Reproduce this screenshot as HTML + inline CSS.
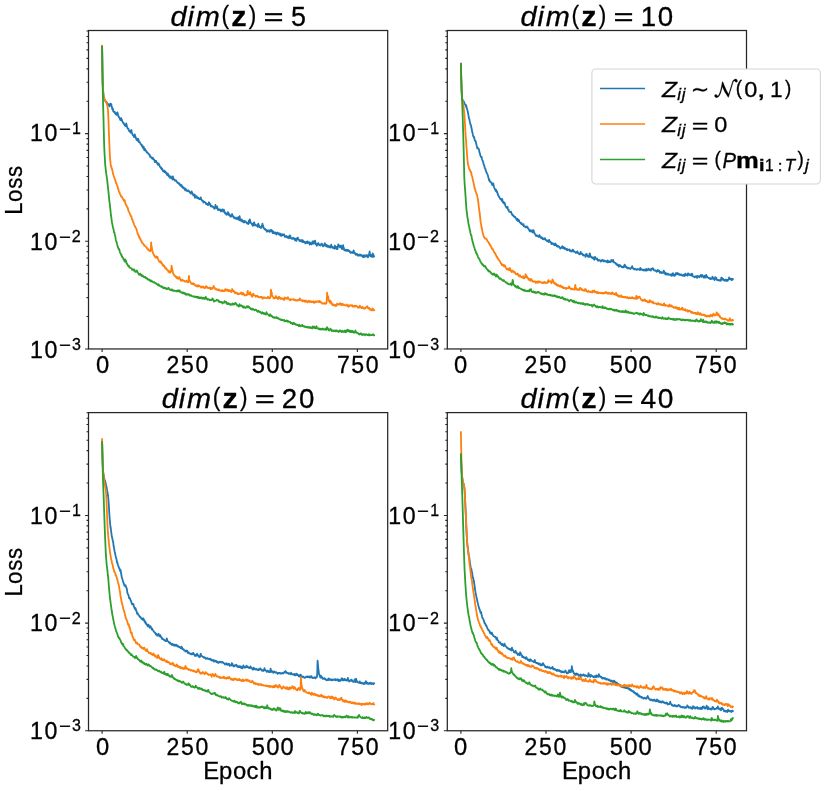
<!DOCTYPE html>
<html><head><meta charset="utf-8"><title>Training loss vs epoch for dim(z) = 5, 10, 20, 40</title><style>html,body{margin:0;padding:0;background:#fff;overflow:hidden;}svg{display:block;will-change:transform;filter:blur(0.3px);}text{font-family:"Liberation Sans",sans-serif;fill:#000;stroke:#000;stroke-width:0.3px;}</style></head><body>
<svg width="827" height="791" viewBox="0 0 827 791">
<rect width="827" height="791" fill="#fff"/>
<defs>
<clipPath id="c1"><rect x="88.50" y="30.50" width="299.20" height="318.45"/></clipPath>
<clipPath id="c2"><rect x="447.30" y="30.50" width="299.20" height="318.45"/></clipPath>
<clipPath id="c3"><rect x="88.50" y="412.60" width="299.20" height="318.15"/></clipPath>
<clipPath id="c4"><rect x="447.30" y="412.60" width="299.20" height="318.15"/></clipPath>
</defs>
<g clip-path="url(#c1)" fill="none" stroke-width="1.80" stroke-linejoin="round" stroke-linecap="square">
<path stroke="#1f77b4" d="M102.10 46.30 L102.44 72.08 L102.78 85.03 L103.12 90.85 L103.46 94.58 L103.80 96.91 L104.14 98.04 L104.48 99.30 L104.82 99.98 L105.16 100.63 L105.50 101.13 L105.84 101.87 L106.18 101.73 L106.53 102.51 L106.87 102.49 L107.21 103.66 L107.55 103.82 L107.89 104.08 L108.23 104.21 L108.57 104.91 L108.91 105.43 L109.25 105.55 L109.59 106.38 L109.93 104.16 L110.27 103.59 L110.61 104.93 L110.95 105.36 L111.29 104.06 L111.63 105.97 L111.97 107.22 L112.31 109.34 L112.65 108.36 L112.99 109.57 L113.33 111.66 L113.67 111.51 L114.01 112.13 L114.35 112.00 L114.69 111.71 L115.04 113.35 L115.38 113.89 L115.72 113.65 L116.06 114.40 L116.40 114.88 L116.74 112.93 L117.08 113.92 L117.42 112.43 L117.76 114.08 L118.10 115.02 L118.44 116.48 L118.78 116.52 L119.12 117.34 L119.46 117.54 L119.80 119.10 L120.14 118.94 L120.48 120.13 L120.82 119.00 L121.16 118.13 L121.50 119.14 L121.84 119.54 L122.18 120.92 L122.52 121.80 L122.86 122.50 L123.20 122.31 L123.55 122.73 L123.89 123.96 L124.23 124.05 L124.57 124.92 L124.91 125.68 L125.25 124.73 L125.59 126.11 L125.93 126.18 L126.27 123.49 L126.61 124.66 L126.95 126.73 L127.29 127.41 L127.63 128.59 L127.97 128.58 L128.31 128.54 L128.65 129.89 L128.99 130.22 L129.33 131.41 L129.67 131.55 L130.01 130.94 L130.35 131.54 L130.69 132.68 L131.03 130.39 L131.37 130.00 L131.71 131.72 L132.06 133.06 L132.40 133.96 L132.74 134.94 L133.08 135.22 L133.42 135.59 L133.76 135.99 L134.10 137.14 L134.44 135.23 L134.78 134.45 L135.12 136.12 L135.46 136.38 L135.80 138.20 L136.14 138.27 L136.48 139.67 L136.82 139.55 L137.16 140.36 L137.50 140.70 L137.84 138.63 L138.18 139.00 L138.52 139.51 L138.86 142.12 L139.20 141.68 L139.54 141.85 L139.88 142.49 L140.22 142.90 L140.57 144.07 L140.91 144.14 L141.25 144.64 L141.59 144.72 L141.93 145.90 L142.27 145.52 L142.61 146.98 L142.95 147.94 L143.29 146.66 L143.63 146.59 L143.97 148.82 L144.31 150.37 L144.65 148.69 L144.99 149.01 L145.33 150.52 L145.67 150.14 L146.01 150.74 L146.35 151.14 L146.69 152.11 L147.03 152.02 L147.37 152.85 L147.71 153.02 L148.05 153.06 L148.39 153.78 L148.73 153.83 L149.08 154.79 L149.42 154.54 L149.76 154.96 L150.10 156.83 L150.44 156.36 L150.78 156.75 L151.12 157.46 L151.46 157.31 L151.80 157.80 L152.14 158.54 L152.48 158.71 L152.82 157.65 L153.16 159.36 L153.50 159.05 L153.84 159.26 L154.18 159.79 L154.52 160.51 L154.86 162.07 L155.20 160.85 L155.54 161.96 L155.88 160.78 L156.22 161.09 L156.56 162.61 L156.90 162.71 L157.24 163.10 L157.59 164.11 L157.93 164.77 L158.27 164.73 L158.61 163.48 L158.95 164.22 L159.29 164.90 L159.63 165.97 L159.97 166.63 L160.31 167.25 L160.65 167.63 L160.99 168.17 L161.33 167.51 L161.67 169.33 L162.01 168.90 L162.35 168.92 L162.69 170.32 L163.03 171.06 L163.37 170.89 L163.71 171.03 L164.05 170.58 L164.39 172.19 L164.73 171.80 L165.07 171.25 L165.41 171.96 L165.75 172.90 L166.10 172.36 L166.44 173.73 L166.78 173.72 L167.12 175.04 L167.46 175.22 L167.80 173.43 L168.14 175.33 L168.48 174.69 L168.82 176.57 L169.16 176.34 L169.50 176.86 L169.84 176.20 L170.18 178.00 L170.52 177.54 L170.86 176.35 L171.20 177.68 L171.54 177.52 L171.88 178.28 L172.22 177.86 L172.56 179.63 L172.90 176.35 L173.24 177.71 L173.58 178.95 L173.92 178.93 L174.26 179.70 L174.61 179.97 L174.95 180.60 L175.29 180.32 L175.63 180.89 L175.97 180.38 L176.31 180.85 L176.65 181.55 L176.99 181.77 L177.33 182.75 L177.67 182.49 L178.01 182.93 L178.35 182.96 L178.69 183.35 L179.03 183.24 L179.37 184.58 L179.71 183.94 L180.05 184.48 L180.39 185.43 L180.73 185.77 L181.07 185.62 L181.41 185.00 L181.75 186.71 L182.09 186.93 L182.43 186.28 L182.77 187.84 L183.12 187.30 L183.46 187.35 L183.80 188.34 L184.14 188.47 L184.48 188.97 L184.82 188.20 L185.16 190.43 L185.50 189.30 L185.84 189.02 L186.18 190.51 L186.52 190.21 L186.86 190.85 L187.20 190.70 L187.54 191.06 L187.88 191.24 L188.22 190.29 L188.56 190.93 L188.90 190.89 L189.24 191.16 L189.58 192.13 L189.92 192.71 L190.26 192.65 L190.60 192.58 L190.94 193.66 L191.28 192.27 L191.63 191.42 L191.97 192.94 L192.31 192.80 L192.65 194.11 L192.99 194.47 L193.33 195.36 L193.67 194.62 L194.01 195.06 L194.35 195.87 L194.69 194.51 L195.03 197.94 L195.37 195.98 L195.71 196.19 L196.05 197.32 L196.39 197.03 L196.73 196.24 L197.07 197.84 L197.41 198.16 L197.75 197.46 L198.09 197.84 L198.43 198.54 L198.77 197.99 L199.11 199.00 L199.45 199.10 L199.79 198.81 L200.14 198.56 L200.48 199.14 L200.82 197.31 L201.16 199.39 L201.50 199.61 L201.84 200.49 L202.18 200.52 L202.52 200.93 L202.86 200.62 L203.20 201.71 L203.54 202.60 L203.88 201.62 L204.22 201.69 L204.56 202.16 L204.90 202.19 L205.24 202.28 L205.58 202.97 L205.92 202.94 L206.26 204.14 L206.60 203.53 L206.94 203.92 L207.28 204.49 L207.62 203.98 L207.96 205.17 L208.30 204.11 L208.65 203.84 L208.99 202.27 L209.33 203.41 L209.67 203.41 L210.01 204.76 L210.35 204.28 L210.69 206.41 L211.03 205.88 L211.37 205.84 L211.71 205.94 L212.05 206.47 L212.39 206.79 L212.73 206.52 L213.07 206.77 L213.41 207.23 L213.75 207.33 L214.09 208.41 L214.43 208.72 L214.77 208.19 L215.11 208.20 L215.45 204.96 L215.79 207.41 L216.13 207.83 L216.47 208.28 L216.81 206.93 L217.16 206.46 L217.50 208.94 L217.84 208.79 L218.18 210.18 L218.52 209.35 L218.86 209.86 L219.20 209.35 L219.54 210.15 L219.88 210.19 L220.22 209.47 L220.56 210.17 L220.90 211.43 L221.24 211.22 L221.58 210.29 L221.92 210.58 L222.26 209.33 L222.60 210.59 L222.94 210.61 L223.28 211.64 L223.62 209.73 L223.96 209.88 L224.30 210.77 L224.64 212.42 L224.98 213.27 L225.32 212.74 L225.67 213.49 L226.01 213.83 L226.35 214.73 L226.69 214.65 L227.03 213.65 L227.37 214.35 L227.71 212.26 L228.05 214.04 L228.39 212.62 L228.73 213.87 L229.07 215.42 L229.41 214.27 L229.75 214.68 L230.09 215.95 L230.43 216.48 L230.77 215.73 L231.11 216.57 L231.45 216.24 L231.79 215.74 L232.13 214.03 L232.47 215.85 L232.81 215.56 L233.15 216.52 L233.49 216.95 L233.83 217.91 L234.18 217.53 L234.52 217.10 L234.86 218.15 L235.20 218.46 L235.54 218.17 L235.88 218.29 L236.22 218.51 L236.56 217.81 L236.90 219.06 L237.24 219.22 L237.58 218.61 L237.92 219.01 L238.26 217.11 L238.60 218.44 L238.94 218.94 L239.28 220.26 L239.62 216.04 L239.96 218.52 L240.30 219.60 L240.64 219.88 L240.98 220.79 L241.32 219.88 L241.66 219.41 L242.00 221.39 L242.34 220.46 L242.69 221.13 L243.03 220.81 L243.37 222.24 L243.71 222.28 L244.05 221.47 L244.39 222.36 L244.73 221.03 L245.07 221.38 L245.41 221.21 L245.75 221.65 L246.09 222.55 L246.43 222.71 L246.77 222.59 L247.11 223.58 L247.45 222.84 L247.79 223.51 L248.13 223.66 L248.47 223.98 L248.81 220.66 L249.15 222.91 L249.49 220.32 L249.83 219.41 L250.17 220.55 L250.51 222.46 L250.85 223.01 L251.20 222.98 L251.54 223.44 L251.88 224.15 L252.22 224.37 L252.56 225.62 L252.90 225.91 L253.24 225.34 L253.58 222.75 L253.92 222.87 L254.26 222.48 L254.60 223.86 L254.94 225.32 L255.28 225.22 L255.62 225.02 L255.96 225.61 L256.30 225.62 L256.64 225.56 L256.98 225.13 L257.32 225.80 L257.66 226.83 L258.00 224.34 L258.34 223.65 L258.68 225.36 L259.02 225.46 L259.36 227.13 L259.71 227.20 L260.05 227.00 L260.39 227.75 L260.73 227.88 L261.07 227.89 L261.41 227.67 L261.75 225.67 L262.09 226.19 L262.43 223.66 L262.77 225.44 L263.11 225.56 L263.45 227.37 L263.79 228.20 L264.13 228.43 L264.47 228.90 L264.81 229.41 L265.15 228.97 L265.49 229.45 L265.83 230.09 L266.17 230.54 L266.51 230.25 L266.85 231.69 L267.19 230.34 L267.53 231.12 L267.87 231.42 L268.22 230.75 L268.56 230.48 L268.90 230.40 L269.24 231.28 L269.58 231.90 L269.92 231.29 L270.26 230.06 L270.60 230.32 L270.94 231.32 L271.28 229.93 L271.62 230.49 L271.96 231.00 L272.30 230.67 L272.64 233.06 L272.98 231.28 L273.32 231.69 L273.66 231.80 L274.00 233.29 L274.34 232.29 L274.68 233.32 L275.02 233.40 L275.36 233.33 L275.70 232.55 L276.04 233.06 L276.38 234.48 L276.73 232.85 L277.07 233.04 L277.41 232.55 L277.75 233.51 L278.09 233.52 L278.43 234.08 L278.77 233.28 L279.11 234.64 L279.45 234.58 L279.79 233.38 L280.13 234.66 L280.47 235.59 L280.81 234.16 L281.15 234.88 L281.49 235.84 L281.83 234.35 L282.17 234.19 L282.51 234.71 L282.85 235.18 L283.19 234.92 L283.53 234.55 L283.87 234.93 L284.21 234.51 L284.55 235.90 L284.89 236.94 L285.24 236.78 L285.58 236.86 L285.92 236.43 L286.26 236.89 L286.60 236.05 L286.94 237.23 L287.28 236.82 L287.62 237.72 L287.96 237.51 L288.30 236.77 L288.64 237.60 L288.98 238.30 L289.32 236.75 L289.66 235.49 L290.00 236.11 L290.34 235.78 L290.68 237.82 L291.02 238.48 L291.36 238.53 L291.70 238.48 L292.04 238.52 L292.38 238.82 L292.72 238.15 L293.06 237.76 L293.40 238.39 L293.75 238.78 L294.09 238.31 L294.43 238.97 L294.77 239.08 L295.11 240.43 L295.45 239.71 L295.79 238.70 L296.13 240.11 L296.47 240.78 L296.81 238.43 L297.15 238.72 L297.49 239.08 L297.83 237.68 L298.17 238.59 L298.51 239.31 L298.85 239.48 L299.19 240.33 L299.53 240.94 L299.87 240.46 L300.21 240.34 L300.55 240.20 L300.89 240.38 L301.23 241.61 L301.57 240.86 L301.91 240.03 L302.26 241.17 L302.60 241.98 L302.94 240.29 L303.28 241.98 L303.62 242.10 L303.96 241.57 L304.30 241.63 L304.64 242.31 L304.98 242.34 L305.32 243.45 L305.66 242.94 L306.00 241.90 L306.34 242.34 L306.68 242.92 L307.02 241.52 L307.36 241.35 L307.70 241.87 L308.04 243.20 L308.38 242.46 L308.72 242.51 L309.06 242.15 L309.40 242.88 L309.74 244.61 L310.08 242.70 L310.42 243.65 L310.77 242.95 L311.11 243.91 L311.45 244.33 L311.79 243.13 L312.13 243.53 L312.47 241.35 L312.81 242.69 L313.15 243.83 L313.49 241.33 L313.83 241.76 L314.17 241.46 L314.51 242.20 L314.85 243.14 L315.19 240.72 L315.53 244.11 L315.87 244.58 L316.21 244.00 L316.55 244.32 L316.89 245.72 L317.23 243.78 L317.57 244.41 L317.91 243.57 L318.25 243.09 L318.59 243.62 L318.93 244.14 L319.28 245.06 L319.62 245.03 L319.96 245.39 L320.30 245.65 L320.64 245.29 L320.98 245.09 L321.32 243.57 L321.66 243.64 L322.00 243.96 L322.34 244.43 L322.68 245.32 L323.02 246.44 L323.36 246.11 L323.70 245.78 L324.04 245.54 L324.38 245.49 L324.72 243.23 L325.06 243.94 L325.40 244.07 L325.74 245.12 L326.08 246.36 L326.42 244.84 L326.76 246.20 L327.10 245.32 L327.44 246.82 L327.79 246.42 L328.13 245.72 L328.47 246.79 L328.81 246.32 L329.15 246.26 L329.49 247.42 L329.83 247.06 L330.17 246.07 L330.51 247.69 L330.85 246.94 L331.19 244.62 L331.53 246.56 L331.87 246.77 L332.21 246.68 L332.55 247.79 L332.89 247.03 L333.23 248.10 L333.57 247.35 L333.91 248.32 L334.25 247.42 L334.59 248.55 L334.93 245.52 L335.27 247.48 L335.61 246.99 L335.95 247.70 L336.30 248.78 L336.64 246.94 L336.98 248.03 L337.32 249.14 L337.66 247.89 L338.00 245.70 L338.34 244.34 L338.68 246.30 L339.02 245.36 L339.36 246.08 L339.70 246.60 L340.04 247.44 L340.38 245.86 L340.72 246.86 L341.06 245.55 L341.40 246.99 L341.74 248.41 L342.08 249.08 L342.42 247.66 L342.76 247.69 L343.10 245.15 L343.44 248.70 L343.78 247.70 L344.12 249.90 L344.46 250.29 L344.81 249.90 L345.15 249.70 L345.49 250.33 L345.83 249.78 L346.17 250.74 L346.51 250.68 L346.85 250.84 L347.19 249.75 L347.53 250.73 L347.87 249.93 L348.21 251.11 L348.55 250.36 L348.89 250.56 L349.23 250.95 L349.57 250.95 L349.91 252.27 L350.25 252.41 L350.59 252.78 L350.93 252.19 L351.27 252.52 L351.61 252.18 L351.95 251.97 L352.29 252.91 L352.63 252.29 L352.97 251.93 L353.32 252.96 L353.66 250.36 L354.00 252.08 L354.34 252.41 L354.68 252.91 L355.02 252.93 L355.36 254.37 L355.70 254.37 L356.04 254.92 L356.38 254.49 L356.72 253.82 L357.06 254.49 L357.40 254.16 L357.74 255.23 L358.08 255.79 L358.42 255.40 L358.76 254.97 L359.10 255.15 L359.44 255.29 L359.78 254.56 L360.12 255.63 L360.46 255.67 L360.80 254.71 L361.14 255.17 L361.48 255.78 L361.83 255.41 L362.17 255.55 L362.51 256.57 L362.85 256.33 L363.19 257.20 L363.53 255.58 L363.87 255.19 L364.21 256.81 L364.55 256.86 L364.89 255.92 L365.23 255.53 L365.57 256.37 L365.91 255.42 L366.25 256.25 L366.59 255.21 L366.93 256.34 L367.27 255.27 L367.61 256.36 L367.95 257.34 L368.29 256.10 L368.63 256.14 L368.97 255.13 L369.31 253.11 L369.65 251.50 L369.99 254.51 L370.34 254.82 L370.68 256.33 L371.02 254.86 L371.36 255.79 L371.70 256.19 L372.04 256.99 L372.38 256.70 L372.72 253.50 L373.06 254.29 L373.40 254.60 L373.74 256.76 L374.08 256.19"/>
<path stroke="#ff7f0e" d="M102.10 46.00 L102.44 72.03 L102.78 85.27 L103.12 91.04 L103.46 94.82 L103.80 97.29 L104.14 98.20 L104.48 99.24 L104.82 99.95 L105.16 100.41 L105.50 101.49 L105.84 101.67 L106.18 102.30 L106.53 102.86 L106.87 104.23 L107.21 105.14 L107.55 106.91 L107.89 109.43 L108.23 114.82 L108.57 122.48 L108.91 132.87 L109.25 141.06 L109.59 149.24 L109.93 156.75 L110.27 160.64 L110.61 163.91 L110.95 166.38 L111.29 166.59 L111.63 167.90 L111.97 169.12 L112.31 170.08 L112.65 171.74 L112.99 173.61 L113.33 174.75 L113.67 175.68 L114.01 176.74 L114.35 177.56 L114.69 178.92 L115.04 179.15 L115.38 180.41 L115.72 181.69 L116.06 183.32 L116.40 183.22 L116.74 184.40 L117.08 185.62 L117.42 185.89 L117.76 187.08 L118.10 189.09 L118.44 189.07 L118.78 191.21 L119.12 192.09 L119.46 191.98 L119.80 193.32 L120.14 194.41 L120.48 194.63 L120.82 195.58 L121.16 196.68 L121.50 196.47 L121.84 196.83 L122.18 197.21 L122.52 198.33 L122.86 198.61 L123.20 199.25 L123.55 199.93 L123.89 200.86 L124.23 200.69 L124.57 200.05 L124.91 200.83 L125.25 203.19 L125.59 203.65 L125.93 204.78 L126.27 205.16 L126.61 205.76 L126.95 206.97 L127.29 207.02 L127.63 207.63 L127.97 208.73 L128.31 210.64 L128.65 210.98 L128.99 211.85 L129.33 212.42 L129.67 213.10 L130.01 214.54 L130.35 215.01 L130.69 215.59 L131.03 216.53 L131.37 216.29 L131.71 217.82 L132.06 219.23 L132.40 219.51 L132.74 221.35 L133.08 221.52 L133.42 222.77 L133.76 223.32 L134.10 224.44 L134.44 225.42 L134.78 226.09 L135.12 226.74 L135.46 227.09 L135.80 227.96 L136.14 228.46 L136.48 229.13 L136.82 230.58 L137.16 231.85 L137.50 232.75 L137.84 234.37 L138.18 234.46 L138.52 235.04 L138.86 236.74 L139.20 236.45 L139.54 237.99 L139.88 238.02 L140.22 239.23 L140.57 239.05 L140.91 240.78 L141.25 241.01 L141.59 241.29 L141.93 242.82 L142.27 242.98 L142.61 243.20 L142.95 243.36 L143.29 244.06 L143.63 244.44 L143.97 245.18 L144.31 245.61 L144.65 245.44 L144.99 245.85 L145.33 246.22 L145.67 246.27 L146.01 246.90 L146.35 247.43 L146.69 248.07 L147.03 248.64 L147.37 248.18 L147.71 249.03 L148.05 249.00 L148.39 250.30 L148.73 249.86 L149.08 250.43 L149.42 250.25 L149.76 250.66 L150.10 251.32 L150.44 251.07 L150.78 250.00 L151.12 242.42 L151.46 246.18 L151.80 247.11 L152.14 250.21 L152.48 251.07 L152.82 252.83 L153.16 252.89 L153.50 254.39 L153.84 254.57 L154.18 255.25 L154.52 256.02 L154.86 256.40 L155.20 257.09 L155.54 257.66 L155.88 257.75 L156.22 256.29 L156.56 256.79 L156.90 257.52 L157.24 256.84 L157.59 257.21 L157.93 259.19 L158.27 259.56 L158.61 260.19 L158.95 261.20 L159.29 261.59 L159.63 261.87 L159.97 261.80 L160.31 262.41 L160.65 261.27 L160.99 261.61 L161.33 263.24 L161.67 263.36 L162.01 263.13 L162.35 264.51 L162.69 264.49 L163.03 265.84 L163.37 266.05 L163.71 265.21 L164.05 265.75 L164.39 266.01 L164.73 266.67 L165.07 267.94 L165.41 268.15 L165.75 268.20 L166.10 268.93 L166.44 268.32 L166.78 269.56 L167.12 270.11 L167.46 270.05 L167.80 270.17 L168.14 270.97 L168.48 271.80 L168.82 271.44 L169.16 271.24 L169.50 272.49 L169.84 271.52 L170.18 272.64 L170.52 272.24 L170.86 271.75 L171.20 270.44 L171.54 265.69 L171.88 268.03 L172.22 269.27 L172.56 270.67 L172.90 272.43 L173.24 273.91 L173.58 274.18 L173.92 274.73 L174.26 275.09 L174.61 275.87 L174.95 276.10 L175.29 276.38 L175.63 276.19 L175.97 277.17 L176.31 277.53 L176.65 276.81 L176.99 278.42 L177.33 278.08 L177.67 277.86 L178.01 277.56 L178.35 278.73 L178.69 278.86 L179.03 278.42 L179.37 277.08 L179.71 278.67 L180.05 278.55 L180.39 279.00 L180.73 280.56 L181.07 280.57 L181.41 280.36 L181.75 280.05 L182.09 280.66 L182.43 279.74 L182.77 280.81 L183.12 280.65 L183.46 280.59 L183.80 280.49 L184.14 280.68 L184.48 280.94 L184.82 281.31 L185.16 281.83 L185.50 281.31 L185.84 281.37 L186.18 281.11 L186.52 280.63 L186.86 281.70 L187.20 281.89 L187.54 282.17 L187.88 281.91 L188.22 282.25 L188.56 281.20 L188.90 275.84 L189.24 279.41 L189.58 280.68 L189.92 281.21 L190.26 281.95 L190.60 282.43 L190.94 282.52 L191.28 283.67 L191.63 283.37 L191.97 283.98 L192.31 283.93 L192.65 284.17 L192.99 283.21 L193.33 283.55 L193.67 284.09 L194.01 284.33 L194.35 284.04 L194.69 284.70 L195.03 285.50 L195.37 285.52 L195.71 285.33 L196.05 285.86 L196.39 285.47 L196.73 286.38 L197.07 286.15 L197.41 285.53 L197.75 286.41 L198.09 286.52 L198.43 285.29 L198.77 286.10 L199.11 286.28 L199.45 285.81 L199.79 286.20 L200.14 286.27 L200.48 286.67 L200.82 286.73 L201.16 287.72 L201.50 286.69 L201.84 287.36 L202.18 287.05 L202.52 287.20 L202.86 286.74 L203.20 286.53 L203.54 287.03 L203.88 287.66 L204.22 288.04 L204.56 287.73 L204.90 287.74 L205.24 287.24 L205.58 287.89 L205.92 286.29 L206.26 286.12 L206.60 286.72 L206.94 286.69 L207.28 287.87 L207.62 287.68 L207.96 287.67 L208.30 288.00 L208.65 288.14 L208.99 287.92 L209.33 287.70 L209.67 287.77 L210.01 287.68 L210.35 288.58 L210.69 289.30 L211.03 287.90 L211.37 288.65 L211.71 288.82 L212.05 288.34 L212.39 288.79 L212.73 288.05 L213.07 287.34 L213.41 286.90 L213.75 286.00 L214.09 287.45 L214.43 287.78 L214.77 287.76 L215.11 288.55 L215.45 289.27 L215.79 289.12 L216.13 289.37 L216.47 289.00 L216.81 289.55 L217.16 289.85 L217.50 289.63 L217.84 290.17 L218.18 289.58 L218.52 289.41 L218.86 289.30 L219.20 290.43 L219.54 290.05 L219.88 290.52 L220.22 290.38 L220.56 290.89 L220.90 290.82 L221.24 290.26 L221.58 290.57 L221.92 290.94 L222.26 290.13 L222.60 291.20 L222.94 291.18 L223.28 291.15 L223.62 290.77 L223.96 291.02 L224.30 290.54 L224.64 290.99 L224.98 290.50 L225.32 289.16 L225.67 289.11 L226.01 289.98 L226.35 290.49 L226.69 289.82 L227.03 290.15 L227.37 289.58 L227.71 289.91 L228.05 290.94 L228.39 291.00 L228.73 290.10 L229.07 289.95 L229.41 290.97 L229.75 291.15 L230.09 290.55 L230.43 290.92 L230.77 291.71 L231.11 291.48 L231.45 291.89 L231.79 291.35 L232.13 289.02 L232.47 289.57 L232.81 290.09 L233.15 291.18 L233.49 290.65 L233.83 291.06 L234.18 291.72 L234.52 291.97 L234.86 292.79 L235.20 292.26 L235.54 293.25 L235.88 293.10 L236.22 292.82 L236.56 292.68 L236.90 292.88 L237.24 293.05 L237.58 294.21 L237.92 294.20 L238.26 293.49 L238.60 294.25 L238.94 293.93 L239.28 293.60 L239.62 293.75 L239.96 293.87 L240.30 293.79 L240.64 293.25 L240.98 292.56 L241.32 293.32 L241.66 292.74 L242.00 294.29 L242.34 294.55 L242.69 294.07 L243.03 292.89 L243.37 293.51 L243.71 293.84 L244.05 294.41 L244.39 295.34 L244.73 294.50 L245.07 295.29 L245.41 295.40 L245.75 295.16 L246.09 295.34 L246.43 295.01 L246.77 295.09 L247.11 294.69 L247.45 291.52 L247.79 290.85 L248.13 293.90 L248.47 293.57 L248.81 294.39 L249.15 293.82 L249.49 294.24 L249.83 293.52 L250.17 292.19 L250.51 293.96 L250.85 294.67 L251.20 294.43 L251.54 295.63 L251.88 295.32 L252.22 296.83 L252.56 295.79 L252.90 295.43 L253.24 293.59 L253.58 294.40 L253.92 295.16 L254.26 295.35 L254.60 295.45 L254.94 295.33 L255.28 295.92 L255.62 296.78 L255.96 295.81 L256.30 296.39 L256.64 296.34 L256.98 296.10 L257.32 295.64 L257.66 296.15 L258.00 296.99 L258.34 296.81 L258.68 296.79 L259.02 297.29 L259.36 297.23 L259.71 297.10 L260.05 297.36 L260.39 296.86 L260.73 296.99 L261.07 297.21 L261.41 297.05 L261.75 296.87 L262.09 297.98 L262.43 297.51 L262.77 298.67 L263.11 297.32 L263.45 297.88 L263.79 297.46 L264.13 297.76 L264.47 298.02 L264.81 297.44 L265.15 297.72 L265.49 297.72 L265.83 297.77 L266.17 298.02 L266.51 298.23 L266.85 298.20 L267.19 298.01 L267.53 297.68 L267.87 296.67 L268.22 297.22 L268.56 297.56 L268.90 298.18 L269.24 297.90 L269.58 297.63 L269.92 298.30 L270.26 297.44 L270.60 295.94 L270.94 289.68 L271.28 292.19 L271.62 292.11 L271.96 294.24 L272.30 295.88 L272.64 296.48 L272.98 296.87 L273.32 297.40 L273.66 298.42 L274.00 297.92 L274.34 298.39 L274.68 297.86 L275.02 297.67 L275.36 297.94 L275.70 296.14 L276.04 296.04 L276.38 296.70 L276.73 297.99 L277.07 297.86 L277.41 297.88 L277.75 297.91 L278.09 299.14 L278.43 298.58 L278.77 296.77 L279.11 297.08 L279.45 297.18 L279.79 298.18 L280.13 298.43 L280.47 297.99 L280.81 299.07 L281.15 298.83 L281.49 298.35 L281.83 298.59 L282.17 298.48 L282.51 298.88 L282.85 298.91 L283.19 298.46 L283.53 299.72 L283.87 299.35 L284.21 299.72 L284.55 299.47 L284.89 297.39 L285.24 297.96 L285.58 297.94 L285.92 298.40 L286.26 298.40 L286.60 298.47 L286.94 298.75 L287.28 297.63 L287.62 298.13 L287.96 297.25 L288.30 298.70 L288.64 298.69 L288.98 299.13 L289.32 299.49 L289.66 299.75 L290.00 300.43 L290.34 299.85 L290.68 299.25 L291.02 299.59 L291.36 299.37 L291.70 299.51 L292.04 299.32 L292.38 299.47 L292.72 299.65 L293.06 299.68 L293.40 299.21 L293.75 299.24 L294.09 299.66 L294.43 300.23 L294.77 299.62 L295.11 299.74 L295.45 300.21 L295.79 300.26 L296.13 300.60 L296.47 300.32 L296.81 300.16 L297.15 300.69 L297.49 300.54 L297.83 299.94 L298.17 300.29 L298.51 299.68 L298.85 300.23 L299.19 300.01 L299.53 299.95 L299.87 298.38 L300.21 299.20 L300.55 299.70 L300.89 300.26 L301.23 300.40 L301.57 300.27 L301.91 300.12 L302.26 301.16 L302.60 301.30 L302.94 300.66 L303.28 301.09 L303.62 300.36 L303.96 300.39 L304.30 300.92 L304.64 301.61 L304.98 300.71 L305.32 300.83 L305.66 301.79 L306.00 300.52 L306.34 301.52 L306.68 301.50 L307.02 301.29 L307.36 301.48 L307.70 302.44 L308.04 301.06 L308.38 301.32 L308.72 300.90 L309.06 300.95 L309.40 300.88 L309.74 302.12 L310.08 301.73 L310.42 301.08 L310.77 301.57 L311.11 302.07 L311.45 302.14 L311.79 301.51 L312.13 302.06 L312.47 302.13 L312.81 301.61 L313.15 301.87 L313.49 301.25 L313.83 302.78 L314.17 302.23 L314.51 302.55 L314.85 302.45 L315.19 301.69 L315.53 301.55 L315.87 302.43 L316.21 301.56 L316.55 301.79 L316.89 301.57 L317.23 301.23 L317.57 301.31 L317.91 301.51 L318.25 302.09 L318.59 301.23 L318.93 301.90 L319.28 301.94 L319.62 300.97 L319.96 302.14 L320.30 301.95 L320.64 301.95 L320.98 302.65 L321.32 302.42 L321.66 302.60 L322.00 303.15 L322.34 303.60 L322.68 303.41 L323.02 303.58 L323.36 303.60 L323.70 303.70 L324.04 303.26 L324.38 303.01 L324.72 303.29 L325.06 303.65 L325.40 303.47 L325.74 303.80 L326.08 303.54 L326.42 303.09 L326.76 301.05 L327.10 292.74 L327.44 296.08 L327.79 296.93 L328.13 296.32 L328.47 298.21 L328.81 300.62 L329.15 301.56 L329.49 301.84 L329.83 302.60 L330.17 300.55 L330.51 302.09 L330.85 302.99 L331.19 301.92 L331.53 303.12 L331.87 304.22 L332.21 304.69 L332.55 304.28 L332.89 304.79 L333.23 305.41 L333.57 304.76 L333.91 304.49 L334.25 305.03 L334.59 304.96 L334.93 305.64 L335.27 305.26 L335.61 304.93 L335.95 306.15 L336.30 305.04 L336.64 305.13 L336.98 303.65 L337.32 304.22 L337.66 304.38 L338.00 304.79 L338.34 304.52 L338.68 303.93 L339.02 304.38 L339.36 304.42 L339.70 304.42 L340.04 303.16 L340.38 303.45 L340.72 304.62 L341.06 305.05 L341.40 303.89 L341.74 304.86 L342.08 304.42 L342.42 303.76 L342.76 305.12 L343.10 304.81 L343.44 304.50 L343.78 304.59 L344.12 304.69 L344.46 305.13 L344.81 305.06 L345.15 305.42 L345.49 305.28 L345.83 305.49 L346.17 305.23 L346.51 305.46 L346.85 304.48 L347.19 305.39 L347.53 305.84 L347.87 305.81 L348.21 306.25 L348.55 306.88 L348.89 305.14 L349.23 305.98 L349.57 305.80 L349.91 305.87 L350.25 305.48 L350.59 305.59 L350.93 305.43 L351.27 305.17 L351.61 305.62 L351.95 305.71 L352.29 305.21 L352.63 306.60 L352.97 306.18 L353.32 306.02 L353.66 306.55 L354.00 306.25 L354.34 305.69 L354.68 306.66 L355.02 305.84 L355.36 306.45 L355.70 306.43 L356.04 305.67 L356.38 306.33 L356.72 306.39 L357.06 306.34 L357.40 306.67 L357.74 307.37 L358.08 307.74 L358.42 307.36 L358.76 306.98 L359.10 307.62 L359.44 306.90 L359.78 305.60 L360.12 306.41 L360.46 307.19 L360.80 307.37 L361.14 307.83 L361.48 308.08 L361.83 307.90 L362.17 306.92 L362.51 307.22 L362.85 307.91 L363.19 307.50 L363.53 308.56 L363.87 307.92 L364.21 308.01 L364.55 308.54 L364.89 308.67 L365.23 308.17 L365.57 307.94 L365.91 307.30 L366.25 307.51 L366.59 307.23 L366.93 306.57 L367.27 306.29 L367.61 307.02 L367.95 307.81 L368.29 308.40 L368.63 308.64 L368.97 307.76 L369.31 308.49 L369.65 308.88 L369.99 309.64 L370.34 309.04 L370.68 309.34 L371.02 309.59 L371.36 310.33 L371.70 309.40 L372.04 309.51 L372.38 310.21 L372.72 308.52 L373.06 309.92 L373.40 309.93 L373.74 309.62 L374.08 310.28"/>
<path stroke="#2ca02c" d="M102.10 46.60 L102.44 71.03 L102.78 90.91 L103.12 104.55 L103.46 116.98 L103.80 131.48 L104.14 144.22 L104.48 152.53 L104.82 158.00 L105.16 164.02 L105.50 167.30 L105.84 170.59 L106.18 173.43 L106.53 175.69 L106.87 177.80 L107.21 180.41 L107.55 183.48 L107.89 186.26 L108.23 189.93 L108.57 192.80 L108.91 196.33 L109.25 200.09 L109.59 202.70 L109.93 204.81 L110.27 208.34 L110.61 211.77 L110.95 215.23 L111.29 217.22 L111.63 219.77 L111.97 222.48 L112.31 223.83 L112.65 225.92 L112.99 227.92 L113.33 228.28 L113.67 230.19 L114.01 232.25 L114.35 232.52 L114.69 234.14 L115.04 235.41 L115.38 236.90 L115.72 239.15 L116.06 240.72 L116.40 241.63 L116.74 242.63 L117.08 244.17 L117.42 245.25 L117.76 246.83 L118.10 247.61 L118.44 248.37 L118.78 249.45 L119.12 248.93 L119.46 250.11 L119.80 251.79 L120.14 252.78 L120.48 253.39 L120.82 254.00 L121.16 255.08 L121.50 254.62 L121.84 256.54 L122.18 257.18 L122.52 257.03 L122.86 257.83 L123.20 258.28 L123.55 259.58 L123.89 259.22 L124.23 260.17 L124.57 261.15 L124.91 261.57 L125.25 259.40 L125.59 260.90 L125.93 260.62 L126.27 261.85 L126.61 263.67 L126.95 263.45 L127.29 264.58 L127.63 264.59 L127.97 265.88 L128.31 265.79 L128.65 266.04 L128.99 265.92 L129.33 267.43 L129.67 267.33 L130.01 267.65 L130.35 267.84 L130.69 268.02 L131.03 268.06 L131.37 268.35 L131.71 268.67 L132.06 269.72 L132.40 269.01 L132.74 269.58 L133.08 269.93 L133.42 270.35 L133.76 270.58 L134.10 269.41 L134.44 269.86 L134.78 270.92 L135.12 271.72 L135.46 271.87 L135.80 271.92 L136.14 271.78 L136.48 271.10 L136.82 270.52 L137.16 271.88 L137.50 271.96 L137.84 272.80 L138.18 273.11 L138.52 273.68 L138.86 273.86 L139.20 274.92 L139.54 274.68 L139.88 274.20 L140.22 273.58 L140.57 274.61 L140.91 274.86 L141.25 275.52 L141.59 274.71 L141.93 276.17 L142.27 276.36 L142.61 275.71 L142.95 275.76 L143.29 276.13 L143.63 276.68 L143.97 277.06 L144.31 277.38 L144.65 276.87 L144.99 276.82 L145.33 277.06 L145.67 277.95 L146.01 277.96 L146.35 278.50 L146.69 277.92 L147.03 278.48 L147.37 278.49 L147.71 279.52 L148.05 279.43 L148.39 279.30 L148.73 279.44 L149.08 279.96 L149.42 279.74 L149.76 279.85 L150.10 280.53 L150.44 281.41 L150.78 280.65 L151.12 280.72 L151.46 280.69 L151.80 280.82 L152.14 281.66 L152.48 281.96 L152.82 281.86 L153.16 282.16 L153.50 282.27 L153.84 282.47 L154.18 282.07 L154.52 282.64 L154.86 283.02 L155.20 282.90 L155.54 283.19 L155.88 283.24 L156.22 283.50 L156.56 284.13 L156.90 283.90 L157.24 284.19 L157.59 284.72 L157.93 284.85 L158.27 285.41 L158.61 284.27 L158.95 285.48 L159.29 285.18 L159.63 285.53 L159.97 285.97 L160.31 286.23 L160.65 286.39 L160.99 286.26 L161.33 286.93 L161.67 286.43 L162.01 286.64 L162.35 287.13 L162.69 286.81 L163.03 287.91 L163.37 287.66 L163.71 288.20 L164.05 287.57 L164.39 287.59 L164.73 287.91 L165.07 288.24 L165.41 287.91 L165.75 288.37 L166.10 288.35 L166.44 289.04 L166.78 288.36 L167.12 289.08 L167.46 288.59 L167.80 288.56 L168.14 288.60 L168.48 287.73 L168.82 288.36 L169.16 289.06 L169.50 289.05 L169.84 289.45 L170.18 290.00 L170.52 289.69 L170.86 289.81 L171.20 289.77 L171.54 289.42 L171.88 290.36 L172.22 289.59 L172.56 290.53 L172.90 290.40 L173.24 290.89 L173.58 290.56 L173.92 290.38 L174.26 290.83 L174.61 290.63 L174.95 290.87 L175.29 291.04 L175.63 291.08 L175.97 291.15 L176.31 291.01 L176.65 291.32 L176.99 290.71 L177.33 291.35 L177.67 290.35 L178.01 291.28 L178.35 290.99 L178.69 290.32 L179.03 291.22 L179.37 290.34 L179.71 290.82 L180.05 291.88 L180.39 291.87 L180.73 291.66 L181.07 292.36 L181.41 292.51 L181.75 292.75 L182.09 292.41 L182.43 293.17 L182.77 293.31 L183.12 292.68 L183.46 292.52 L183.80 292.69 L184.14 292.80 L184.48 293.85 L184.82 293.49 L185.16 293.25 L185.50 293.49 L185.84 293.89 L186.18 294.84 L186.52 294.10 L186.86 294.32 L187.20 294.55 L187.54 294.35 L187.88 294.66 L188.22 293.99 L188.56 294.70 L188.90 294.71 L189.24 295.05 L189.58 294.58 L189.92 295.75 L190.26 295.22 L190.60 295.40 L190.94 295.18 L191.28 295.36 L191.63 295.92 L191.97 296.17 L192.31 296.19 L192.65 296.45 L192.99 296.38 L193.33 296.23 L193.67 296.61 L194.01 296.62 L194.35 296.47 L194.69 296.85 L195.03 297.14 L195.37 296.84 L195.71 296.64 L196.05 296.65 L196.39 297.36 L196.73 296.83 L197.07 297.04 L197.41 297.16 L197.75 297.75 L198.09 296.79 L198.43 297.65 L198.77 298.03 L199.11 297.41 L199.45 298.30 L199.79 298.04 L200.14 297.74 L200.48 298.08 L200.82 297.53 L201.16 297.86 L201.50 298.30 L201.84 297.55 L202.18 298.68 L202.52 298.16 L202.86 298.67 L203.20 298.45 L203.54 297.76 L203.88 298.44 L204.22 298.80 L204.56 298.41 L204.90 298.37 L205.24 298.77 L205.58 297.01 L205.92 297.16 L206.26 297.92 L206.60 298.78 L206.94 298.58 L207.28 299.29 L207.62 299.68 L207.96 299.31 L208.30 299.03 L208.65 299.09 L208.99 299.64 L209.33 300.05 L209.67 299.93 L210.01 300.11 L210.35 299.85 L210.69 300.18 L211.03 299.99 L211.37 300.10 L211.71 299.79 L212.05 299.48 L212.39 298.46 L212.73 299.00 L213.07 299.55 L213.41 300.46 L213.75 300.42 L214.09 301.66 L214.43 301.09 L214.77 300.58 L215.11 300.80 L215.45 300.93 L215.79 300.63 L216.13 300.68 L216.47 300.34 L216.81 299.66 L217.16 300.46 L217.50 300.38 L217.84 300.51 L218.18 300.28 L218.52 300.48 L218.86 301.73 L219.20 301.04 L219.54 301.65 L219.88 302.06 L220.22 301.79 L220.56 301.89 L220.90 302.11 L221.24 302.50 L221.58 302.04 L221.92 302.65 L222.26 302.74 L222.60 303.45 L222.94 302.59 L223.28 302.40 L223.62 302.67 L223.96 302.48 L224.30 302.63 L224.64 301.18 L224.98 301.78 L225.32 301.72 L225.67 302.36 L226.01 301.84 L226.35 302.70 L226.69 303.77 L227.03 303.17 L227.37 303.32 L227.71 303.27 L228.05 304.01 L228.39 303.91 L228.73 303.20 L229.07 304.06 L229.41 304.09 L229.75 304.41 L230.09 304.05 L230.43 304.99 L230.77 304.63 L231.11 304.52 L231.45 304.37 L231.79 304.06 L232.13 304.68 L232.47 304.22 L232.81 303.38 L233.15 303.80 L233.49 304.52 L233.83 304.68 L234.18 304.60 L234.52 303.90 L234.86 303.34 L235.20 303.87 L235.54 302.92 L235.88 303.31 L236.22 303.78 L236.56 304.40 L236.90 304.63 L237.24 305.74 L237.58 305.44 L237.92 305.47 L238.26 305.37 L238.60 305.92 L238.94 306.56 L239.28 306.05 L239.62 304.26 L239.96 305.50 L240.30 305.87 L240.64 305.90 L240.98 305.36 L241.32 305.38 L241.66 305.75 L242.00 306.25 L242.34 306.02 L242.69 307.06 L243.03 306.81 L243.37 307.60 L243.71 306.32 L244.05 307.40 L244.39 307.61 L244.73 307.25 L245.07 307.63 L245.41 307.82 L245.75 307.84 L246.09 307.48 L246.43 307.39 L246.77 306.23 L247.11 306.11 L247.45 306.61 L247.79 307.17 L248.13 307.37 L248.47 306.50 L248.81 306.52 L249.15 306.99 L249.49 307.92 L249.83 307.81 L250.17 308.25 L250.51 308.70 L250.85 309.02 L251.20 308.64 L251.54 309.44 L251.88 308.67 L252.22 309.60 L252.56 308.92 L252.90 308.79 L253.24 309.69 L253.58 309.53 L253.92 309.58 L254.26 309.86 L254.60 310.32 L254.94 310.19 L255.28 309.82 L255.62 309.55 L255.96 309.55 L256.30 310.09 L256.64 310.41 L256.98 311.27 L257.32 311.42 L257.66 311.69 L258.00 311.29 L258.34 310.81 L258.68 311.47 L259.02 311.30 L259.36 311.94 L259.71 312.09 L260.05 311.62 L260.39 312.07 L260.73 312.25 L261.07 313.08 L261.41 313.54 L261.75 312.74 L262.09 312.92 L262.43 312.26 L262.77 313.26 L263.11 313.31 L263.45 313.07 L263.79 313.84 L264.13 313.14 L264.47 313.74 L264.81 313.99 L265.15 313.62 L265.49 314.47 L265.83 314.59 L266.17 313.46 L266.51 312.19 L266.85 313.53 L267.19 313.80 L267.53 313.78 L267.87 314.42 L268.22 314.76 L268.56 314.97 L268.90 315.50 L269.24 315.52 L269.58 316.11 L269.92 315.85 L270.26 314.27 L270.60 315.16 L270.94 315.78 L271.28 315.97 L271.62 315.60 L271.96 316.57 L272.30 316.50 L272.64 317.22 L272.98 316.85 L273.32 317.15 L273.66 317.22 L274.00 317.82 L274.34 317.43 L274.68 317.40 L275.02 317.72 L275.36 317.56 L275.70 317.77 L276.04 317.69 L276.38 317.00 L276.73 317.99 L277.07 317.51 L277.41 317.95 L277.75 318.12 L278.09 318.63 L278.43 318.17 L278.77 318.52 L279.11 318.90 L279.45 319.26 L279.79 319.19 L280.13 319.16 L280.47 319.16 L280.81 319.76 L281.15 320.18 L281.49 319.72 L281.83 319.85 L282.17 320.09 L282.51 319.75 L282.85 320.10 L283.19 320.23 L283.53 320.47 L283.87 320.04 L284.21 319.99 L284.55 321.06 L284.89 321.44 L285.24 320.86 L285.58 320.94 L285.92 321.14 L286.26 321.34 L286.60 320.42 L286.94 320.80 L287.28 320.70 L287.62 321.75 L287.96 321.63 L288.30 321.57 L288.64 321.14 L288.98 321.90 L289.32 321.60 L289.66 322.03 L290.00 322.21 L290.34 321.97 L290.68 323.20 L291.02 323.10 L291.36 323.03 L291.70 323.57 L292.04 322.93 L292.38 323.22 L292.72 324.04 L293.06 323.93 L293.40 322.94 L293.75 322.65 L294.09 323.41 L294.43 324.17 L294.77 323.81 L295.11 324.06 L295.45 324.49 L295.79 324.10 L296.13 324.61 L296.47 324.94 L296.81 324.94 L297.15 325.02 L297.49 324.78 L297.83 325.27 L298.17 325.04 L298.51 325.75 L298.85 326.29 L299.19 325.22 L299.53 324.81 L299.87 325.52 L300.21 325.88 L300.55 326.21 L300.89 326.30 L301.23 325.70 L301.57 325.63 L301.91 325.63 L302.26 324.90 L302.60 325.96 L302.94 325.71 L303.28 326.27 L303.62 326.40 L303.96 326.59 L304.30 326.74 L304.64 326.23 L304.98 326.79 L305.32 326.79 L305.66 326.98 L306.00 327.37 L306.34 326.86 L306.68 326.77 L307.02 326.66 L307.36 326.91 L307.70 327.43 L308.04 327.00 L308.38 327.78 L308.72 327.55 L309.06 327.44 L309.40 327.12 L309.74 327.73 L310.08 327.92 L310.42 327.09 L310.77 328.03 L311.11 327.38 L311.45 327.30 L311.79 327.62 L312.13 328.47 L312.47 328.04 L312.81 326.48 L313.15 327.31 L313.49 327.55 L313.83 327.42 L314.17 326.61 L314.51 328.03 L314.85 327.77 L315.19 328.22 L315.53 328.20 L315.87 328.35 L316.21 326.41 L316.55 326.16 L316.89 327.34 L317.23 328.15 L317.57 327.88 L317.91 328.57 L318.25 328.44 L318.59 328.36 L318.93 329.23 L319.28 328.53 L319.62 329.28 L319.96 328.83 L320.30 329.24 L320.64 328.71 L320.98 328.91 L321.32 329.63 L321.66 329.36 L322.00 329.24 L322.34 328.54 L322.68 329.21 L323.02 328.78 L323.36 329.03 L323.70 329.47 L324.04 329.31 L324.38 329.42 L324.72 329.66 L325.06 329.50 L325.40 328.52 L325.74 329.62 L326.08 329.68 L326.42 329.87 L326.76 329.10 L327.10 327.18 L327.44 327.78 L327.79 328.81 L328.13 328.65 L328.47 329.48 L328.81 330.16 L329.15 330.51 L329.49 329.84 L329.83 329.42 L330.17 329.91 L330.51 328.62 L330.85 329.64 L331.19 329.65 L331.53 330.26 L331.87 331.05 L332.21 330.57 L332.55 330.82 L332.89 330.30 L333.23 330.30 L333.57 331.03 L333.91 331.29 L334.25 330.59 L334.59 330.89 L334.93 330.43 L335.27 330.91 L335.61 331.26 L335.95 330.46 L336.30 330.53 L336.64 330.42 L336.98 331.18 L337.32 331.44 L337.66 331.45 L338.00 331.40 L338.34 330.92 L338.68 331.97 L339.02 331.38 L339.36 331.30 L339.70 331.04 L340.04 330.26 L340.38 331.08 L340.72 331.26 L341.06 331.60 L341.40 332.05 L341.74 331.78 L342.08 330.73 L342.42 331.43 L342.76 331.76 L343.10 331.85 L343.44 331.44 L343.78 331.33 L344.12 331.93 L344.46 330.59 L344.81 331.06 L345.15 330.87 L345.49 332.34 L345.83 330.67 L346.17 330.42 L346.51 331.76 L346.85 331.29 L347.19 331.44 L347.53 329.70 L347.87 331.20 L348.21 330.60 L348.55 330.64 L348.89 330.25 L349.23 330.67 L349.57 331.93 L349.91 331.52 L350.25 332.02 L350.59 332.15 L350.93 330.56 L351.27 330.94 L351.61 331.98 L351.95 332.07 L352.29 332.07 L352.63 330.83 L352.97 331.32 L353.32 332.23 L353.66 332.25 L354.00 332.74 L354.34 332.71 L354.68 332.23 L355.02 331.30 L355.36 330.55 L355.70 331.66 L356.04 332.48 L356.38 332.13 L356.72 332.88 L357.06 332.59 L357.40 332.97 L357.74 332.89 L358.08 333.47 L358.42 333.55 L358.76 333.89 L359.10 334.49 L359.44 334.10 L359.78 334.27 L360.12 333.97 L360.46 333.38 L360.80 333.54 L361.14 333.42 L361.48 334.21 L361.83 334.85 L362.17 334.51 L362.51 334.21 L362.85 335.01 L363.19 334.32 L363.53 334.29 L363.87 334.12 L364.21 334.23 L364.55 334.51 L364.89 335.33 L365.23 334.59 L365.57 334.32 L365.91 334.50 L366.25 334.66 L366.59 334.17 L366.93 334.84 L367.27 335.07 L367.61 334.96 L367.95 335.08 L368.29 334.44 L368.63 334.28 L368.97 335.36 L369.31 335.33 L369.65 334.43 L369.99 335.07 L370.34 335.03 L370.68 335.24 L371.02 335.15 L371.36 334.92 L371.70 335.18 L372.04 335.19 L372.38 335.14 L372.72 334.53 L373.06 334.15 L373.40 334.94 L373.74 334.66 L374.08 335.34"/>
</g>
<rect x="88.50" y="30.50" width="299.20" height="318.45" fill="none" stroke="#262626" stroke-width="1.25"/>
<path d="M85.10 133.65H88.50M86.50 101.24H88.50M86.50 82.29H88.50M86.50 68.84H88.50M86.50 58.41H88.50M86.50 49.88H88.50M86.50 42.68H88.50M86.50 36.43H88.50M86.50 30.93H88.50M85.10 241.30H88.50M86.50 208.89H88.50M86.50 189.94H88.50M86.50 176.49H88.50M86.50 166.06H88.50M86.50 157.53H88.50M86.50 150.33H88.50M86.50 144.08H88.50M86.50 138.58H88.50M85.10 348.95H88.50M86.50 316.54H88.50M86.50 297.59H88.50M86.50 284.14H88.50M86.50 273.71H88.50M86.50 265.18H88.50M86.50 257.98H88.50M86.50 251.73H88.50M86.50 246.23H88.50M102.10 348.95V351.95M187.20 348.95V351.95M272.30 348.95V351.95M357.40 348.95V351.95" stroke="#262626" stroke-width="1.1" fill="none"/>
<text transform="translate(29.50 141.45) scale(0.9700 1)" font-size="23.90" x="0.63 15.52" y="0">10</text>
<text transform="translate(58.99 134.52) scale(1.1576 1)" font-size="17.54">−</text>
<text transform="translate(72.08 133.55) scale(0.9531 1)" font-size="16.73">1</text>
<text transform="translate(29.50 249.60) scale(0.9700 1)" font-size="23.90" x="0.63 15.52" y="0">10</text>
<text transform="translate(58.99 242.67) scale(1.1576 1)" font-size="17.54">−</text>
<text transform="translate(71.86 241.70) scale(0.9613 1)" font-size="16.82">2</text>
<text transform="translate(29.50 357.50) scale(0.9700 1)" font-size="23.90" x="0.63 15.52" y="0">10</text>
<text transform="translate(58.99 350.57) scale(1.1576 1)" font-size="17.54">−</text>
<text transform="translate(72.07 349.68) scale(0.9481 1)" font-size="16.93">3</text>
<text transform="translate(95.34 373.00) scale(0.9906 1)" font-size="23.99" x="0.58" y="0">0</text>
<text transform="translate(166.13 373.00) scale(0.9595 1)" font-size="23.99" x="0.49 15.64 30.66" y="0">250</text>
<text transform="translate(251.23 373.00) scale(0.9906 1)" font-size="23.99" x="0.49 15.04 29.49" y="0">500</text>
<text transform="translate(336.33 373.00) scale(0.9621 1)" font-size="23.99" x="0.72 15.58 30.56" y="0">750</text>
<g clip-path="url(#c2)" fill="none" stroke-width="1.80" stroke-linejoin="round" stroke-linecap="square">
<path stroke="#1f77b4" d="M460.90 63.60 L461.24 79.47 L461.58 90.24 L461.92 96.40 L462.26 98.75 L462.60 100.00 L462.94 100.57 L463.28 101.26 L463.62 101.23 L463.96 102.30 L464.30 102.93 L464.64 104.04 L464.98 104.15 L465.33 104.81 L465.67 104.59 L466.01 106.88 L466.35 105.79 L466.69 108.18 L467.03 108.82 L467.37 109.97 L467.71 111.55 L468.05 113.10 L468.39 115.15 L468.73 116.58 L469.07 118.89 L469.41 119.09 L469.75 121.43 L470.09 122.53 L470.43 124.63 L470.77 124.67 L471.11 125.96 L471.45 128.11 L471.79 129.12 L472.13 131.71 L472.47 132.51 L472.81 134.43 L473.15 135.88 L473.49 136.38 L473.84 137.41 L474.18 137.07 L474.52 139.12 L474.86 140.58 L475.20 140.99 L475.54 140.87 L475.88 142.32 L476.22 143.77 L476.56 145.16 L476.90 146.33 L477.24 148.30 L477.58 148.09 L477.92 148.50 L478.26 148.29 L478.60 148.97 L478.94 149.35 L479.28 151.22 L479.62 153.00 L479.96 153.39 L480.30 155.70 L480.64 156.01 L480.98 156.98 L481.32 156.71 L481.66 157.06 L482.00 159.20 L482.35 160.24 L482.69 160.62 L483.03 162.14 L483.37 162.79 L483.71 164.84 L484.05 165.04 L484.39 165.84 L484.73 168.22 L485.07 168.24 L485.41 168.74 L485.75 170.96 L486.09 170.97 L486.43 172.49 L486.77 172.63 L487.11 173.85 L487.45 174.23 L487.79 175.12 L488.13 176.48 L488.47 177.80 L488.81 179.06 L489.15 180.58 L489.49 179.87 L489.83 181.46 L490.17 181.42 L490.51 181.89 L490.86 182.09 L491.20 182.67 L491.54 182.73 L491.88 183.59 L492.22 184.93 L492.56 185.05 L492.90 184.48 L493.24 183.41 L493.58 184.98 L493.92 186.72 L494.26 187.58 L494.60 188.34 L494.94 189.20 L495.28 189.93 L495.62 190.85 L495.96 189.62 L496.30 190.78 L496.64 191.91 L496.98 191.35 L497.32 192.99 L497.66 193.16 L498.00 195.18 L498.34 195.39 L498.68 196.11 L499.02 196.91 L499.37 197.25 L499.71 197.71 L500.05 198.87 L500.39 198.93 L500.73 198.93 L501.07 199.51 L501.41 199.24 L501.75 200.96 L502.09 198.98 L502.43 200.12 L502.77 201.95 L503.11 202.59 L503.45 201.80 L503.79 202.86 L504.13 203.51 L504.47 202.68 L504.81 203.47 L505.15 204.71 L505.49 206.05 L505.83 206.36 L506.17 207.19 L506.51 207.69 L506.85 207.44 L507.19 207.90 L507.53 206.81 L507.88 208.66 L508.22 210.04 L508.56 209.61 L508.90 211.16 L509.24 211.56 L509.58 211.58 L509.92 212.00 L510.26 212.13 L510.60 212.05 L510.94 211.67 L511.28 212.63 L511.62 213.64 L511.96 214.35 L512.30 214.26 L512.64 215.42 L512.98 215.11 L513.32 215.26 L513.66 216.09 L514.00 216.45 L514.34 216.85 L514.68 217.34 L515.02 216.75 L515.36 217.31 L515.70 217.99 L516.04 218.70 L516.39 218.76 L516.73 220.07 L517.07 219.76 L517.41 218.77 L517.75 220.16 L518.09 221.17 L518.43 219.57 L518.77 220.06 L519.11 220.46 L519.45 221.91 L519.79 222.23 L520.13 222.51 L520.47 222.79 L520.81 223.58 L521.15 223.65 L521.49 223.11 L521.83 224.28 L522.17 224.33 L522.51 224.51 L522.85 225.18 L523.19 225.17 L523.53 224.20 L523.87 226.40 L524.21 226.47 L524.55 226.27 L524.90 226.46 L525.24 227.00 L525.58 226.64 L525.92 227.51 L526.26 227.06 L526.60 227.34 L526.94 226.32 L527.28 227.03 L527.62 227.11 L527.96 228.27 L528.30 228.73 L528.64 229.14 L528.98 229.31 L529.32 230.43 L529.66 231.19 L530.00 230.11 L530.34 231.31 L530.68 230.32 L531.02 231.29 L531.36 230.90 L531.70 230.43 L532.04 230.97 L532.38 232.13 L532.72 232.48 L533.06 230.19 L533.41 230.17 L533.75 230.56 L534.09 232.70 L534.43 232.83 L534.77 233.53 L535.11 234.22 L535.45 234.54 L535.79 235.56 L536.13 236.04 L536.47 235.62 L536.81 235.58 L537.15 235.39 L537.49 235.79 L537.83 236.33 L538.17 236.48 L538.51 236.69 L538.85 236.85 L539.19 236.98 L539.53 235.03 L539.87 235.90 L540.21 236.60 L540.55 237.11 L540.89 236.99 L541.23 238.14 L541.57 237.61 L541.92 238.05 L542.26 237.61 L542.60 238.96 L542.94 238.78 L543.28 239.39 L543.62 239.26 L543.96 238.31 L544.30 238.75 L544.64 239.40 L544.98 238.26 L545.32 238.94 L545.66 239.53 L546.00 240.21 L546.34 240.48 L546.68 240.72 L547.02 240.34 L547.36 241.25 L547.70 240.71 L548.04 241.46 L548.38 241.41 L548.72 241.95 L549.06 239.87 L549.40 240.34 L549.74 241.45 L550.08 241.87 L550.43 241.98 L550.77 242.32 L551.11 242.32 L551.45 244.14 L551.79 243.25 L552.13 243.82 L552.47 243.11 L552.81 243.34 L553.15 243.93 L553.49 244.11 L553.83 244.70 L554.17 244.11 L554.51 244.91 L554.85 245.30 L555.19 243.36 L555.53 244.62 L555.87 244.24 L556.21 245.16 L556.55 245.47 L556.89 246.33 L557.23 245.55 L557.57 246.14 L557.91 246.71 L558.25 245.97 L558.59 246.66 L558.94 246.47 L559.28 246.71 L559.62 247.46 L559.96 247.63 L560.30 248.57 L560.64 248.16 L560.98 248.06 L561.32 247.61 L561.66 247.53 L562.00 246.73 L562.34 246.16 L562.68 248.11 L563.02 246.81 L563.36 247.04 L563.70 247.73 L564.04 248.62 L564.38 248.90 L564.72 247.63 L565.06 248.54 L565.40 248.79 L565.74 248.70 L566.08 249.43 L566.42 249.55 L566.76 249.04 L567.10 250.30 L567.45 249.30 L567.79 250.18 L568.13 249.75 L568.47 249.93 L568.81 249.94 L569.15 249.82 L569.49 249.42 L569.83 250.20 L570.17 251.20 L570.51 250.45 L570.85 250.91 L571.19 251.36 L571.53 250.96 L571.87 251.47 L572.21 250.78 L572.55 249.68 L572.89 250.09 L573.23 250.19 L573.57 251.60 L573.91 251.21 L574.25 251.46 L574.59 251.46 L574.93 251.88 L575.27 252.24 L575.61 252.53 L575.96 253.07 L576.30 252.12 L576.64 252.50 L576.98 252.36 L577.32 251.33 L577.66 252.13 L578.00 253.16 L578.34 253.02 L578.68 253.39 L579.02 253.43 L579.36 254.40 L579.70 254.27 L580.04 253.63 L580.38 254.01 L580.72 251.83 L581.06 253.41 L581.40 253.73 L581.74 253.78 L582.08 254.01 L582.42 253.69 L582.76 255.01 L583.10 254.84 L583.44 254.94 L583.78 255.54 L584.12 255.11 L584.47 255.28 L584.81 255.37 L585.15 255.20 L585.49 256.86 L585.83 255.54 L586.17 253.80 L586.51 255.25 L586.85 254.11 L587.19 255.64 L587.53 256.07 L587.87 255.96 L588.21 256.80 L588.55 255.87 L588.89 256.49 L589.23 256.82 L589.57 253.81 L589.91 253.38 L590.25 255.29 L590.59 256.23 L590.93 256.55 L591.27 257.40 L591.61 257.67 L591.95 257.25 L592.29 258.00 L592.63 257.68 L592.98 257.51 L593.32 257.52 L593.66 259.12 L594.00 258.75 L594.34 259.71 L594.68 258.04 L595.02 256.83 L595.36 257.80 L595.70 258.12 L596.04 258.81 L596.38 259.00 L596.72 258.96 L597.06 258.46 L597.40 259.24 L597.74 260.55 L598.08 260.29 L598.42 260.68 L598.76 259.96 L599.10 260.23 L599.44 260.03 L599.78 260.66 L600.12 260.60 L600.46 260.84 L600.80 261.46 L601.14 260.42 L601.49 261.11 L601.83 260.09 L602.17 260.32 L602.51 259.95 L602.85 260.04 L603.19 260.47 L603.53 261.32 L603.87 260.53 L604.21 260.61 L604.55 260.52 L604.89 261.27 L605.23 260.90 L605.57 261.13 L605.91 261.40 L606.25 261.75 L606.59 261.21 L606.93 261.83 L607.27 262.24 L607.61 260.31 L607.95 261.79 L608.29 262.33 L608.63 261.32 L608.97 261.96 L609.31 261.22 L609.65 262.04 L610.00 261.84 L610.34 262.18 L610.68 261.67 L611.02 261.45 L611.36 259.89 L611.70 260.45 L612.04 260.99 L612.38 261.50 L612.72 261.09 L613.06 259.97 L613.40 261.53 L613.74 261.11 L614.08 262.67 L614.42 262.62 L614.76 262.72 L615.10 262.79 L615.44 262.80 L615.78 263.29 L616.12 264.08 L616.46 263.65 L616.80 264.71 L617.14 264.20 L617.48 265.10 L617.82 265.51 L618.16 264.76 L618.51 265.95 L618.85 266.59 L619.19 265.66 L619.53 266.11 L619.87 265.01 L620.21 265.51 L620.55 265.80 L620.89 265.98 L621.23 266.75 L621.57 267.00 L621.91 266.75 L622.25 267.35 L622.59 267.28 L622.93 266.95 L623.27 266.50 L623.61 267.43 L623.95 267.26 L624.29 265.74 L624.63 264.56 L624.97 265.53 L625.31 265.76 L625.65 266.78 L625.99 266.54 L626.33 267.29 L626.67 267.84 L627.02 267.24 L627.36 268.20 L627.70 267.95 L628.04 268.27 L628.38 268.25 L628.72 267.85 L629.06 267.99 L629.40 268.49 L629.74 268.59 L630.08 268.46 L630.42 268.98 L630.76 267.94 L631.10 267.77 L631.44 267.95 L631.78 267.78 L632.12 266.06 L632.46 267.56 L632.80 267.94 L633.14 268.63 L633.48 268.76 L633.82 268.66 L634.16 269.34 L634.50 268.91 L634.84 269.23 L635.18 268.78 L635.53 269.31 L635.87 269.17 L636.21 269.41 L636.55 269.54 L636.89 269.98 L637.23 269.55 L637.57 269.13 L637.91 269.03 L638.25 269.19 L638.59 269.09 L638.93 269.48 L639.27 269.50 L639.61 269.38 L639.95 270.04 L640.29 267.97 L640.63 268.63 L640.97 269.56 L641.31 269.23 L641.65 269.19 L641.99 269.28 L642.33 270.04 L642.67 270.12 L643.01 270.17 L643.35 269.91 L643.69 269.77 L644.04 270.58 L644.38 269.61 L644.72 270.14 L645.06 269.57 L645.40 270.02 L645.74 270.18 L646.08 270.80 L646.42 269.01 L646.76 270.39 L647.10 269.55 L647.44 269.89 L647.78 270.30 L648.12 269.54 L648.46 268.58 L648.80 269.29 L649.14 269.39 L649.48 269.41 L649.82 270.01 L650.16 270.10 L650.50 269.28 L650.84 270.56 L651.18 269.55 L651.52 268.77 L651.86 269.37 L652.20 268.72 L652.55 268.31 L652.89 268.63 L653.23 268.44 L653.57 269.54 L653.91 270.45 L654.25 270.44 L654.59 270.33 L654.93 270.27 L655.27 270.72 L655.61 270.49 L655.95 270.89 L656.29 271.11 L656.63 271.71 L656.97 271.10 L657.31 270.59 L657.65 269.99 L657.99 271.03 L658.33 271.31 L658.67 271.22 L659.01 270.51 L659.35 271.45 L659.69 271.90 L660.03 272.91 L660.37 272.32 L660.71 272.00 L661.06 272.43 L661.40 272.93 L661.74 272.10 L662.08 272.39 L662.42 272.38 L662.76 272.84 L663.10 272.87 L663.44 272.85 L663.78 270.76 L664.12 271.86 L664.46 271.79 L664.80 273.63 L665.14 272.88 L665.48 274.47 L665.82 274.28 L666.16 273.24 L666.50 274.30 L666.84 274.27 L667.18 273.47 L667.52 274.49 L667.86 274.29 L668.20 274.55 L668.54 274.02 L668.88 274.51 L669.22 274.83 L669.57 274.68 L669.91 274.59 L670.25 274.86 L670.59 274.59 L670.93 275.22 L671.27 274.05 L671.61 275.84 L671.95 275.27 L672.29 275.45 L672.63 275.39 L672.97 273.14 L673.31 275.49 L673.65 274.44 L673.99 275.08 L674.33 275.32 L674.67 275.88 L675.01 275.33 L675.35 274.44 L675.69 273.40 L676.03 273.00 L676.37 274.44 L676.71 274.42 L677.05 274.26 L677.39 273.78 L677.73 273.00 L678.08 273.71 L678.42 274.07 L678.76 273.95 L679.10 274.81 L679.44 274.24 L679.78 274.89 L680.12 274.46 L680.46 275.03 L680.80 274.83 L681.14 274.46 L681.48 274.89 L681.82 275.27 L682.16 275.62 L682.50 275.74 L682.84 275.31 L683.18 274.95 L683.52 274.69 L683.86 275.72 L684.20 275.97 L684.54 275.49 L684.88 275.76 L685.22 273.60 L685.56 274.06 L685.90 275.21 L686.24 274.34 L686.59 275.19 L686.93 275.21 L687.27 275.16 L687.61 275.65 L687.95 273.30 L688.29 274.03 L688.63 273.70 L688.97 274.29 L689.31 274.80 L689.65 275.06 L689.99 275.11 L690.33 274.30 L690.67 274.39 L691.01 274.23 L691.35 275.44 L691.69 275.55 L692.03 273.54 L692.37 274.44 L692.71 276.10 L693.05 276.24 L693.39 276.61 L693.73 276.57 L694.07 276.65 L694.41 276.61 L694.75 277.25 L695.10 276.95 L695.44 276.32 L695.78 276.76 L696.12 276.08 L696.46 276.91 L696.80 276.39 L697.14 277.96 L697.48 275.92 L697.82 276.39 L698.16 276.51 L698.50 276.31 L698.84 276.82 L699.18 277.27 L699.52 276.06 L699.86 276.75 L700.20 276.58 L700.54 276.06 L700.88 274.94 L701.22 275.90 L701.56 276.79 L701.90 276.51 L702.24 275.03 L702.58 275.44 L702.92 276.55 L703.26 276.15 L703.61 276.88 L703.95 277.76 L704.29 277.47 L704.63 275.56 L704.97 276.37 L705.31 277.35 L705.65 277.45 L705.99 277.57 L706.33 274.99 L706.67 275.77 L707.01 276.64 L707.35 276.68 L707.69 277.37 L708.03 277.62 L708.37 277.95 L708.71 277.91 L709.05 278.36 L709.39 278.58 L709.73 278.43 L710.07 277.95 L710.41 279.13 L710.75 278.76 L711.09 278.92 L711.43 278.77 L711.77 278.08 L712.12 278.81 L712.46 276.59 L712.80 277.17 L713.14 278.58 L713.48 278.42 L713.82 279.05 L714.16 279.57 L714.50 280.02 L714.84 278.38 L715.18 277.18 L715.52 278.48 L715.86 278.43 L716.20 277.72 L716.54 279.48 L716.88 279.75 L717.22 280.18 L717.56 280.08 L717.90 279.91 L718.24 280.27 L718.58 280.23 L718.92 280.08 L719.26 280.44 L719.60 280.51 L719.94 279.93 L720.28 280.80 L720.63 280.68 L720.97 280.44 L721.31 277.71 L721.65 277.68 L721.99 278.24 L722.33 278.14 L722.67 279.29 L723.01 278.75 L723.35 280.18 L723.69 280.00 L724.03 279.76 L724.37 280.68 L724.71 280.34 L725.05 280.33 L725.39 279.67 L725.73 280.47 L726.07 280.83 L726.41 280.60 L726.75 279.64 L727.09 280.81 L727.43 280.91 L727.77 280.58 L728.11 280.01 L728.45 279.41 L728.79 279.19 L729.14 277.40 L729.48 278.56 L729.82 279.15 L730.16 278.67 L730.50 278.60 L730.84 279.32 L731.18 279.04 L731.52 280.17 L731.86 278.66 L732.20 279.56 L732.54 279.81 L732.88 279.09"/>
<path stroke="#ff7f0e" d="M460.90 64.20 L461.24 79.57 L461.58 90.07 L461.92 96.33 L462.26 98.98 L462.60 100.86 L462.94 102.52 L463.28 104.51 L463.62 107.21 L463.96 110.25 L464.30 113.50 L464.64 117.90 L464.98 123.39 L465.33 130.78 L465.67 136.22 L466.01 139.45 L466.35 145.30 L466.69 149.31 L467.03 154.29 L467.37 158.87 L467.71 162.04 L468.05 164.50 L468.39 165.84 L468.73 166.93 L469.07 168.36 L469.41 169.43 L469.75 169.33 L470.09 170.63 L470.43 171.14 L470.77 172.09 L471.11 172.02 L471.45 174.03 L471.79 175.48 L472.13 176.49 L472.47 177.91 L472.81 179.74 L473.15 181.01 L473.49 182.44 L473.84 184.54 L474.18 185.52 L474.52 187.80 L474.86 189.00 L475.20 189.26 L475.54 191.24 L475.88 191.72 L476.22 193.09 L476.56 194.04 L476.90 194.32 L477.24 196.18 L477.58 197.61 L477.92 200.04 L478.26 201.73 L478.60 205.31 L478.94 207.68 L479.28 210.86 L479.62 212.09 L479.96 215.67 L480.30 218.78 L480.64 222.20 L480.98 223.47 L481.32 225.80 L481.66 227.86 L482.00 229.11 L482.35 231.09 L482.69 233.22 L483.03 233.97 L483.37 235.39 L483.71 236.28 L484.05 237.26 L484.39 237.52 L484.73 238.13 L485.07 238.64 L485.41 238.38 L485.75 238.45 L486.09 238.81 L486.43 238.79 L486.77 239.47 L487.11 240.00 L487.45 241.35 L487.79 241.35 L488.13 241.64 L488.47 242.11 L488.81 243.23 L489.15 243.22 L489.49 243.69 L489.83 244.96 L490.17 244.85 L490.51 245.76 L490.86 246.46 L491.20 246.88 L491.54 247.62 L491.88 248.73 L492.22 248.61 L492.56 248.84 L492.90 249.24 L493.24 250.46 L493.58 251.00 L493.92 251.81 L494.26 252.11 L494.60 252.65 L494.94 253.11 L495.28 253.75 L495.62 254.57 L495.96 254.94 L496.30 255.70 L496.64 256.95 L496.98 257.01 L497.32 256.82 L497.66 258.64 L498.00 258.70 L498.34 258.79 L498.68 260.05 L499.02 260.28 L499.37 260.59 L499.71 261.13 L500.05 261.52 L500.39 262.42 L500.73 263.30 L501.07 263.25 L501.41 263.99 L501.75 264.97 L502.09 264.22 L502.43 265.15 L502.77 265.28 L503.11 265.21 L503.45 264.92 L503.79 265.95 L504.13 266.55 L504.47 266.29 L504.81 265.26 L505.15 266.31 L505.49 266.89 L505.83 267.70 L506.17 268.03 L506.51 268.45 L506.85 269.32 L507.19 269.19 L507.53 269.28 L507.88 269.67 L508.22 268.75 L508.56 269.41 L508.90 270.09 L509.24 269.80 L509.58 268.04 L509.92 268.07 L510.26 268.66 L510.60 270.78 L510.94 271.09 L511.28 270.78 L511.62 272.06 L511.96 271.73 L512.30 270.50 L512.64 271.50 L512.98 271.60 L513.32 271.16 L513.66 271.28 L514.00 272.17 L514.34 272.55 L514.68 272.15 L515.02 272.49 L515.36 273.36 L515.70 274.04 L516.04 274.18 L516.39 273.87 L516.73 273.99 L517.07 274.53 L517.41 273.55 L517.75 274.16 L518.09 274.20 L518.43 275.90 L518.77 275.79 L519.11 275.32 L519.45 276.23 L519.79 276.59 L520.13 275.37 L520.47 276.23 L520.81 276.46 L521.15 277.01 L521.49 276.88 L521.83 276.99 L522.17 277.16 L522.51 277.75 L522.85 276.53 L523.19 276.29 L523.53 276.70 L523.87 278.46 L524.21 277.35 L524.55 277.42 L524.90 277.74 L525.24 276.98 L525.58 274.18 L525.92 275.44 L526.26 276.18 L526.60 277.30 L526.94 276.28 L527.28 277.82 L527.62 277.82 L527.96 277.88 L528.30 278.44 L528.64 279.73 L528.98 279.28 L529.32 278.95 L529.66 279.73 L530.00 280.13 L530.34 280.69 L530.68 279.72 L531.02 278.90 L531.36 279.74 L531.70 279.74 L532.04 280.33 L532.38 281.36 L532.72 281.57 L533.06 281.42 L533.41 281.36 L533.75 281.79 L534.09 281.41 L534.43 281.52 L534.77 281.31 L535.11 281.71 L535.45 281.75 L535.79 282.88 L536.13 281.83 L536.47 282.44 L536.81 282.51 L537.15 282.00 L537.49 282.55 L537.83 281.35 L538.17 282.24 L538.51 282.57 L538.85 281.36 L539.19 281.69 L539.53 281.63 L539.87 281.72 L540.21 281.72 L540.55 282.18 L540.89 282.23 L541.23 282.78 L541.57 282.74 L541.92 282.51 L542.26 282.39 L542.60 282.59 L542.94 283.17 L543.28 282.85 L543.62 282.99 L543.96 282.64 L544.30 281.74 L544.64 282.27 L544.98 282.96 L545.32 282.83 L545.66 282.54 L546.00 282.33 L546.34 283.03 L546.68 282.89 L547.02 282.79 L547.36 282.83 L547.70 282.77 L548.04 280.96 L548.38 280.10 L548.72 280.87 L549.06 281.21 L549.40 281.66 L549.74 281.48 L550.08 281.35 L550.43 281.36 L550.77 281.79 L551.11 282.63 L551.45 283.19 L551.79 282.53 L552.13 281.41 L552.47 279.31 L552.81 280.25 L553.15 280.75 L553.49 281.11 L553.83 283.07 L554.17 283.30 L554.51 283.43 L554.85 283.67 L555.19 283.95 L555.53 283.11 L555.87 283.84 L556.21 284.02 L556.55 285.25 L556.89 285.01 L557.23 285.26 L557.57 285.44 L557.91 284.69 L558.25 285.92 L558.59 285.75 L558.94 285.91 L559.28 286.19 L559.62 285.91 L559.96 286.60 L560.30 285.45 L560.64 285.72 L560.98 286.04 L561.32 286.67 L561.66 287.11 L562.00 286.80 L562.34 286.63 L562.68 287.75 L563.02 287.09 L563.36 288.07 L563.70 287.72 L564.04 287.58 L564.38 287.70 L564.72 288.18 L565.06 288.30 L565.40 288.02 L565.74 288.56 L566.08 289.08 L566.42 288.31 L566.76 288.03 L567.10 288.14 L567.45 288.08 L567.79 288.40 L568.13 288.26 L568.47 287.85 L568.81 287.05 L569.15 286.45 L569.49 287.28 L569.83 288.32 L570.17 288.51 L570.51 288.64 L570.85 288.54 L571.19 289.33 L571.53 288.89 L571.87 288.98 L572.21 288.68 L572.55 289.26 L572.89 289.13 L573.23 289.23 L573.57 289.29 L573.91 289.49 L574.25 289.43 L574.59 289.75 L574.93 288.09 L575.27 284.79 L575.61 287.26 L575.96 287.74 L576.30 288.96 L576.64 289.43 L576.98 289.57 L577.32 289.75 L577.66 289.23 L578.00 289.85 L578.34 289.95 L578.68 289.57 L579.02 290.04 L579.36 289.59 L579.70 288.25 L580.04 289.08 L580.38 287.87 L580.72 288.73 L581.06 288.56 L581.40 289.45 L581.74 289.93 L582.08 290.06 L582.42 289.55 L582.76 289.79 L583.10 290.39 L583.44 290.66 L583.78 290.76 L584.12 290.51 L584.47 290.58 L584.81 290.77 L585.15 289.03 L585.49 289.94 L585.83 289.56 L586.17 289.82 L586.51 291.18 L586.85 291.33 L587.19 291.84 L587.53 291.66 L587.87 291.49 L588.21 291.17 L588.55 290.82 L588.89 291.83 L589.23 291.37 L589.57 291.86 L589.91 291.81 L590.25 291.89 L590.59 292.17 L590.93 291.70 L591.27 291.78 L591.61 291.64 L591.95 291.83 L592.29 292.45 L592.63 290.78 L592.98 291.69 L593.32 291.80 L593.66 291.93 L594.00 291.94 L594.34 290.41 L594.68 291.47 L595.02 292.30 L595.36 291.70 L595.70 292.12 L596.04 292.00 L596.38 292.48 L596.72 292.03 L597.06 293.09 L597.40 292.40 L597.74 292.01 L598.08 293.30 L598.42 293.02 L598.76 292.89 L599.10 292.92 L599.44 292.61 L599.78 292.65 L600.12 293.04 L600.46 293.15 L600.80 293.18 L601.14 292.94 L601.49 292.70 L601.83 292.83 L602.17 293.34 L602.51 293.48 L602.85 292.83 L603.19 292.79 L603.53 293.46 L603.87 293.28 L604.21 293.28 L604.55 292.54 L604.89 292.89 L605.23 292.76 L605.57 292.53 L605.91 292.05 L606.25 293.32 L606.59 293.07 L606.93 293.20 L607.27 292.66 L607.61 293.14 L607.95 293.68 L608.29 292.60 L608.63 293.21 L608.97 293.44 L609.31 292.99 L609.65 293.60 L610.00 293.22 L610.34 293.85 L610.68 293.62 L611.02 293.51 L611.36 294.05 L611.70 292.68 L612.04 293.18 L612.38 292.36 L612.72 292.89 L613.06 293.71 L613.40 293.97 L613.74 293.81 L614.08 294.31 L614.42 293.80 L614.76 294.43 L615.10 294.07 L615.44 294.72 L615.78 294.26 L616.12 292.76 L616.46 293.95 L616.80 295.22 L617.14 294.58 L617.48 295.04 L617.82 295.90 L618.16 295.53 L618.51 296.51 L618.85 296.05 L619.19 296.04 L619.53 295.84 L619.87 296.71 L620.21 296.53 L620.55 296.62 L620.89 296.52 L621.23 295.28 L621.57 295.81 L621.91 297.02 L622.25 296.99 L622.59 297.02 L622.93 297.18 L623.27 296.83 L623.61 297.23 L623.95 296.83 L624.29 297.38 L624.63 297.01 L624.97 297.24 L625.31 297.46 L625.65 296.79 L625.99 297.38 L626.33 297.47 L626.67 297.56 L627.02 298.01 L627.36 297.04 L627.70 297.05 L628.04 297.94 L628.38 298.10 L628.72 298.52 L629.06 297.92 L629.40 298.04 L629.74 297.48 L630.08 298.17 L630.42 298.20 L630.76 297.61 L631.10 297.72 L631.44 298.07 L631.78 298.26 L632.12 297.09 L632.46 298.20 L632.80 297.98 L633.14 297.99 L633.48 298.28 L633.82 298.46 L634.16 298.01 L634.50 298.62 L634.84 298.44 L635.18 298.23 L635.53 298.64 L635.87 298.79 L636.21 296.07 L636.55 295.88 L636.89 296.86 L637.23 298.79 L637.57 298.06 L637.91 296.82 L638.25 297.25 L638.59 297.66 L638.93 297.34 L639.27 296.77 L639.61 297.02 L639.95 297.11 L640.29 298.11 L640.63 298.69 L640.97 299.30 L641.31 299.66 L641.65 300.20 L641.99 300.46 L642.33 300.50 L642.67 300.73 L643.01 299.89 L643.35 300.16 L643.69 300.55 L644.04 300.50 L644.38 300.49 L644.72 299.32 L645.06 299.77 L645.40 301.03 L645.74 301.10 L646.08 301.02 L646.42 301.12 L646.76 300.75 L647.10 301.65 L647.44 302.00 L647.78 302.33 L648.12 301.83 L648.46 301.83 L648.80 301.57 L649.14 302.46 L649.48 302.45 L649.82 300.09 L650.16 301.03 L650.50 301.41 L650.84 301.53 L651.18 301.09 L651.52 302.07 L651.86 302.36 L652.20 301.89 L652.55 302.34 L652.89 301.60 L653.23 303.45 L653.57 303.27 L653.91 303.20 L654.25 303.18 L654.59 303.13 L654.93 303.42 L655.27 303.41 L655.61 303.50 L655.95 303.66 L656.29 303.79 L656.63 304.39 L656.97 303.33 L657.31 304.04 L657.65 303.78 L657.99 303.65 L658.33 303.26 L658.67 304.44 L659.01 303.90 L659.35 304.05 L659.69 304.58 L660.03 304.06 L660.37 304.54 L660.71 304.56 L661.06 304.91 L661.40 304.86 L661.74 304.31 L662.08 305.10 L662.42 304.82 L662.76 304.99 L663.10 304.93 L663.44 305.31 L663.78 304.34 L664.12 303.38 L664.46 304.62 L664.80 304.62 L665.14 305.82 L665.48 305.01 L665.82 305.52 L666.16 305.38 L666.50 305.42 L666.84 305.32 L667.18 305.60 L667.52 305.86 L667.86 305.64 L668.20 306.33 L668.54 306.63 L668.88 305.49 L669.22 306.17 L669.57 304.52 L669.91 305.05 L670.25 306.28 L670.59 306.13 L670.93 306.04 L671.27 306.11 L671.61 305.43 L671.95 306.71 L672.29 306.28 L672.63 306.76 L672.97 306.84 L673.31 307.27 L673.65 307.77 L673.99 307.47 L674.33 307.67 L674.67 307.20 L675.01 307.54 L675.35 307.75 L675.69 307.01 L676.03 308.41 L676.37 307.47 L676.71 307.35 L677.05 308.54 L677.39 308.82 L677.73 307.86 L678.08 308.00 L678.42 309.49 L678.76 308.47 L679.10 307.79 L679.44 308.41 L679.78 309.50 L680.12 309.10 L680.46 309.24 L680.80 309.52 L681.14 309.42 L681.48 309.09 L681.82 308.44 L682.16 307.79 L682.50 308.04 L682.84 308.98 L683.18 309.97 L683.52 309.46 L683.86 309.59 L684.20 309.81 L684.54 310.12 L684.88 309.61 L685.22 309.13 L685.56 309.99 L685.90 310.81 L686.24 310.67 L686.59 310.29 L686.93 310.50 L687.27 310.14 L687.61 310.76 L687.95 311.79 L688.29 311.27 L688.63 310.96 L688.97 310.44 L689.31 310.93 L689.65 311.15 L689.99 310.93 L690.33 311.09 L690.67 311.88 L691.01 312.45 L691.35 311.86 L691.69 312.04 L692.03 312.85 L692.37 312.00 L692.71 312.46 L693.05 312.67 L693.39 312.99 L693.73 312.94 L694.07 312.81 L694.41 313.37 L694.75 312.90 L695.10 312.79 L695.44 312.78 L695.78 313.91 L696.12 313.07 L696.46 313.97 L696.80 314.13 L697.14 314.22 L697.48 313.68 L697.82 312.28 L698.16 313.12 L698.50 313.31 L698.84 313.37 L699.18 314.47 L699.52 313.30 L699.86 314.48 L700.20 313.18 L700.54 313.56 L700.88 314.40 L701.22 315.04 L701.56 314.30 L701.90 314.65 L702.24 314.68 L702.58 314.90 L702.92 315.07 L703.26 315.11 L703.61 314.87 L703.95 314.48 L704.29 315.57 L704.63 315.81 L704.97 315.62 L705.31 315.20 L705.65 316.01 L705.99 315.94 L706.33 315.97 L706.67 316.56 L707.01 316.25 L707.35 315.59 L707.69 315.60 L708.03 316.50 L708.37 316.07 L708.71 316.34 L709.05 315.98 L709.39 315.68 L709.73 316.15 L710.07 316.59 L710.41 315.82 L710.75 314.69 L711.09 315.32 L711.43 315.48 L711.77 315.87 L712.12 316.22 L712.46 316.30 L712.80 314.56 L713.14 314.58 L713.48 313.56 L713.82 314.30 L714.16 314.68 L714.50 315.23 L714.84 315.49 L715.18 315.14 L715.52 315.34 L715.86 315.20 L716.20 314.54 L716.54 312.45 L716.88 312.56 L717.22 314.54 L717.56 314.88 L717.90 315.27 L718.24 315.03 L718.58 313.99 L718.92 315.55 L719.26 315.72 L719.60 316.81 L719.94 316.15 L720.28 317.34 L720.63 317.85 L720.97 317.92 L721.31 318.01 L721.65 318.58 L721.99 318.06 L722.33 318.12 L722.67 318.71 L723.01 319.28 L723.35 319.13 L723.69 319.01 L724.03 319.30 L724.37 319.45 L724.71 318.91 L725.05 318.41 L725.39 319.16 L725.73 319.07 L726.07 319.50 L726.41 319.34 L726.75 319.52 L727.09 320.09 L727.43 320.05 L727.77 320.08 L728.11 320.79 L728.45 320.07 L728.79 320.16 L729.14 320.79 L729.48 319.71 L729.82 318.25 L730.16 319.95 L730.50 320.01 L730.84 320.40 L731.18 320.62 L731.52 320.84 L731.86 320.25 L732.20 319.56 L732.54 319.57 L732.88 320.33"/>
<path stroke="#2ca02c" d="M460.90 64.20 L461.24 76.78 L461.58 87.15 L461.92 95.61 L462.26 104.34 L462.60 113.77 L462.94 124.26 L463.28 136.20 L463.62 148.42 L463.96 163.07 L464.30 177.49 L464.64 183.87 L464.98 188.14 L465.33 193.20 L465.67 197.88 L466.01 203.40 L466.35 207.89 L466.69 211.76 L467.03 213.98 L467.37 216.99 L467.71 218.60 L468.05 220.80 L468.39 223.11 L468.73 225.05 L469.07 226.20 L469.41 227.79 L469.75 229.95 L470.09 230.51 L470.43 232.96 L470.77 234.27 L471.11 235.51 L471.45 235.58 L471.79 237.97 L472.13 239.40 L472.47 241.36 L472.81 242.23 L473.15 243.63 L473.49 244.70 L473.84 246.27 L474.18 247.19 L474.52 247.94 L474.86 249.86 L475.20 250.03 L475.54 251.00 L475.88 252.01 L476.22 253.22 L476.56 253.03 L476.90 254.21 L477.24 254.88 L477.58 255.20 L477.92 256.72 L478.26 257.55 L478.60 257.87 L478.94 258.64 L479.28 258.83 L479.62 259.46 L479.96 260.45 L480.30 261.37 L480.64 261.58 L480.98 262.37 L481.32 263.11 L481.66 263.32 L482.00 263.94 L482.35 264.68 L482.69 264.26 L483.03 265.34 L483.37 264.91 L483.71 266.08 L484.05 266.40 L484.39 266.51 L484.73 266.50 L485.07 266.03 L485.41 266.65 L485.75 267.46 L486.09 267.69 L486.43 268.67 L486.77 268.61 L487.11 269.27 L487.45 269.63 L487.79 270.54 L488.13 270.00 L488.47 270.68 L488.81 271.52 L489.15 271.21 L489.49 271.20 L489.83 271.33 L490.17 271.79 L490.51 272.64 L490.86 272.46 L491.20 273.16 L491.54 273.62 L491.88 274.02 L492.22 273.59 L492.56 274.67 L492.90 274.10 L493.24 273.77 L493.58 274.35 L493.92 274.79 L494.26 273.50 L494.60 274.19 L494.94 274.91 L495.28 275.41 L495.62 275.67 L495.96 276.67 L496.30 275.42 L496.64 274.49 L496.98 275.56 L497.32 275.86 L497.66 275.90 L498.00 276.86 L498.34 277.22 L498.68 276.96 L499.02 278.24 L499.37 278.65 L499.71 278.87 L500.05 278.45 L500.39 278.43 L500.73 278.46 L501.07 279.24 L501.41 279.24 L501.75 279.84 L502.09 279.83 L502.43 280.49 L502.77 280.63 L503.11 280.96 L503.45 280.19 L503.79 280.07 L504.13 281.09 L504.47 281.04 L504.81 281.61 L505.15 281.81 L505.49 282.00 L505.83 282.46 L506.17 282.56 L506.51 282.74 L506.85 282.51 L507.19 283.56 L507.53 283.25 L507.88 283.77 L508.22 283.71 L508.56 284.21 L508.90 284.05 L509.24 284.26 L509.58 284.41 L509.92 284.30 L510.26 284.37 L510.60 283.88 L510.94 283.35 L511.28 283.73 L511.62 285.27 L511.96 284.31 L512.30 283.68 L512.64 279.91 L512.98 281.28 L513.32 283.39 L513.66 284.51 L514.00 285.05 L514.34 285.25 L514.68 285.64 L515.02 286.38 L515.36 286.77 L515.70 285.79 L516.04 286.91 L516.39 286.94 L516.73 287.67 L517.07 287.59 L517.41 287.19 L517.75 286.08 L518.09 286.68 L518.43 287.06 L518.77 288.11 L519.11 287.64 L519.45 287.88 L519.79 288.23 L520.13 288.32 L520.47 288.75 L520.81 288.90 L521.15 288.97 L521.49 288.88 L521.83 289.35 L522.17 289.73 L522.51 289.59 L522.85 290.18 L523.19 290.11 L523.53 289.87 L523.87 290.58 L524.21 289.75 L524.55 290.60 L524.90 290.92 L525.24 290.32 L525.58 290.46 L525.92 290.89 L526.26 291.14 L526.60 290.90 L526.94 290.92 L527.28 291.22 L527.62 291.09 L527.96 290.69 L528.30 291.10 L528.64 291.22 L528.98 290.77 L529.32 291.20 L529.66 289.53 L530.00 290.63 L530.34 290.30 L530.68 290.55 L531.02 289.24 L531.36 290.83 L531.70 291.33 L532.04 291.76 L532.38 292.04 L532.72 292.07 L533.06 292.23 L533.41 291.51 L533.75 292.25 L534.09 291.86 L534.43 292.07 L534.77 291.90 L535.11 292.84 L535.45 292.57 L535.79 292.13 L536.13 292.86 L536.47 292.75 L536.81 292.50 L537.15 292.75 L537.49 292.34 L537.83 292.01 L538.17 292.20 L538.51 291.87 L538.85 292.32 L539.19 292.67 L539.53 292.49 L539.87 292.90 L540.21 293.29 L540.55 293.64 L540.89 293.26 L541.23 293.29 L541.57 294.10 L541.92 293.83 L542.26 293.76 L542.60 293.68 L542.94 293.79 L543.28 294.59 L543.62 294.46 L543.96 294.07 L544.30 293.82 L544.64 294.57 L544.98 293.23 L545.32 293.75 L545.66 294.08 L546.00 293.50 L546.34 293.90 L546.68 294.60 L547.02 294.06 L547.36 294.56 L547.70 294.52 L548.04 294.62 L548.38 295.13 L548.72 294.90 L549.06 295.09 L549.40 295.15 L549.74 294.66 L550.08 295.19 L550.43 295.44 L550.77 294.71 L551.11 295.20 L551.45 295.20 L551.79 295.76 L552.13 295.27 L552.47 295.96 L552.81 296.02 L553.15 296.06 L553.49 295.62 L553.83 295.85 L554.17 295.15 L554.51 295.85 L554.85 296.22 L555.19 295.58 L555.53 295.94 L555.87 296.29 L556.21 296.27 L556.55 296.98 L556.89 296.23 L557.23 296.60 L557.57 296.35 L557.91 297.37 L558.25 297.07 L558.59 297.39 L558.94 297.29 L559.28 296.68 L559.62 296.96 L559.96 297.18 L560.30 297.86 L560.64 297.65 L560.98 298.06 L561.32 298.08 L561.66 297.99 L562.00 297.26 L562.34 297.48 L562.68 297.26 L563.02 297.88 L563.36 298.89 L563.70 298.22 L564.04 299.20 L564.38 299.47 L564.72 298.90 L565.06 299.35 L565.40 298.92 L565.74 299.76 L566.08 299.39 L566.42 299.34 L566.76 299.74 L567.10 299.77 L567.45 299.44 L567.79 299.97 L568.13 300.08 L568.47 300.08 L568.81 300.77 L569.15 301.40 L569.49 300.76 L569.83 300.60 L570.17 300.40 L570.51 299.86 L570.85 300.03 L571.19 300.47 L571.53 300.11 L571.87 300.59 L572.21 300.54 L572.55 301.51 L572.89 301.33 L573.23 300.80 L573.57 301.92 L573.91 302.26 L574.25 302.43 L574.59 301.20 L574.93 302.25 L575.27 302.56 L575.61 302.57 L575.96 302.38 L576.30 301.94 L576.64 302.46 L576.98 302.57 L577.32 302.93 L577.66 303.02 L578.00 302.80 L578.34 303.21 L578.68 302.66 L579.02 302.84 L579.36 303.12 L579.70 303.37 L580.04 303.14 L580.38 303.71 L580.72 303.50 L581.06 303.11 L581.40 303.51 L581.74 303.25 L582.08 303.28 L582.42 303.19 L582.76 304.17 L583.10 304.06 L583.44 303.31 L583.78 304.24 L584.12 304.25 L584.47 303.88 L584.81 304.22 L585.15 304.84 L585.49 304.27 L585.83 304.37 L586.17 304.66 L586.51 304.02 L586.85 304.00 L587.19 304.02 L587.53 304.51 L587.87 304.88 L588.21 304.39 L588.55 304.28 L588.89 304.87 L589.23 304.75 L589.57 305.13 L589.91 304.97 L590.25 305.02 L590.59 305.12 L590.93 305.18 L591.27 304.95 L591.61 304.98 L591.95 305.95 L592.29 306.53 L592.63 305.97 L592.98 305.13 L593.32 305.56 L593.66 305.00 L594.00 304.57 L594.34 305.06 L594.68 305.43 L595.02 305.54 L595.36 305.78 L595.70 306.56 L596.04 306.23 L596.38 306.44 L596.72 307.19 L597.06 306.46 L597.40 306.16 L597.74 306.76 L598.08 307.44 L598.42 307.05 L598.76 307.23 L599.10 306.82 L599.44 306.94 L599.78 307.19 L600.12 306.93 L600.46 307.26 L600.80 307.20 L601.14 307.23 L601.49 307.45 L601.83 307.49 L602.17 307.93 L602.51 306.19 L602.85 306.82 L603.19 307.62 L603.53 307.92 L603.87 307.93 L604.21 308.10 L604.55 307.28 L604.89 307.24 L605.23 308.18 L605.57 308.20 L605.91 307.85 L606.25 308.30 L606.59 308.24 L606.93 308.97 L607.27 308.61 L607.61 308.84 L607.95 309.00 L608.29 308.93 L608.63 309.27 L608.97 309.37 L609.31 309.32 L609.65 308.57 L610.00 308.69 L610.34 308.95 L610.68 309.28 L611.02 308.78 L611.36 309.21 L611.70 309.20 L612.04 309.44 L612.38 309.44 L612.72 310.08 L613.06 310.04 L613.40 310.28 L613.74 309.72 L614.08 309.86 L614.42 310.08 L614.76 310.74 L615.10 310.59 L615.44 309.96 L615.78 310.39 L616.12 310.46 L616.46 309.78 L616.80 310.31 L617.14 310.98 L617.48 310.93 L617.82 310.49 L618.16 311.41 L618.51 311.32 L618.85 311.31 L619.19 310.75 L619.53 311.17 L619.87 311.73 L620.21 311.52 L620.55 311.69 L620.89 311.40 L621.23 312.02 L621.57 311.40 L621.91 311.24 L622.25 311.32 L622.59 311.12 L622.93 312.08 L623.27 311.32 L623.61 311.59 L623.95 311.97 L624.29 311.55 L624.63 311.48 L624.97 312.04 L625.31 311.74 L625.65 310.48 L625.99 311.19 L626.33 312.12 L626.67 311.54 L627.02 312.70 L627.36 312.17 L627.70 312.21 L628.04 311.50 L628.38 311.99 L628.72 312.66 L629.06 312.84 L629.40 312.47 L629.74 312.90 L630.08 313.16 L630.42 312.75 L630.76 312.46 L631.10 312.72 L631.44 312.99 L631.78 313.24 L632.12 313.45 L632.46 312.94 L632.80 313.31 L633.14 313.26 L633.48 313.40 L633.82 313.80 L634.16 313.91 L634.50 313.38 L634.84 313.39 L635.18 313.39 L635.53 313.41 L635.87 313.36 L636.21 312.65 L636.55 312.85 L636.89 312.91 L637.23 313.06 L637.57 313.52 L637.91 313.90 L638.25 313.33 L638.59 313.75 L638.93 313.91 L639.27 313.90 L639.61 314.62 L639.95 313.31 L640.29 313.42 L640.63 313.58 L640.97 314.23 L641.31 314.00 L641.65 314.16 L641.99 314.26 L642.33 314.20 L642.67 314.76 L643.01 314.20 L643.35 315.38 L643.69 312.87 L644.04 313.64 L644.38 314.39 L644.72 314.72 L645.06 314.66 L645.40 315.01 L645.74 315.02 L646.08 314.67 L646.42 315.09 L646.76 315.21 L647.10 315.28 L647.44 315.41 L647.78 315.82 L648.12 315.33 L648.46 315.76 L648.80 316.25 L649.14 315.99 L649.48 316.37 L649.82 315.94 L650.16 316.26 L650.50 316.42 L650.84 316.40 L651.18 316.45 L651.52 316.87 L651.86 316.42 L652.20 316.40 L652.55 316.81 L652.89 316.31 L653.23 316.85 L653.57 317.32 L653.91 317.00 L654.25 317.25 L654.59 317.27 L654.93 317.61 L655.27 317.45 L655.61 317.42 L655.95 316.32 L656.29 317.22 L656.63 317.26 L656.97 317.16 L657.31 317.12 L657.65 317.79 L657.99 317.32 L658.33 317.60 L658.67 318.02 L659.01 317.72 L659.35 318.02 L659.69 318.02 L660.03 317.71 L660.37 317.99 L660.71 318.10 L661.06 318.06 L661.40 318.67 L661.74 318.33 L662.08 318.04 L662.42 317.11 L662.76 317.83 L663.10 318.62 L663.44 318.26 L663.78 318.73 L664.12 318.72 L664.46 318.47 L664.80 318.39 L665.14 318.92 L665.48 318.24 L665.82 319.00 L666.16 318.46 L666.50 319.15 L666.84 318.71 L667.18 318.50 L667.52 318.99 L667.86 318.38 L668.20 318.62 L668.54 317.53 L668.88 318.18 L669.22 318.54 L669.57 318.63 L669.91 318.78 L670.25 318.71 L670.59 319.15 L670.93 318.96 L671.27 319.15 L671.61 319.23 L671.95 318.78 L672.29 318.89 L672.63 319.37 L672.97 319.32 L673.31 319.77 L673.65 318.60 L673.99 319.48 L674.33 319.79 L674.67 319.49 L675.01 319.74 L675.35 319.51 L675.69 319.51 L676.03 319.84 L676.37 319.14 L676.71 318.79 L677.05 319.69 L677.39 319.50 L677.73 318.97 L678.08 319.20 L678.42 319.44 L678.76 319.13 L679.10 319.12 L679.44 319.30 L679.78 318.99 L680.12 319.45 L680.46 319.69 L680.80 319.42 L681.14 320.08 L681.48 319.70 L681.82 320.10 L682.16 320.35 L682.50 319.42 L682.84 319.43 L683.18 319.66 L683.52 319.57 L683.86 319.92 L684.20 320.42 L684.54 319.78 L684.88 320.29 L685.22 319.98 L685.56 319.91 L685.90 320.29 L686.24 320.14 L686.59 319.79 L686.93 319.84 L687.27 320.23 L687.61 320.20 L687.95 319.61 L688.29 320.15 L688.63 320.24 L688.97 320.70 L689.31 320.13 L689.65 320.58 L689.99 320.43 L690.33 320.01 L690.67 320.59 L691.01 320.88 L691.35 320.59 L691.69 321.05 L692.03 320.90 L692.37 320.86 L692.71 320.38 L693.05 320.65 L693.39 320.96 L693.73 320.90 L694.07 320.56 L694.41 320.95 L694.75 321.18 L695.10 321.45 L695.44 321.35 L695.78 320.53 L696.12 319.74 L696.46 319.42 L696.80 320.06 L697.14 320.27 L697.48 321.24 L697.82 321.14 L698.16 321.16 L698.50 320.97 L698.84 321.65 L699.18 321.14 L699.52 320.82 L699.86 321.26 L700.20 320.96 L700.54 321.13 L700.88 319.07 L701.22 320.62 L701.56 320.22 L701.90 320.44 L702.24 321.03 L702.58 321.45 L702.92 322.10 L703.26 319.69 L703.61 321.35 L703.95 321.46 L704.29 322.06 L704.63 322.04 L704.97 321.96 L705.31 321.33 L705.65 321.51 L705.99 322.04 L706.33 321.56 L706.67 322.50 L707.01 322.04 L707.35 322.43 L707.69 321.95 L708.03 322.53 L708.37 322.34 L708.71 322.70 L709.05 322.89 L709.39 322.35 L709.73 322.59 L710.07 322.66 L710.41 323.08 L710.75 322.18 L711.09 322.62 L711.43 322.23 L711.77 320.54 L712.12 321.43 L712.46 321.73 L712.80 322.61 L713.14 322.15 L713.48 322.94 L713.82 322.55 L714.16 322.88 L714.50 321.54 L714.84 322.19 L715.18 322.56 L715.52 321.47 L715.86 321.75 L716.20 322.53 L716.54 322.74 L716.88 321.26 L717.22 321.76 L717.56 322.37 L717.90 322.37 L718.24 322.83 L718.58 322.02 L718.92 321.80 L719.26 322.93 L719.60 323.01 L719.94 322.70 L720.28 323.14 L720.63 323.59 L720.97 323.89 L721.31 323.90 L721.65 323.38 L721.99 323.95 L722.33 323.02 L722.67 323.88 L723.01 323.76 L723.35 323.36 L723.69 322.85 L724.03 323.31 L724.37 322.40 L724.71 322.54 L725.05 322.37 L725.39 323.22 L725.73 323.05 L726.07 322.98 L726.41 323.39 L726.75 324.48 L727.09 323.33 L727.43 323.76 L727.77 323.99 L728.11 324.29 L728.45 323.70 L728.79 323.74 L729.14 324.39 L729.48 324.22 L729.82 324.56 L730.16 323.81 L730.50 324.18 L730.84 324.54 L731.18 324.31 L731.52 323.93 L731.86 324.35 L732.20 323.69 L732.54 323.89 L732.88 324.49"/>
</g>
<rect x="447.30" y="30.50" width="299.20" height="318.45" fill="none" stroke="#262626" stroke-width="1.25"/>
<path d="M443.90 133.65H447.30M445.30 101.24H447.30M445.30 82.29H447.30M445.30 68.84H447.30M445.30 58.41H447.30M445.30 49.88H447.30M445.30 42.68H447.30M445.30 36.43H447.30M445.30 30.93H447.30M443.90 241.30H447.30M445.30 208.89H447.30M445.30 189.94H447.30M445.30 176.49H447.30M445.30 166.06H447.30M445.30 157.53H447.30M445.30 150.33H447.30M445.30 144.08H447.30M445.30 138.58H447.30M443.90 348.95H447.30M445.30 316.54H447.30M445.30 297.59H447.30M445.30 284.14H447.30M445.30 273.71H447.30M445.30 265.18H447.30M445.30 257.98H447.30M445.30 251.73H447.30M445.30 246.23H447.30M460.90 348.95V351.95M546.00 348.95V351.95M631.10 348.95V351.95M716.20 348.95V351.95" stroke="#262626" stroke-width="1.1" fill="none"/>
<text transform="translate(387.60 141.45) scale(0.9700 1)" font-size="23.90" x="0.63 15.52" y="0">10</text>
<text transform="translate(417.09 134.52) scale(1.1576 1)" font-size="17.54">−</text>
<text transform="translate(430.18 133.55) scale(0.9531 1)" font-size="16.73">1</text>
<text transform="translate(387.60 249.60) scale(0.9700 1)" font-size="23.90" x="0.63 15.52" y="0">10</text>
<text transform="translate(417.09 242.67) scale(1.1576 1)" font-size="17.54">−</text>
<text transform="translate(429.96 241.70) scale(0.9613 1)" font-size="16.82">2</text>
<text transform="translate(387.60 357.50) scale(0.9700 1)" font-size="23.90" x="0.63 15.52" y="0">10</text>
<text transform="translate(417.09 350.57) scale(1.1576 1)" font-size="17.54">−</text>
<text transform="translate(430.17 349.68) scale(0.9481 1)" font-size="16.93">3</text>
<text transform="translate(453.34 373.00) scale(0.9906 1)" font-size="23.99" x="0.58" y="0">0</text>
<text transform="translate(524.13 373.00) scale(0.9595 1)" font-size="23.99" x="0.49 15.64 30.66" y="0">250</text>
<text transform="translate(609.23 373.00) scale(0.9906 1)" font-size="23.99" x="0.49 15.04 29.49" y="0">500</text>
<text transform="translate(694.33 373.00) scale(0.9621 1)" font-size="23.99" x="0.72 15.58 30.56" y="0">750</text>
<g clip-path="url(#c3)" fill="none" stroke-width="1.80" stroke-linejoin="round" stroke-linecap="square">
<path stroke="#1f77b4" d="M102.10 441.80 L102.44 454.96 L102.78 465.28 L103.12 471.36 L103.46 473.94 L103.80 475.80 L104.14 477.60 L104.48 479.27 L104.82 479.99 L105.16 481.07 L105.50 482.62 L105.84 483.93 L106.18 485.45 L106.53 486.72 L106.87 488.93 L107.21 491.21 L107.55 492.53 L107.89 495.29 L108.23 497.11 L108.57 501.60 L108.91 506.48 L109.25 512.60 L109.59 517.21 L109.93 521.05 L110.27 524.88 L110.61 527.80 L110.95 529.49 L111.29 532.72 L111.63 535.09 L111.97 537.13 L112.31 538.21 L112.65 540.34 L112.99 541.14 L113.33 543.46 L113.67 546.35 L114.01 547.54 L114.35 549.76 L114.69 551.96 L115.04 553.08 L115.38 554.95 L115.72 556.62 L116.06 558.06 L116.40 558.64 L116.74 560.64 L117.08 562.51 L117.42 562.49 L117.76 564.65 L118.10 565.39 L118.44 565.98 L118.78 567.54 L119.12 568.18 L119.46 568.32 L119.80 570.00 L120.14 571.05 L120.48 569.95 L120.82 571.52 L121.16 573.52 L121.50 575.72 L121.84 577.66 L122.18 578.18 L122.52 579.66 L122.86 580.70 L123.20 582.13 L123.55 582.66 L123.89 583.90 L124.23 584.62 L124.57 585.93 L124.91 585.28 L125.25 585.57 L125.59 585.25 L125.93 586.80 L126.27 587.41 L126.61 587.99 L126.95 589.74 L127.29 592.29 L127.63 593.57 L127.97 594.27 L128.31 594.53 L128.65 595.90 L128.99 597.78 L129.33 597.89 L129.67 598.58 L130.01 598.31 L130.35 599.41 L130.69 600.49 L131.03 601.08 L131.37 602.42 L131.71 603.01 L132.06 604.27 L132.40 603.83 L132.74 604.39 L133.08 604.28 L133.42 604.04 L133.76 606.18 L134.10 606.89 L134.44 608.08 L134.78 608.05 L135.12 609.27 L135.46 608.03 L135.80 609.00 L136.14 610.63 L136.48 611.13 L136.82 612.24 L137.16 613.72 L137.50 612.98 L137.84 613.60 L138.18 614.45 L138.52 615.08 L138.86 615.28 L139.20 615.74 L139.54 616.60 L139.88 616.98 L140.22 616.77 L140.57 617.62 L140.91 618.11 L141.25 618.06 L141.59 618.94 L141.93 618.36 L142.27 619.34 L142.61 619.68 L142.95 619.90 L143.29 618.34 L143.63 619.52 L143.97 619.56 L144.31 620.64 L144.65 621.90 L144.99 621.36 L145.33 622.84 L145.67 622.15 L146.01 623.84 L146.35 623.70 L146.69 624.87 L147.03 625.03 L147.37 624.73 L147.71 626.26 L148.05 626.43 L148.39 624.60 L148.73 625.36 L149.08 626.13 L149.42 626.40 L149.76 627.78 L150.10 627.25 L150.44 626.12 L150.78 626.83 L151.12 627.74 L151.46 628.13 L151.80 629.63 L152.14 628.60 L152.48 629.87 L152.82 630.14 L153.16 630.41 L153.50 631.08 L153.84 631.43 L154.18 632.09 L154.52 632.32 L154.86 632.72 L155.20 632.61 L155.54 633.19 L155.88 634.56 L156.22 633.88 L156.56 634.02 L156.90 634.91 L157.24 635.66 L157.59 634.72 L157.93 635.48 L158.27 635.32 L158.61 633.78 L158.95 635.62 L159.29 635.90 L159.63 636.37 L159.97 636.10 L160.31 635.17 L160.65 636.10 L160.99 637.08 L161.33 637.07 L161.67 637.50 L162.01 638.94 L162.35 638.46 L162.69 639.07 L163.03 639.17 L163.37 639.22 L163.71 639.41 L164.05 640.11 L164.39 639.92 L164.73 640.18 L165.07 640.45 L165.41 641.14 L165.75 641.11 L166.10 641.11 L166.44 640.54 L166.78 638.48 L167.12 640.10 L167.46 641.02 L167.80 641.11 L168.14 641.49 L168.48 641.86 L168.82 642.29 L169.16 642.64 L169.50 642.36 L169.84 643.47 L170.18 642.55 L170.52 643.68 L170.86 643.74 L171.20 644.11 L171.54 644.74 L171.88 644.76 L172.22 643.83 L172.56 643.79 L172.90 645.03 L173.24 644.43 L173.58 645.03 L173.92 645.57 L174.26 644.68 L174.61 644.65 L174.95 645.81 L175.29 645.80 L175.63 645.38 L175.97 644.62 L176.31 644.97 L176.65 645.19 L176.99 646.16 L177.33 646.04 L177.67 645.49 L178.01 646.82 L178.35 646.81 L178.69 646.68 L179.03 646.58 L179.37 647.10 L179.71 647.20 L180.05 647.16 L180.39 647.98 L180.73 647.82 L181.07 648.24 L181.41 646.68 L181.75 648.34 L182.09 647.58 L182.43 649.08 L182.77 649.08 L183.12 649.44 L183.46 649.08 L183.80 649.55 L184.14 650.39 L184.48 650.32 L184.82 650.64 L185.16 650.71 L185.50 651.54 L185.84 651.24 L186.18 650.52 L186.52 651.35 L186.86 651.00 L187.20 650.64 L187.54 651.98 L187.88 652.96 L188.22 652.59 L188.56 652.25 L188.90 652.52 L189.24 653.57 L189.58 653.33 L189.92 653.45 L190.26 653.56 L190.60 653.76 L190.94 654.23 L191.28 654.25 L191.63 654.17 L191.97 653.32 L192.31 654.26 L192.65 653.72 L192.99 653.18 L193.33 653.04 L193.67 653.68 L194.01 654.29 L194.35 654.11 L194.69 655.69 L195.03 655.79 L195.37 655.15 L195.71 655.82 L196.05 655.77 L196.39 654.55 L196.73 655.54 L197.07 653.74 L197.41 654.72 L197.75 654.80 L198.09 655.32 L198.43 655.74 L198.77 656.60 L199.11 656.45 L199.45 656.46 L199.79 657.19 L200.14 656.07 L200.48 654.35 L200.82 653.76 L201.16 655.89 L201.50 656.07 L201.84 655.85 L202.18 656.35 L202.52 656.57 L202.86 656.97 L203.20 657.04 L203.54 657.18 L203.88 656.90 L204.22 657.85 L204.56 657.73 L204.90 657.71 L205.24 657.68 L205.58 657.80 L205.92 658.93 L206.26 658.63 L206.60 658.58 L206.94 658.52 L207.28 658.20 L207.62 658.10 L207.96 658.85 L208.30 658.59 L208.65 658.89 L208.99 659.08 L209.33 659.38 L209.67 658.79 L210.01 659.41 L210.35 658.77 L210.69 659.77 L211.03 659.29 L211.37 660.05 L211.71 660.63 L212.05 660.00 L212.39 660.02 L212.73 660.48 L213.07 660.49 L213.41 660.01 L213.75 660.79 L214.09 661.59 L214.43 660.75 L214.77 660.85 L215.11 660.63 L215.45 661.33 L215.79 660.78 L216.13 660.95 L216.47 662.06 L216.81 661.23 L217.16 662.18 L217.50 662.46 L217.84 662.02 L218.18 662.23 L218.52 662.92 L218.86 662.10 L219.20 662.01 L219.54 661.75 L219.88 662.27 L220.22 662.11 L220.56 662.22 L220.90 661.69 L221.24 661.96 L221.58 662.28 L221.92 662.68 L222.26 661.99 L222.60 662.44 L222.94 662.42 L223.28 662.58 L223.62 662.99 L223.96 663.31 L224.30 663.34 L224.64 663.75 L224.98 664.47 L225.32 664.02 L225.67 663.93 L226.01 663.32 L226.35 664.32 L226.69 663.44 L227.03 663.78 L227.37 664.86 L227.71 664.90 L228.05 664.64 L228.39 664.05 L228.73 664.58 L229.07 663.75 L229.41 664.89 L229.75 665.92 L230.09 665.29 L230.43 665.03 L230.77 664.99 L231.11 665.51 L231.45 665.23 L231.79 663.09 L232.13 664.56 L232.47 663.85 L232.81 665.47 L233.15 665.90 L233.49 666.24 L233.83 665.81 L234.18 666.38 L234.52 666.09 L234.86 665.22 L235.20 665.60 L235.54 665.43 L235.88 665.26 L236.22 664.62 L236.56 665.13 L236.90 665.95 L237.24 666.72 L237.58 665.87 L237.92 666.50 L238.26 667.06 L238.60 667.17 L238.94 666.36 L239.28 667.07 L239.62 666.18 L239.96 666.05 L240.30 666.52 L240.64 667.51 L240.98 667.55 L241.32 666.69 L241.66 668.19 L242.00 667.97 L242.34 668.35 L242.69 667.63 L243.03 667.39 L243.37 665.30 L243.71 667.41 L244.05 666.66 L244.39 667.52 L244.73 666.98 L245.07 667.61 L245.41 666.99 L245.75 667.37 L246.09 666.26 L246.43 665.80 L246.77 667.20 L247.11 666.32 L247.45 666.36 L247.79 667.07 L248.13 667.44 L248.47 667.79 L248.81 667.18 L249.15 667.54 L249.49 668.06 L249.83 667.83 L250.17 667.58 L250.51 666.47 L250.85 667.83 L251.20 667.42 L251.54 668.46 L251.88 668.44 L252.22 668.48 L252.56 669.38 L252.90 668.85 L253.24 669.60 L253.58 667.71 L253.92 668.53 L254.26 668.52 L254.60 668.49 L254.94 669.24 L255.28 669.07 L255.62 669.51 L255.96 669.34 L256.30 668.98 L256.64 669.48 L256.98 669.62 L257.32 670.07 L257.66 669.34 L258.00 669.77 L258.34 669.11 L258.68 670.17 L259.02 669.48 L259.36 669.16 L259.71 669.62 L260.05 668.38 L260.39 668.29 L260.73 669.08 L261.07 669.59 L261.41 669.65 L261.75 670.45 L262.09 670.06 L262.43 670.19 L262.77 670.82 L263.11 670.32 L263.45 670.88 L263.79 670.29 L264.13 669.96 L264.47 668.17 L264.81 670.28 L265.15 669.78 L265.49 670.35 L265.83 670.51 L266.17 670.81 L266.51 670.95 L266.85 671.89 L267.19 670.77 L267.53 670.66 L267.87 671.00 L268.22 670.94 L268.56 671.83 L268.90 671.97 L269.24 671.31 L269.58 671.20 L269.92 671.65 L270.26 672.13 L270.60 668.62 L270.94 670.70 L271.28 670.51 L271.62 671.79 L271.96 671.18 L272.30 671.75 L272.64 671.41 L272.98 671.78 L273.32 672.89 L273.66 672.64 L274.00 671.61 L274.34 671.74 L274.68 671.53 L275.02 672.33 L275.36 672.56 L275.70 672.31 L276.04 672.53 L276.38 672.26 L276.73 672.83 L277.07 672.93 L277.41 673.56 L277.75 673.87 L278.09 673.07 L278.43 672.85 L278.77 673.18 L279.11 672.99 L279.45 672.97 L279.79 673.30 L280.13 672.91 L280.47 673.64 L280.81 673.37 L281.15 673.52 L281.49 673.23 L281.83 673.06 L282.17 673.02 L282.51 673.34 L282.85 673.03 L283.19 673.49 L283.53 673.44 L283.87 672.71 L284.21 672.13 L284.55 671.87 L284.89 671.66 L285.24 672.24 L285.58 671.00 L285.92 672.57 L286.26 672.92 L286.60 672.35 L286.94 672.67 L287.28 673.00 L287.62 672.98 L287.96 673.46 L288.30 673.47 L288.64 673.79 L288.98 672.97 L289.32 673.77 L289.66 673.88 L290.00 673.88 L290.34 673.83 L290.68 674.21 L291.02 672.70 L291.36 673.87 L291.70 673.99 L292.04 674.18 L292.38 674.36 L292.72 674.03 L293.06 674.30 L293.40 674.76 L293.75 674.75 L294.09 674.72 L294.43 674.06 L294.77 674.99 L295.11 675.33 L295.45 675.32 L295.79 674.95 L296.13 673.66 L296.47 675.00 L296.81 674.77 L297.15 673.96 L297.49 675.38 L297.83 674.75 L298.17 674.98 L298.51 675.41 L298.85 676.35 L299.19 675.77 L299.53 676.10 L299.87 676.51 L300.21 674.77 L300.55 674.74 L300.89 675.22 L301.23 675.20 L301.57 675.77 L301.91 676.51 L302.26 676.71 L302.60 676.77 L302.94 677.28 L303.28 676.65 L303.62 677.05 L303.96 677.47 L304.30 677.47 L304.64 677.72 L304.98 677.47 L305.32 677.19 L305.66 677.48 L306.00 676.89 L306.34 676.49 L306.68 676.74 L307.02 676.79 L307.36 677.15 L307.70 676.43 L308.04 677.08 L308.38 677.04 L308.72 676.96 L309.06 676.39 L309.40 677.20 L309.74 677.61 L310.08 676.79 L310.42 676.67 L310.77 677.08 L311.11 677.44 L311.45 676.05 L311.79 677.24 L312.13 677.57 L312.47 677.66 L312.81 678.11 L313.15 677.88 L313.49 677.55 L313.83 677.55 L314.17 677.77 L314.51 677.21 L314.85 677.45 L315.19 677.89 L315.53 678.38 L315.87 677.45 L316.21 677.03 L316.55 677.22 L316.89 677.16 L317.23 673.51 L317.57 660.66 L317.91 664.28 L318.25 668.08 L318.59 670.68 L318.93 673.23 L319.28 674.98 L319.62 675.15 L319.96 676.37 L320.30 677.60 L320.64 677.43 L320.98 675.71 L321.32 677.52 L321.66 677.03 L322.00 677.08 L322.34 677.55 L322.68 678.82 L323.02 678.63 L323.36 678.90 L323.70 678.43 L324.04 678.57 L324.38 678.17 L324.72 678.38 L325.06 679.39 L325.40 679.51 L325.74 679.22 L326.08 679.79 L326.42 679.72 L326.76 680.33 L327.10 679.69 L327.44 679.62 L327.79 679.32 L328.13 680.16 L328.47 680.15 L328.81 678.46 L329.15 679.02 L329.49 679.93 L329.83 679.47 L330.17 679.29 L330.51 679.88 L330.85 680.11 L331.19 679.63 L331.53 679.33 L331.87 679.45 L332.21 680.36 L332.55 679.75 L332.89 679.90 L333.23 679.38 L333.57 679.81 L333.91 679.58 L334.25 680.06 L334.59 679.54 L334.93 679.75 L335.27 679.13 L335.61 680.22 L335.95 679.85 L336.30 679.63 L336.64 679.85 L336.98 679.94 L337.32 680.34 L337.66 679.23 L338.00 679.52 L338.34 679.84 L338.68 681.11 L339.02 680.47 L339.36 680.03 L339.70 680.40 L340.04 680.98 L340.38 680.01 L340.72 679.92 L341.06 680.37 L341.40 678.78 L341.74 678.23 L342.08 678.54 L342.42 680.10 L342.76 680.35 L343.10 680.05 L343.44 680.29 L343.78 679.24 L344.12 680.26 L344.46 678.78 L344.81 679.53 L345.15 680.00 L345.49 679.85 L345.83 679.51 L346.17 680.56 L346.51 680.24 L346.85 680.53 L347.19 680.46 L347.53 680.34 L347.87 677.80 L348.21 680.02 L348.55 680.05 L348.89 680.84 L349.23 681.54 L349.57 680.96 L349.91 680.37 L350.25 680.88 L350.59 680.66 L350.93 679.89 L351.27 679.97 L351.61 679.59 L351.95 680.99 L352.29 680.52 L352.63 681.54 L352.97 681.58 L353.32 681.67 L353.66 681.90 L354.00 681.76 L354.34 681.50 L354.68 679.34 L355.02 680.84 L355.36 682.04 L355.70 681.76 L356.04 678.72 L356.38 679.97 L356.72 680.42 L357.06 682.02 L357.40 681.87 L357.74 682.19 L358.08 682.33 L358.42 682.66 L358.76 682.55 L359.10 682.76 L359.44 682.19 L359.78 681.38 L360.12 683.06 L360.46 682.44 L360.80 682.62 L361.14 683.12 L361.48 683.32 L361.83 682.64 L362.17 683.10 L362.51 683.64 L362.85 683.41 L363.19 683.39 L363.53 684.02 L363.87 683.10 L364.21 683.39 L364.55 682.81 L364.89 683.87 L365.23 682.49 L365.57 682.78 L365.91 681.11 L366.25 682.38 L366.59 682.88 L366.93 683.58 L367.27 682.57 L367.61 683.73 L367.95 683.42 L368.29 683.35 L368.63 683.94 L368.97 683.37 L369.31 682.93 L369.65 683.68 L369.99 683.20 L370.34 683.39 L370.68 682.78 L371.02 683.26 L371.36 684.13 L371.70 683.58 L372.04 683.16 L372.38 683.59 L372.72 683.59 L373.06 683.51 L373.40 684.25 L373.74 683.82 L374.08 683.28"/>
<path stroke="#ff7f0e" d="M102.10 439.20 L102.44 452.45 L102.78 464.25 L103.12 471.50 L103.46 473.88 L103.80 477.75 L104.14 480.68 L104.48 483.12 L104.82 485.05 L105.16 486.62 L105.50 488.40 L105.84 490.50 L106.18 493.99 L106.53 501.17 L106.87 509.73 L107.21 519.55 L107.55 526.21 L107.89 531.81 L108.23 535.42 L108.57 539.57 L108.91 543.29 L109.25 546.31 L109.59 548.39 L109.93 551.69 L110.27 553.86 L110.61 555.96 L110.95 557.95 L111.29 559.86 L111.63 560.68 L111.97 563.24 L112.31 563.85 L112.65 564.72 L112.99 566.80 L113.33 568.58 L113.67 568.98 L114.01 570.86 L114.35 571.94 L114.69 572.09 L115.04 572.45 L115.38 573.79 L115.72 575.52 L116.06 575.47 L116.40 576.24 L116.74 577.43 L117.08 579.01 L117.42 579.41 L117.76 581.45 L118.10 582.65 L118.44 583.73 L118.78 585.12 L119.12 586.89 L119.46 589.24 L119.80 590.83 L120.14 592.80 L120.48 595.97 L120.82 597.06 L121.16 599.11 L121.50 601.58 L121.84 602.61 L122.18 603.90 L122.52 605.51 L122.86 606.66 L123.20 608.68 L123.55 609.33 L123.89 610.75 L124.23 611.48 L124.57 612.89 L124.91 614.20 L125.25 615.87 L125.59 616.94 L125.93 618.53 L126.27 618.71 L126.61 619.98 L126.95 620.48 L127.29 621.24 L127.63 622.92 L127.97 624.42 L128.31 625.01 L128.65 624.15 L128.99 625.21 L129.33 627.74 L129.67 626.86 L130.01 629.16 L130.35 630.17 L130.69 632.44 L131.03 633.05 L131.37 633.08 L131.71 632.43 L132.06 634.85 L132.40 636.02 L132.74 637.24 L133.08 637.26 L133.42 638.53 L133.76 639.61 L134.10 639.69 L134.44 640.47 L134.78 639.63 L135.12 640.63 L135.46 641.44 L135.80 642.12 L136.14 643.22 L136.48 642.56 L136.82 642.38 L137.16 643.05 L137.50 643.86 L137.84 644.25 L138.18 644.08 L138.52 644.41 L138.86 644.43 L139.20 644.35 L139.54 645.12 L139.88 645.99 L140.22 646.62 L140.57 646.27 L140.91 647.38 L141.25 646.91 L141.59 647.39 L141.93 648.13 L142.27 647.93 L142.61 647.75 L142.95 648.08 L143.29 648.99 L143.63 648.12 L143.97 648.77 L144.31 647.55 L144.65 648.87 L144.99 649.36 L145.33 649.72 L145.67 650.50 L146.01 650.20 L146.35 651.16 L146.69 650.39 L147.03 649.10 L147.37 650.31 L147.71 651.18 L148.05 651.96 L148.39 652.02 L148.73 652.71 L149.08 653.09 L149.42 652.93 L149.76 652.78 L150.10 653.42 L150.44 653.55 L150.78 652.94 L151.12 653.61 L151.46 654.26 L151.80 653.90 L152.14 654.35 L152.48 654.15 L152.82 655.07 L153.16 654.90 L153.50 653.48 L153.84 654.65 L154.18 654.54 L154.52 655.02 L154.86 656.27 L155.20 655.36 L155.54 656.41 L155.88 655.90 L156.22 656.72 L156.56 657.65 L156.90 657.15 L157.24 656.90 L157.59 657.94 L157.93 655.23 L158.27 655.03 L158.61 656.29 L158.95 656.46 L159.29 657.97 L159.63 658.61 L159.97 658.66 L160.31 658.81 L160.65 658.89 L160.99 659.52 L161.33 658.23 L161.67 659.57 L162.01 659.91 L162.35 659.26 L162.69 660.35 L163.03 660.32 L163.37 660.47 L163.71 660.32 L164.05 659.12 L164.39 659.84 L164.73 659.87 L165.07 660.69 L165.41 661.04 L165.75 661.44 L166.10 661.43 L166.44 661.96 L166.78 660.73 L167.12 661.45 L167.46 662.13 L167.80 662.42 L168.14 662.05 L168.48 662.21 L168.82 662.00 L169.16 662.81 L169.50 662.92 L169.84 663.65 L170.18 664.16 L170.52 663.62 L170.86 664.36 L171.20 664.03 L171.54 663.86 L171.88 663.93 L172.22 663.91 L172.56 662.62 L172.90 664.22 L173.24 665.00 L173.58 663.84 L173.92 664.62 L174.26 665.68 L174.61 665.51 L174.95 665.69 L175.29 665.70 L175.63 666.30 L175.97 666.18 L176.31 665.66 L176.65 664.50 L176.99 664.77 L177.33 666.33 L177.67 666.24 L178.01 667.04 L178.35 666.53 L178.69 666.10 L179.03 666.94 L179.37 667.49 L179.71 666.89 L180.05 667.20 L180.39 668.20 L180.73 667.03 L181.07 667.40 L181.41 668.33 L181.75 668.12 L182.09 667.72 L182.43 667.69 L182.77 668.39 L183.12 668.82 L183.46 668.80 L183.80 668.71 L184.14 668.99 L184.48 667.46 L184.82 667.41 L185.16 668.54 L185.50 666.01 L185.84 667.25 L186.18 667.83 L186.52 668.57 L186.86 668.18 L187.20 668.70 L187.54 668.39 L187.88 669.39 L188.22 669.60 L188.56 669.81 L188.90 669.34 L189.24 669.89 L189.58 669.57 L189.92 669.82 L190.26 670.06 L190.60 670.66 L190.94 670.10 L191.28 670.42 L191.63 670.13 L191.97 670.32 L192.31 670.36 L192.65 670.66 L192.99 671.10 L193.33 670.49 L193.67 671.27 L194.01 670.75 L194.35 671.33 L194.69 671.10 L195.03 671.30 L195.37 671.37 L195.71 672.03 L196.05 671.82 L196.39 672.22 L196.73 671.76 L197.07 671.73 L197.41 671.57 L197.75 669.48 L198.09 670.20 L198.43 669.43 L198.77 671.23 L199.11 671.06 L199.45 672.13 L199.79 672.83 L200.14 672.46 L200.48 672.72 L200.82 673.61 L201.16 672.94 L201.50 672.88 L201.84 673.66 L202.18 672.97 L202.52 672.17 L202.86 672.51 L203.20 672.13 L203.54 673.26 L203.88 673.45 L204.22 673.43 L204.56 674.28 L204.90 673.31 L205.24 673.34 L205.58 672.17 L205.92 673.23 L206.26 672.81 L206.60 673.51 L206.94 673.73 L207.28 673.45 L207.62 674.17 L207.96 674.11 L208.30 674.55 L208.65 674.96 L208.99 674.50 L209.33 674.67 L209.67 674.69 L210.01 674.47 L210.35 674.42 L210.69 674.74 L211.03 675.38 L211.37 675.13 L211.71 676.75 L212.05 675.04 L212.39 674.14 L212.73 673.94 L213.07 674.83 L213.41 675.06 L213.75 675.50 L214.09 676.23 L214.43 675.69 L214.77 674.66 L215.11 675.29 L215.45 673.94 L215.79 674.89 L216.13 676.02 L216.47 676.15 L216.81 676.50 L217.16 676.53 L217.50 676.51 L217.84 676.10 L218.18 676.63 L218.52 676.73 L218.86 677.29 L219.20 677.50 L219.54 677.39 L219.88 676.98 L220.22 678.05 L220.56 677.96 L220.90 677.41 L221.24 677.63 L221.58 677.86 L221.92 677.69 L222.26 677.53 L222.60 677.86 L222.94 677.75 L223.28 677.81 L223.62 676.68 L223.96 676.90 L224.30 678.34 L224.64 677.27 L224.98 678.15 L225.32 678.20 L225.67 678.26 L226.01 678.00 L226.35 678.72 L226.69 678.52 L227.03 678.21 L227.37 677.29 L227.71 677.96 L228.05 678.05 L228.39 677.92 L228.73 678.37 L229.07 676.97 L229.41 677.70 L229.75 677.91 L230.09 678.12 L230.43 678.89 L230.77 678.95 L231.11 679.68 L231.45 679.14 L231.79 678.68 L232.13 679.47 L232.47 680.05 L232.81 679.33 L233.15 679.21 L233.49 679.10 L233.83 680.06 L234.18 679.20 L234.52 678.63 L234.86 679.06 L235.20 678.58 L235.54 679.15 L235.88 678.89 L236.22 679.40 L236.56 679.72 L236.90 679.95 L237.24 679.51 L237.58 680.03 L237.92 679.63 L238.26 679.20 L238.60 680.09 L238.94 679.84 L239.28 680.01 L239.62 679.03 L239.96 680.14 L240.30 680.20 L240.64 680.24 L240.98 680.59 L241.32 680.11 L241.66 681.11 L242.00 680.63 L242.34 680.61 L242.69 679.53 L243.03 679.78 L243.37 681.13 L243.71 680.67 L244.05 680.96 L244.39 680.46 L244.73 680.10 L245.07 680.61 L245.41 680.10 L245.75 679.96 L246.09 679.54 L246.43 680.42 L246.77 680.50 L247.11 680.71 L247.45 679.76 L247.79 679.82 L248.13 680.89 L248.47 680.45 L248.81 681.01 L249.15 681.06 L249.49 680.44 L249.83 681.32 L250.17 682.01 L250.51 682.10 L250.85 682.08 L251.20 682.36 L251.54 681.73 L251.88 681.95 L252.22 680.61 L252.56 681.24 L252.90 681.71 L253.24 682.35 L253.58 682.81 L253.92 683.62 L254.26 682.81 L254.60 682.89 L254.94 683.73 L255.28 683.53 L255.62 683.25 L255.96 684.25 L256.30 683.69 L256.64 683.73 L256.98 683.70 L257.32 683.66 L257.66 684.12 L258.00 683.80 L258.34 685.15 L258.68 684.42 L259.02 684.27 L259.36 684.14 L259.71 684.60 L260.05 684.94 L260.39 684.73 L260.73 684.27 L261.07 684.68 L261.41 684.19 L261.75 685.44 L262.09 685.22 L262.43 685.11 L262.77 685.20 L263.11 684.95 L263.45 685.17 L263.79 685.65 L264.13 685.33 L264.47 685.64 L264.81 685.56 L265.15 685.63 L265.49 685.72 L265.83 686.06 L266.17 685.62 L266.51 686.05 L266.85 685.56 L267.19 685.70 L267.53 685.71 L267.87 686.36 L268.22 685.99 L268.56 686.62 L268.90 685.84 L269.24 686.42 L269.58 685.91 L269.92 686.82 L270.26 686.20 L270.60 686.69 L270.94 686.32 L271.28 686.35 L271.62 686.78 L271.96 686.11 L272.30 686.36 L272.64 687.43 L272.98 686.59 L273.32 687.16 L273.66 686.03 L274.00 685.98 L274.34 686.62 L274.68 687.20 L275.02 686.69 L275.36 685.11 L275.70 686.28 L276.04 685.91 L276.38 685.24 L276.73 685.88 L277.07 685.95 L277.41 687.10 L277.75 687.48 L278.09 687.19 L278.43 687.44 L278.77 687.08 L279.11 684.99 L279.45 684.88 L279.79 685.40 L280.13 686.18 L280.47 686.65 L280.81 687.00 L281.15 687.96 L281.49 688.04 L281.83 688.80 L282.17 688.18 L282.51 688.29 L282.85 688.05 L283.19 686.37 L283.53 687.44 L283.87 687.26 L284.21 687.49 L284.55 687.27 L284.89 688.12 L285.24 688.22 L285.58 688.22 L285.92 687.95 L286.26 688.93 L286.60 688.85 L286.94 687.02 L287.28 688.00 L287.62 688.79 L287.96 689.28 L288.30 688.90 L288.64 687.92 L288.98 689.38 L289.32 689.21 L289.66 689.20 L290.00 687.23 L290.34 687.72 L290.68 688.68 L291.02 688.28 L291.36 687.95 L291.70 687.51 L292.04 687.74 L292.38 686.06 L292.72 687.69 L293.06 687.47 L293.40 688.29 L293.75 688.78 L294.09 686.87 L294.43 688.10 L294.77 687.91 L295.11 687.71 L295.45 688.79 L295.79 689.16 L296.13 689.50 L296.47 690.03 L296.81 689.34 L297.15 689.34 L297.49 690.37 L297.83 688.69 L298.17 689.42 L298.51 688.94 L298.85 687.80 L299.19 688.69 L299.53 688.94 L299.87 689.89 L300.21 689.68 L300.55 688.43 L300.89 677.49 L301.23 682.10 L301.57 684.82 L301.91 686.87 L302.26 688.19 L302.60 688.73 L302.94 690.00 L303.28 689.83 L303.62 691.33 L303.96 691.31 L304.30 691.18 L304.64 690.03 L304.98 690.62 L305.32 691.71 L305.66 691.66 L306.00 691.92 L306.34 692.38 L306.68 692.75 L307.02 692.72 L307.36 692.60 L307.70 692.91 L308.04 693.18 L308.38 692.90 L308.72 693.46 L309.06 692.25 L309.40 693.12 L309.74 693.03 L310.08 693.35 L310.42 693.36 L310.77 694.37 L311.11 693.79 L311.45 694.79 L311.79 692.78 L312.13 693.73 L312.47 693.28 L312.81 693.47 L313.15 694.00 L313.49 694.77 L313.83 694.20 L314.17 694.58 L314.51 693.60 L314.85 693.81 L315.19 694.21 L315.53 695.14 L315.87 695.11 L316.21 694.58 L316.55 695.35 L316.89 695.56 L317.23 695.60 L317.57 695.93 L317.91 695.05 L318.25 695.32 L318.59 695.35 L318.93 695.89 L319.28 696.40 L319.62 695.82 L319.96 696.18 L320.30 696.41 L320.64 695.74 L320.98 695.01 L321.32 694.64 L321.66 695.94 L322.00 696.23 L322.34 695.87 L322.68 696.08 L323.02 697.16 L323.36 696.30 L323.70 697.19 L324.04 696.71 L324.38 696.53 L324.72 697.70 L325.06 697.30 L325.40 696.83 L325.74 697.21 L326.08 697.10 L326.42 697.08 L326.76 697.47 L327.10 697.96 L327.44 696.95 L327.79 696.96 L328.13 696.44 L328.47 696.43 L328.81 696.37 L329.15 696.76 L329.49 697.27 L329.83 698.11 L330.17 698.22 L330.51 697.94 L330.85 697.70 L331.19 696.39 L331.53 698.11 L331.87 697.66 L332.21 697.66 L332.55 696.75 L332.89 697.49 L333.23 698.30 L333.57 698.61 L333.91 697.73 L334.25 699.58 L334.59 699.06 L334.93 698.74 L335.27 698.64 L335.61 697.52 L335.95 697.93 L336.30 698.70 L336.64 698.68 L336.98 699.32 L337.32 699.68 L337.66 700.09 L338.00 699.80 L338.34 699.44 L338.68 699.16 L339.02 699.94 L339.36 699.31 L339.70 700.02 L340.04 699.47 L340.38 698.40 L340.72 699.38 L341.06 699.36 L341.40 697.63 L341.74 699.15 L342.08 699.44 L342.42 700.25 L342.76 700.25 L343.10 701.51 L343.44 700.59 L343.78 700.19 L344.12 700.60 L344.46 701.07 L344.81 701.97 L345.15 701.51 L345.49 700.30 L345.83 700.87 L346.17 700.69 L346.51 700.81 L346.85 701.89 L347.19 701.85 L347.53 701.54 L347.87 701.68 L348.21 702.22 L348.55 702.41 L348.89 701.93 L349.23 701.60 L349.57 702.23 L349.91 701.87 L350.25 701.66 L350.59 702.44 L350.93 702.72 L351.27 703.11 L351.61 702.68 L351.95 703.03 L352.29 702.52 L352.63 703.24 L352.97 702.48 L353.32 703.03 L353.66 703.03 L354.00 702.53 L354.34 702.98 L354.68 703.93 L355.02 702.98 L355.36 702.83 L355.70 703.40 L356.04 703.62 L356.38 703.90 L356.72 703.58 L357.06 703.49 L357.40 703.60 L357.74 704.00 L358.08 703.66 L358.42 703.95 L358.76 703.08 L359.10 703.64 L359.44 703.75 L359.78 704.19 L360.12 703.99 L360.46 703.91 L360.80 704.25 L361.14 703.92 L361.48 705.06 L361.83 703.54 L362.17 703.94 L362.51 704.60 L362.85 704.21 L363.19 704.05 L363.53 704.32 L363.87 703.78 L364.21 704.01 L364.55 704.03 L364.89 704.64 L365.23 703.71 L365.57 704.49 L365.91 703.78 L366.25 703.96 L366.59 703.27 L366.93 704.19 L367.27 703.24 L367.61 704.26 L367.95 704.40 L368.29 704.19 L368.63 703.65 L368.97 703.92 L369.31 702.86 L369.65 702.70 L369.99 703.44 L370.34 703.60 L370.68 703.63 L371.02 704.38 L371.36 704.09 L371.70 704.01 L372.04 704.12 L372.38 703.67 L372.72 704.02 L373.06 703.36 L373.40 703.06 L373.74 703.98 L374.08 704.46"/>
<path stroke="#2ca02c" d="M102.10 442.20 L102.44 458.24 L102.78 472.21 L103.12 483.51 L103.46 491.73 L103.80 500.99 L104.14 511.09 L104.48 521.01 L104.82 530.36 L105.16 538.70 L105.50 546.38 L105.84 554.44 L106.18 558.26 L106.53 563.36 L106.87 566.10 L107.21 568.85 L107.55 571.71 L107.89 575.74 L108.23 577.59 L108.57 582.76 L108.91 586.41 L109.25 590.62 L109.59 593.74 L109.93 598.24 L110.27 600.22 L110.61 602.73 L110.95 605.62 L111.29 607.47 L111.63 610.31 L111.97 611.88 L112.31 614.54 L112.65 616.01 L112.99 617.63 L113.33 619.80 L113.67 621.16 L114.01 623.34 L114.35 624.57 L114.69 626.01 L115.04 627.11 L115.38 628.15 L115.72 629.42 L116.06 630.86 L116.40 631.52 L116.74 632.36 L117.08 633.27 L117.42 634.46 L117.76 635.20 L118.10 636.92 L118.44 636.76 L118.78 637.54 L119.12 638.30 L119.46 637.98 L119.80 639.06 L120.14 639.80 L120.48 640.10 L120.82 641.27 L121.16 642.54 L121.50 642.65 L121.84 643.59 L122.18 643.98 L122.52 644.60 L122.86 643.79 L123.20 644.25 L123.55 646.37 L123.89 646.38 L124.23 646.78 L124.57 647.22 L124.91 647.94 L125.25 648.51 L125.59 649.14 L125.93 649.37 L126.27 649.93 L126.61 649.64 L126.95 650.30 L127.29 650.59 L127.63 651.33 L127.97 651.77 L128.31 651.49 L128.65 652.25 L128.99 652.88 L129.33 653.27 L129.67 652.93 L130.01 653.79 L130.35 654.02 L130.69 654.07 L131.03 655.13 L131.37 654.33 L131.71 654.45 L132.06 655.19 L132.40 655.53 L132.74 655.73 L133.08 656.54 L133.42 656.82 L133.76 656.88 L134.10 656.97 L134.44 656.96 L134.78 656.90 L135.12 658.23 L135.46 657.29 L135.80 657.62 L136.14 655.97 L136.48 656.93 L136.82 657.47 L137.16 658.33 L137.50 657.96 L137.84 659.24 L138.18 659.25 L138.52 659.52 L138.86 659.62 L139.20 660.21 L139.54 660.40 L139.88 661.29 L140.22 661.22 L140.57 660.63 L140.91 661.70 L141.25 660.72 L141.59 662.26 L141.93 661.39 L142.27 662.24 L142.61 662.73 L142.95 662.68 L143.29 662.54 L143.63 663.51 L143.97 662.74 L144.31 663.05 L144.65 664.17 L144.99 663.64 L145.33 664.19 L145.67 664.54 L146.01 664.29 L146.35 663.80 L146.69 664.35 L147.03 664.81 L147.37 665.45 L147.71 665.59 L148.05 665.36 L148.39 664.38 L148.73 664.48 L149.08 664.95 L149.42 665.30 L149.76 666.14 L150.10 666.10 L150.44 666.21 L150.78 665.97 L151.12 666.71 L151.46 666.85 L151.80 667.25 L152.14 667.53 L152.48 668.10 L152.82 668.32 L153.16 667.80 L153.50 668.58 L153.84 668.38 L154.18 668.88 L154.52 669.38 L154.86 669.74 L155.20 669.54 L155.54 669.32 L155.88 669.54 L156.22 669.99 L156.56 669.66 L156.90 670.13 L157.24 670.51 L157.59 670.78 L157.93 670.55 L158.27 670.93 L158.61 671.42 L158.95 671.25 L159.29 670.76 L159.63 671.56 L159.97 671.74 L160.31 671.69 L160.65 672.01 L160.99 671.69 L161.33 672.74 L161.67 672.64 L162.01 672.50 L162.35 672.92 L162.69 673.06 L163.03 672.91 L163.37 672.48 L163.71 672.54 L164.05 674.04 L164.39 671.82 L164.73 672.98 L165.07 673.83 L165.41 673.90 L165.75 674.49 L166.10 674.13 L166.44 674.78 L166.78 673.94 L167.12 675.14 L167.46 675.14 L167.80 673.90 L168.14 674.50 L168.48 675.00 L168.82 675.62 L169.16 676.01 L169.50 675.70 L169.84 676.62 L170.18 676.22 L170.52 676.80 L170.86 676.82 L171.20 676.98 L171.54 675.40 L171.88 674.91 L172.22 675.62 L172.56 676.23 L172.90 677.47 L173.24 677.78 L173.58 678.15 L173.92 678.62 L174.26 678.25 L174.61 679.14 L174.95 678.73 L175.29 679.41 L175.63 679.43 L175.97 679.77 L176.31 680.10 L176.65 680.06 L176.99 679.94 L177.33 680.72 L177.67 680.97 L178.01 680.98 L178.35 681.27 L178.69 680.51 L179.03 681.18 L179.37 681.32 L179.71 680.88 L180.05 681.57 L180.39 681.76 L180.73 681.47 L181.07 681.88 L181.41 682.35 L181.75 682.69 L182.09 682.88 L182.43 682.40 L182.77 682.35 L183.12 681.52 L183.46 682.19 L183.80 682.44 L184.14 682.92 L184.48 683.51 L184.82 683.75 L185.16 683.80 L185.50 683.59 L185.84 683.99 L186.18 684.50 L186.52 684.77 L186.86 684.99 L187.20 684.44 L187.54 684.78 L187.88 684.63 L188.22 683.94 L188.56 683.31 L188.90 683.64 L189.24 685.11 L189.58 685.13 L189.92 684.82 L190.26 685.40 L190.60 685.81 L190.94 686.49 L191.28 686.38 L191.63 686.80 L191.97 686.60 L192.31 686.85 L192.65 686.17 L192.99 686.31 L193.33 686.47 L193.67 687.13 L194.01 686.89 L194.35 687.67 L194.69 687.25 L195.03 687.12 L195.37 687.39 L195.71 685.55 L196.05 686.48 L196.39 686.61 L196.73 687.13 L197.07 687.56 L197.41 687.59 L197.75 688.50 L198.09 688.03 L198.43 688.00 L198.77 688.88 L199.11 688.77 L199.45 687.91 L199.79 688.55 L200.14 688.88 L200.48 688.51 L200.82 688.84 L201.16 689.01 L201.50 688.48 L201.84 688.92 L202.18 689.67 L202.52 690.06 L202.86 689.72 L203.20 689.86 L203.54 690.21 L203.88 690.22 L204.22 690.47 L204.56 690.16 L204.90 690.58 L205.24 690.88 L205.58 691.05 L205.92 690.49 L206.26 691.39 L206.60 691.27 L206.94 691.25 L207.28 690.82 L207.62 691.56 L207.96 691.01 L208.30 689.81 L208.65 691.35 L208.99 691.79 L209.33 692.16 L209.67 692.47 L210.01 692.64 L210.35 693.20 L210.69 693.28 L211.03 693.72 L211.37 694.17 L211.71 693.75 L212.05 693.84 L212.39 693.97 L212.73 693.39 L213.07 693.66 L213.41 693.61 L213.75 693.31 L214.09 693.63 L214.43 692.85 L214.77 692.71 L215.11 693.46 L215.45 694.48 L215.79 695.00 L216.13 694.33 L216.47 695.29 L216.81 695.25 L217.16 694.84 L217.50 695.11 L217.84 695.37 L218.18 695.84 L218.52 696.02 L218.86 696.10 L219.20 696.30 L219.54 696.44 L219.88 696.76 L220.22 696.89 L220.56 696.26 L220.90 696.06 L221.24 696.41 L221.58 696.71 L221.92 697.60 L222.26 697.47 L222.60 697.22 L222.94 697.21 L223.28 697.25 L223.62 697.73 L223.96 697.38 L224.30 697.78 L224.64 697.55 L224.98 697.40 L225.32 698.00 L225.67 697.10 L226.01 698.10 L226.35 698.39 L226.69 698.24 L227.03 699.21 L227.37 698.94 L227.71 698.88 L228.05 699.14 L228.39 699.65 L228.73 698.81 L229.07 698.28 L229.41 698.42 L229.75 699.20 L230.09 699.29 L230.43 699.71 L230.77 700.21 L231.11 700.19 L231.45 700.54 L231.79 700.75 L232.13 700.81 L232.47 700.90 L232.81 700.99 L233.15 701.31 L233.49 701.61 L233.83 701.83 L234.18 701.33 L234.52 700.76 L234.86 701.44 L235.20 701.74 L235.54 702.17 L235.88 702.30 L236.22 701.65 L236.56 702.36 L236.90 701.86 L237.24 702.39 L237.58 702.37 L237.92 702.60 L238.26 703.43 L238.60 702.85 L238.94 702.97 L239.28 703.23 L239.62 703.40 L239.96 702.41 L240.30 702.25 L240.64 701.90 L240.98 701.69 L241.32 702.66 L241.66 703.27 L242.00 704.26 L242.34 703.91 L242.69 703.53 L243.03 703.25 L243.37 703.36 L243.71 704.13 L244.05 704.29 L244.39 703.49 L244.73 704.36 L245.07 703.74 L245.41 704.36 L245.75 704.38 L246.09 704.64 L246.43 704.41 L246.77 705.36 L247.11 704.83 L247.45 705.19 L247.79 705.69 L248.13 705.91 L248.47 705.84 L248.81 704.80 L249.15 705.49 L249.49 705.49 L249.83 705.18 L250.17 705.32 L250.51 705.53 L250.85 706.01 L251.20 705.76 L251.54 705.52 L251.88 705.30 L252.22 706.05 L252.56 705.58 L252.90 706.47 L253.24 706.17 L253.58 706.25 L253.92 706.55 L254.26 706.42 L254.60 706.77 L254.94 705.89 L255.28 705.86 L255.62 707.17 L255.96 706.45 L256.30 705.77 L256.64 707.33 L256.98 706.44 L257.32 707.67 L257.66 707.68 L258.00 707.45 L258.34 707.24 L258.68 707.02 L259.02 707.68 L259.36 707.29 L259.71 707.82 L260.05 707.37 L260.39 706.91 L260.73 706.89 L261.07 707.30 L261.41 707.10 L261.75 706.44 L262.09 706.39 L262.43 707.10 L262.77 706.76 L263.11 707.39 L263.45 706.91 L263.79 707.92 L264.13 708.31 L264.47 708.11 L264.81 707.82 L265.15 707.04 L265.49 707.92 L265.83 708.18 L266.17 707.72 L266.51 708.16 L266.85 707.90 L267.19 705.28 L267.53 706.79 L267.87 707.24 L268.22 708.31 L268.56 707.77 L268.90 708.61 L269.24 708.66 L269.58 708.15 L269.92 708.57 L270.26 708.69 L270.60 709.35 L270.94 708.99 L271.28 709.14 L271.62 709.15 L271.96 710.03 L272.30 709.19 L272.64 709.97 L272.98 709.33 L273.32 708.91 L273.66 709.09 L274.00 708.30 L274.34 708.92 L274.68 708.81 L275.02 709.17 L275.36 710.23 L275.70 709.79 L276.04 709.91 L276.38 710.46 L276.73 709.34 L277.07 709.83 L277.41 707.97 L277.75 707.42 L278.09 708.19 L278.43 709.09 L278.77 709.82 L279.11 709.83 L279.45 708.19 L279.79 708.19 L280.13 708.46 L280.47 708.51 L280.81 710.24 L281.15 710.86 L281.49 710.57 L281.83 710.38 L282.17 710.73 L282.51 711.22 L282.85 710.53 L283.19 711.01 L283.53 711.26 L283.87 710.79 L284.21 711.87 L284.55 711.52 L284.89 711.85 L285.24 711.02 L285.58 711.50 L285.92 711.98 L286.26 711.69 L286.60 712.01 L286.94 711.05 L287.28 711.68 L287.62 711.11 L287.96 711.64 L288.30 711.91 L288.64 711.61 L288.98 711.38 L289.32 712.01 L289.66 712.21 L290.00 712.05 L290.34 712.41 L290.68 712.58 L291.02 712.67 L291.36 712.20 L291.70 712.53 L292.04 712.21 L292.38 712.43 L292.72 712.86 L293.06 712.51 L293.40 712.41 L293.75 712.24 L294.09 712.73 L294.43 713.13 L294.77 712.72 L295.11 711.03 L295.45 711.79 L295.79 712.18 L296.13 712.62 L296.47 712.11 L296.81 712.58 L297.15 712.35 L297.49 712.47 L297.83 713.20 L298.17 713.08 L298.51 713.01 L298.85 713.45 L299.19 712.82 L299.53 710.92 L299.87 710.73 L300.21 711.24 L300.55 711.95 L300.89 712.48 L301.23 712.47 L301.57 713.16 L301.91 712.99 L302.26 712.69 L302.60 713.22 L302.94 713.60 L303.28 713.53 L303.62 713.59 L303.96 713.28 L304.30 713.59 L304.64 713.94 L304.98 713.93 L305.32 713.24 L305.66 711.94 L306.00 712.27 L306.34 713.22 L306.68 712.93 L307.02 713.29 L307.36 713.23 L307.70 713.08 L308.04 712.07 L308.38 712.88 L308.72 712.75 L309.06 713.42 L309.40 712.21 L309.74 712.12 L310.08 712.62 L310.42 713.27 L310.77 713.07 L311.11 713.41 L311.45 713.64 L311.79 714.15 L312.13 713.48 L312.47 714.00 L312.81 714.29 L313.15 714.17 L313.49 714.17 L313.83 714.98 L314.17 714.14 L314.51 714.53 L314.85 714.53 L315.19 714.61 L315.53 714.46 L315.87 715.09 L316.21 714.81 L316.55 715.28 L316.89 714.36 L317.23 714.88 L317.57 714.27 L317.91 713.62 L318.25 714.42 L318.59 714.17 L318.93 715.17 L319.28 714.77 L319.62 714.78 L319.96 715.35 L320.30 715.55 L320.64 715.41 L320.98 715.51 L321.32 715.44 L321.66 715.33 L322.00 714.83 L322.34 715.45 L322.68 715.38 L323.02 715.82 L323.36 715.41 L323.70 716.37 L324.04 715.95 L324.38 715.65 L324.72 716.03 L325.06 715.77 L325.40 716.30 L325.74 715.78 L326.08 716.42 L326.42 715.63 L326.76 716.05 L327.10 716.02 L327.44 715.78 L327.79 716.00 L328.13 716.14 L328.47 715.77 L328.81 715.91 L329.15 716.37 L329.49 715.99 L329.83 716.78 L330.17 716.80 L330.51 716.16 L330.85 716.45 L331.19 716.53 L331.53 716.61 L331.87 716.23 L332.21 716.66 L332.55 716.27 L332.89 716.42 L333.23 716.85 L333.57 716.27 L333.91 715.11 L334.25 714.83 L334.59 715.66 L334.93 715.67 L335.27 715.84 L335.61 716.37 L335.95 716.13 L336.30 717.20 L336.64 716.36 L336.98 716.84 L337.32 716.13 L337.66 716.31 L338.00 716.77 L338.34 716.73 L338.68 716.70 L339.02 716.39 L339.36 716.71 L339.70 716.63 L340.04 716.28 L340.38 717.15 L340.72 716.59 L341.06 716.76 L341.40 717.14 L341.74 717.09 L342.08 717.74 L342.42 716.89 L342.76 717.40 L343.10 716.92 L343.44 716.98 L343.78 717.33 L344.12 717.20 L344.46 716.77 L344.81 716.56 L345.15 716.79 L345.49 717.38 L345.83 716.61 L346.17 716.74 L346.51 715.56 L346.85 716.02 L347.19 716.22 L347.53 716.93 L347.87 716.55 L348.21 717.61 L348.55 716.22 L348.89 716.50 L349.23 717.24 L349.57 717.42 L349.91 717.35 L350.25 717.06 L350.59 717.23 L350.93 717.31 L351.27 717.01 L351.61 717.04 L351.95 716.96 L352.29 717.71 L352.63 717.51 L352.97 717.26 L353.32 717.30 L353.66 717.29 L354.00 717.35 L354.34 717.55 L354.68 717.36 L355.02 717.33 L355.36 717.63 L355.70 717.47 L356.04 717.54 L356.38 717.57 L356.72 717.50 L357.06 717.21 L357.40 717.48 L357.74 717.82 L358.08 716.42 L358.42 715.77 L358.76 716.04 L359.10 714.98 L359.44 716.22 L359.78 716.18 L360.12 717.03 L360.46 717.20 L360.80 717.40 L361.14 717.54 L361.48 717.58 L361.83 717.74 L362.17 718.05 L362.51 717.06 L362.85 717.89 L363.19 718.21 L363.53 717.66 L363.87 717.89 L364.21 718.22 L364.55 717.41 L364.89 718.10 L365.23 717.62 L365.57 718.07 L365.91 717.98 L366.25 717.07 L366.59 716.96 L366.93 717.53 L367.27 717.51 L367.61 717.98 L367.95 717.87 L368.29 717.68 L368.63 717.43 L368.97 717.32 L369.31 717.95 L369.65 718.76 L369.99 718.75 L370.34 719.09 L370.68 718.64 L371.02 719.17 L371.36 718.96 L371.70 718.81 L372.04 719.70 L372.38 719.31 L372.72 719.81 L373.06 719.59 L373.40 720.20 L373.74 720.34 L374.08 719.94"/>
</g>
<rect x="88.50" y="412.60" width="299.20" height="318.15" fill="none" stroke="#262626" stroke-width="1.25"/>
<path d="M85.10 515.45H88.50M86.50 483.04H88.50M86.50 464.09H88.50M86.50 450.64H88.50M86.50 440.21H88.50M86.50 431.68H88.50M86.50 424.48H88.50M86.50 418.23H88.50M86.50 412.73H88.50M85.10 623.10H88.50M86.50 590.69H88.50M86.50 571.74H88.50M86.50 558.29H88.50M86.50 547.86H88.50M86.50 539.33H88.50M86.50 532.13H88.50M86.50 525.88H88.50M86.50 520.38H88.50M85.10 730.75H88.50M86.50 698.34H88.50M86.50 679.39H88.50M86.50 665.94H88.50M86.50 655.51H88.50M86.50 646.98H88.50M86.50 639.78H88.50M86.50 633.53H88.50M86.50 628.03H88.50M102.10 730.75V733.75M187.20 730.75V733.75M272.30 730.75V733.75M357.40 730.75V733.75" stroke="#262626" stroke-width="1.1" fill="none"/>
<text transform="translate(29.50 524.00) scale(0.9700 1)" font-size="23.90" x="0.63 15.52" y="0">10</text>
<text transform="translate(58.99 517.07) scale(1.1576 1)" font-size="17.54">−</text>
<text transform="translate(72.08 516.10) scale(0.9531 1)" font-size="16.73">1</text>
<text transform="translate(29.50 631.40) scale(0.9700 1)" font-size="23.90" x="0.63 15.52" y="0">10</text>
<text transform="translate(58.99 624.47) scale(1.1576 1)" font-size="17.54">−</text>
<text transform="translate(71.86 623.50) scale(0.9613 1)" font-size="16.82">2</text>
<text transform="translate(29.50 739.20) scale(0.9700 1)" font-size="23.90" x="0.63 15.52" y="0">10</text>
<text transform="translate(58.99 732.27) scale(1.1576 1)" font-size="17.54">−</text>
<text transform="translate(72.07 731.38) scale(0.9481 1)" font-size="16.93">3</text>
<text transform="translate(95.34 754.80) scale(0.9906 1)" font-size="23.99" x="0.58" y="0">0</text>
<text transform="translate(166.13 754.80) scale(0.9595 1)" font-size="23.99" x="0.49 15.64 30.66" y="0">250</text>
<text transform="translate(251.23 754.80) scale(0.9906 1)" font-size="23.99" x="0.49 15.04 29.49" y="0">500</text>
<text transform="translate(336.33 754.80) scale(0.9621 1)" font-size="23.99" x="0.72 15.58 30.56" y="0">750</text>
<g clip-path="url(#c4)" fill="none" stroke-width="1.80" stroke-linejoin="round" stroke-linecap="square">
<path stroke="#1f77b4" d="M460.90 454.00 L461.24 462.80 L461.58 469.67 L461.92 474.92 L462.26 477.98 L462.60 480.06 L462.94 481.70 L463.28 482.95 L463.62 484.11 L463.96 485.34 L464.30 487.12 L464.64 490.34 L464.98 496.75 L465.33 504.82 L465.67 512.25 L466.01 519.55 L466.35 527.98 L466.69 534.40 L467.03 540.71 L467.37 544.68 L467.71 547.14 L468.05 549.85 L468.39 552.41 L468.73 555.16 L469.07 556.93 L469.41 558.31 L469.75 561.05 L470.09 563.74 L470.43 565.75 L470.77 567.54 L471.11 568.91 L471.45 569.07 L471.79 571.98 L472.13 572.73 L472.47 575.32 L472.81 577.81 L473.15 577.58 L473.49 579.90 L473.84 580.70 L474.18 583.09 L474.52 585.42 L474.86 587.70 L475.20 590.48 L475.54 592.41 L475.88 593.89 L476.22 595.97 L476.56 597.48 L476.90 598.64 L477.24 601.07 L477.58 602.29 L477.92 603.20 L478.26 605.27 L478.60 606.22 L478.94 607.46 L479.28 609.08 L479.62 609.15 L479.96 610.65 L480.30 612.01 L480.64 612.82 L480.98 611.92 L481.32 613.36 L481.66 614.75 L482.00 616.40 L482.35 617.87 L482.69 618.06 L483.03 618.62 L483.37 619.29 L483.71 620.40 L484.05 621.21 L484.39 622.71 L484.73 623.50 L485.07 623.10 L485.41 624.17 L485.75 625.35 L486.09 625.67 L486.43 625.54 L486.77 626.91 L487.11 627.33 L487.45 628.50 L487.79 628.80 L488.13 629.50 L488.47 630.27 L488.81 630.14 L489.15 630.59 L489.49 631.04 L489.83 632.68 L490.17 632.95 L490.51 632.39 L490.86 633.02 L491.20 634.07 L491.54 633.71 L491.88 632.69 L492.22 634.06 L492.56 634.52 L492.90 635.15 L493.24 635.61 L493.58 636.19 L493.92 636.23 L494.26 636.42 L494.60 636.96 L494.94 636.93 L495.28 636.72 L495.62 637.51 L495.96 637.69 L496.30 638.83 L496.64 639.48 L496.98 637.61 L497.32 639.41 L497.66 639.76 L498.00 640.54 L498.34 640.58 L498.68 642.32 L499.02 642.05 L499.37 642.62 L499.71 642.36 L500.05 642.26 L500.39 643.62 L500.73 643.13 L501.07 644.35 L501.41 643.90 L501.75 644.88 L502.09 644.20 L502.43 644.04 L502.77 645.28 L503.11 645.23 L503.45 645.49 L503.79 646.10 L504.13 645.25 L504.47 643.65 L504.81 644.68 L505.15 645.18 L505.49 645.66 L505.83 646.28 L506.17 646.75 L506.51 647.24 L506.85 647.20 L507.19 647.87 L507.53 648.44 L507.88 648.27 L508.22 648.73 L508.56 648.40 L508.90 649.07 L509.24 649.34 L509.58 649.08 L509.92 648.89 L510.26 649.50 L510.60 649.14 L510.94 650.11 L511.28 649.67 L511.62 650.49 L511.96 647.59 L512.30 649.32 L512.64 649.85 L512.98 650.04 L513.32 650.50 L513.66 651.11 L514.00 652.13 L514.34 651.72 L514.68 652.52 L515.02 652.24 L515.36 652.41 L515.70 650.86 L516.04 652.51 L516.39 653.19 L516.73 652.85 L517.07 653.35 L517.41 653.52 L517.75 654.93 L518.09 653.94 L518.43 654.26 L518.77 653.69 L519.11 654.33 L519.45 655.16 L519.79 654.37 L520.13 652.22 L520.47 652.69 L520.81 653.89 L521.15 654.75 L521.49 655.39 L521.83 655.28 L522.17 657.15 L522.51 656.25 L522.85 657.01 L523.19 656.64 L523.53 657.17 L523.87 657.05 L524.21 657.97 L524.55 657.93 L524.90 657.89 L525.24 657.67 L525.58 658.79 L525.92 658.75 L526.26 657.22 L526.60 657.69 L526.94 658.47 L527.28 659.08 L527.62 659.32 L527.96 659.99 L528.30 659.61 L528.64 659.97 L528.98 659.47 L529.32 661.07 L529.66 660.09 L530.00 660.63 L530.34 660.71 L530.68 659.29 L531.02 660.04 L531.36 660.69 L531.70 660.69 L532.04 660.86 L532.38 661.08 L532.72 661.12 L533.06 661.50 L533.41 661.83 L533.75 661.76 L534.09 662.23 L534.43 661.71 L534.77 659.99 L535.11 661.55 L535.45 662.02 L535.79 662.72 L536.13 662.72 L536.47 663.09 L536.81 663.20 L537.15 663.32 L537.49 662.85 L537.83 663.21 L538.17 663.32 L538.51 664.25 L538.85 663.78 L539.19 664.09 L539.53 664.07 L539.87 663.53 L540.21 665.01 L540.55 664.96 L540.89 665.34 L541.23 664.46 L541.57 665.24 L541.92 665.31 L542.26 664.59 L542.60 664.73 L542.94 663.08 L543.28 664.27 L543.62 664.13 L543.96 664.96 L544.30 665.42 L544.64 665.40 L544.98 666.28 L545.32 666.99 L545.66 666.64 L546.00 667.06 L546.34 667.54 L546.68 667.32 L547.02 667.08 L547.36 666.59 L547.70 667.57 L548.04 667.22 L548.38 667.29 L548.72 667.45 L549.06 667.71 L549.40 667.14 L549.74 668.06 L550.08 668.01 L550.43 668.62 L550.77 668.32 L551.11 668.35 L551.45 667.88 L551.79 667.58 L552.13 667.75 L552.47 666.82 L552.81 667.86 L553.15 669.06 L553.49 668.59 L553.83 669.27 L554.17 668.96 L554.51 669.00 L554.85 669.47 L555.19 669.22 L555.53 669.99 L555.87 669.73 L556.21 669.91 L556.55 670.39 L556.89 670.93 L557.23 670.19 L557.57 669.72 L557.91 670.41 L558.25 670.61 L558.59 670.90 L558.94 670.57 L559.28 670.24 L559.62 671.16 L559.96 671.38 L560.30 671.01 L560.64 671.32 L560.98 671.46 L561.32 672.44 L561.66 671.27 L562.00 671.43 L562.34 671.65 L562.68 672.05 L563.02 671.71 L563.36 671.99 L563.70 671.59 L564.04 672.46 L564.38 671.86 L564.72 671.80 L565.06 670.98 L565.40 670.48 L565.74 671.23 L566.08 672.05 L566.42 672.06 L566.76 673.28 L567.10 672.95 L567.45 672.92 L567.79 673.32 L568.13 672.54 L568.47 672.31 L568.81 670.43 L569.15 670.46 L569.49 672.26 L569.83 671.62 L570.17 670.19 L570.51 671.34 L570.85 672.07 L571.19 670.53 L571.53 670.58 L571.87 666.24 L572.21 668.64 L572.55 670.29 L572.89 670.46 L573.23 672.28 L573.57 672.11 L573.91 673.46 L574.25 673.52 L574.59 674.15 L574.93 673.86 L575.27 673.74 L575.61 674.88 L575.96 674.58 L576.30 673.45 L576.64 674.69 L576.98 674.07 L577.32 673.97 L577.66 674.35 L578.00 674.08 L578.34 675.25 L578.68 674.76 L579.02 675.74 L579.36 675.39 L579.70 675.49 L580.04 675.46 L580.38 676.10 L580.72 674.40 L581.06 674.74 L581.40 674.95 L581.74 675.50 L582.08 675.70 L582.42 675.49 L582.76 675.65 L583.10 674.68 L583.44 674.34 L583.78 674.52 L584.12 675.20 L584.47 675.39 L584.81 675.99 L585.15 675.67 L585.49 675.20 L585.83 675.50 L586.17 675.50 L586.51 675.63 L586.85 676.17 L587.19 676.27 L587.53 676.47 L587.87 676.68 L588.21 674.89 L588.55 673.14 L588.89 674.62 L589.23 675.89 L589.57 675.76 L589.91 675.32 L590.25 676.84 L590.59 676.40 L590.93 674.95 L591.27 675.49 L591.61 675.95 L591.95 675.88 L592.29 676.08 L592.63 676.52 L592.98 676.46 L593.32 677.12 L593.66 676.58 L594.00 677.32 L594.34 676.55 L594.68 676.37 L595.02 676.04 L595.36 676.57 L595.70 676.99 L596.04 677.33 L596.38 675.39 L596.72 675.59 L597.06 675.59 L597.40 676.55 L597.74 676.26 L598.08 676.65 L598.42 676.87 L598.76 674.04 L599.10 675.04 L599.44 676.26 L599.78 676.50 L600.12 676.57 L600.46 676.34 L600.80 677.08 L601.14 676.75 L601.49 677.65 L601.83 677.93 L602.17 677.85 L602.51 678.67 L602.85 677.59 L603.19 678.31 L603.53 678.27 L603.87 677.89 L604.21 678.64 L604.55 678.74 L604.89 678.19 L605.23 678.24 L605.57 678.91 L605.91 678.62 L606.25 679.58 L606.59 679.40 L606.93 679.11 L607.27 679.42 L607.61 679.13 L607.95 679.75 L608.29 679.75 L608.63 680.13 L608.97 679.55 L609.31 680.57 L609.65 680.00 L610.00 680.65 L610.34 680.67 L610.68 680.57 L611.02 681.63 L611.36 681.38 L611.70 680.55 L612.04 681.32 L612.38 681.40 L612.72 681.21 L613.06 682.61 L613.40 681.45 L613.74 682.59 L614.08 680.68 L614.42 682.36 L614.76 681.99 L615.10 681.65 L615.44 682.95 L615.78 683.30 L616.12 682.97 L616.46 683.88 L616.80 682.39 L617.14 684.03 L617.48 684.19 L617.82 684.92 L618.16 683.99 L618.51 684.82 L618.85 684.52 L619.19 685.32 L619.53 685.30 L619.87 685.62 L620.21 685.03 L620.55 685.96 L620.89 686.12 L621.23 686.76 L621.57 686.20 L621.91 686.43 L622.25 686.92 L622.59 687.02 L622.93 685.95 L623.27 686.98 L623.61 687.57 L623.95 687.22 L624.29 686.75 L624.63 687.48 L624.97 687.73 L625.31 687.48 L625.65 688.02 L625.99 687.66 L626.33 688.10 L626.67 688.09 L627.02 687.61 L627.36 687.59 L627.70 688.39 L628.04 688.33 L628.38 688.09 L628.72 688.34 L629.06 689.35 L629.40 688.61 L629.74 688.81 L630.08 690.00 L630.42 689.50 L630.76 689.55 L631.10 690.86 L631.44 690.06 L631.78 690.86 L632.12 690.81 L632.46 691.04 L632.80 690.88 L633.14 691.63 L633.48 692.16 L633.82 691.53 L634.16 692.82 L634.50 692.43 L634.84 692.74 L635.18 693.37 L635.53 693.17 L635.87 693.30 L636.21 694.54 L636.55 693.98 L636.89 693.63 L637.23 693.40 L637.57 694.98 L637.91 695.07 L638.25 696.07 L638.59 695.15 L638.93 695.35 L639.27 696.05 L639.61 696.76 L639.95 696.95 L640.29 696.57 L640.63 696.45 L640.97 696.91 L641.31 697.61 L641.65 697.12 L641.99 697.11 L642.33 697.61 L642.67 697.64 L643.01 697.74 L643.35 698.65 L643.69 698.21 L644.04 698.10 L644.38 697.96 L644.72 697.70 L645.06 698.36 L645.40 698.68 L645.74 698.32 L646.08 698.49 L646.42 698.61 L646.76 698.14 L647.10 697.25 L647.44 696.33 L647.78 696.04 L648.12 697.65 L648.46 697.69 L648.80 698.29 L649.14 698.96 L649.48 699.48 L649.82 699.48 L650.16 699.62 L650.50 700.21 L650.84 699.31 L651.18 699.45 L651.52 699.94 L651.86 699.94 L652.20 700.45 L652.55 700.66 L652.89 699.92 L653.23 699.63 L653.57 700.75 L653.91 700.41 L654.25 699.64 L654.59 699.61 L654.93 700.62 L655.27 700.46 L655.61 700.96 L655.95 701.24 L656.29 701.00 L656.63 700.79 L656.97 699.40 L657.31 701.24 L657.65 700.00 L657.99 701.11 L658.33 700.46 L658.67 700.92 L659.01 701.96 L659.35 701.23 L659.69 702.06 L660.03 701.59 L660.37 702.18 L660.71 701.36 L661.06 701.56 L661.40 702.67 L661.74 702.31 L662.08 701.85 L662.42 702.15 L662.76 701.25 L663.10 701.92 L663.44 701.80 L663.78 702.11 L664.12 703.01 L664.46 702.45 L664.80 702.62 L665.14 702.60 L665.48 703.46 L665.82 703.55 L666.16 703.06 L666.50 702.51 L666.84 703.38 L667.18 703.74 L667.52 703.08 L667.86 704.48 L668.20 703.80 L668.54 704.33 L668.88 704.07 L669.22 704.01 L669.57 703.83 L669.91 703.64 L670.25 701.65 L670.59 703.27 L670.93 704.10 L671.27 704.18 L671.61 705.03 L671.95 704.51 L672.29 705.47 L672.63 705.35 L672.97 705.46 L673.31 706.06 L673.65 705.89 L673.99 705.56 L674.33 705.87 L674.67 704.94 L675.01 705.46 L675.35 706.07 L675.69 706.25 L676.03 705.65 L676.37 705.97 L676.71 706.43 L677.05 706.48 L677.39 705.96 L677.73 706.02 L678.08 705.96 L678.42 704.88 L678.76 705.07 L679.10 705.47 L679.44 705.46 L679.78 705.64 L680.12 706.78 L680.46 706.61 L680.80 706.54 L681.14 707.22 L681.48 707.12 L681.82 706.96 L682.16 707.35 L682.50 706.96 L682.84 707.47 L683.18 707.38 L683.52 707.10 L683.86 707.16 L684.20 707.06 L684.54 707.75 L684.88 707.37 L685.22 707.05 L685.56 707.78 L685.90 707.71 L686.24 707.54 L686.59 707.59 L686.93 707.07 L687.27 705.32 L687.61 706.69 L687.95 706.37 L688.29 706.55 L688.63 706.86 L688.97 707.88 L689.31 707.22 L689.65 707.60 L689.99 707.45 L690.33 707.16 L690.67 707.61 L691.01 707.71 L691.35 708.61 L691.69 707.75 L692.03 708.02 L692.37 708.70 L692.71 708.18 L693.05 706.19 L693.39 707.11 L693.73 706.65 L694.07 707.61 L694.41 707.77 L694.75 707.56 L695.10 708.65 L695.44 707.64 L695.78 708.06 L696.12 707.79 L696.46 707.63 L696.80 707.51 L697.14 706.99 L697.48 708.61 L697.82 707.74 L698.16 708.28 L698.50 708.55 L698.84 708.01 L699.18 708.44 L699.52 708.84 L699.86 708.63 L700.20 708.97 L700.54 707.64 L700.88 708.51 L701.22 708.85 L701.56 708.10 L701.90 709.00 L702.24 708.30 L702.58 706.72 L702.92 707.59 L703.26 706.91 L703.61 706.47 L703.95 706.83 L704.29 708.07 L704.63 708.16 L704.97 708.56 L705.31 708.14 L705.65 708.38 L705.99 707.05 L706.33 707.29 L706.67 705.59 L707.01 707.29 L707.35 707.59 L707.69 709.29 L708.03 708.13 L708.37 707.17 L708.71 708.86 L709.05 708.50 L709.39 708.99 L709.73 708.91 L710.07 708.63 L710.41 708.75 L710.75 708.58 L711.09 709.59 L711.43 709.29 L711.77 708.45 L712.12 709.05 L712.46 707.21 L712.80 706.87 L713.14 707.59 L713.48 708.38 L713.82 708.55 L714.16 709.42 L714.50 708.72 L714.84 709.19 L715.18 708.68 L715.52 708.87 L715.86 708.95 L716.20 708.87 L716.54 708.63 L716.88 707.80 L717.22 707.55 L717.56 708.49 L717.90 706.32 L718.24 707.94 L718.58 708.47 L718.92 708.93 L719.26 708.74 L719.60 709.32 L719.94 709.55 L720.28 708.44 L720.63 708.59 L720.97 710.22 L721.31 709.65 L721.65 709.43 L721.99 707.71 L722.33 708.48 L722.67 708.40 L723.01 708.89 L723.35 709.48 L723.69 709.95 L724.03 711.34 L724.37 710.72 L724.71 710.75 L725.05 711.05 L725.39 710.79 L725.73 711.68 L726.07 711.70 L726.41 710.92 L726.75 711.53 L727.09 711.43 L727.43 712.01 L727.77 710.40 L728.11 709.76 L728.45 710.44 L728.79 711.12 L729.14 711.11 L729.48 711.24 L729.82 710.81 L730.16 711.05 L730.50 711.59 L730.84 711.27 L731.18 711.03 L731.52 711.99 L731.86 710.98 L732.20 711.00 L732.54 710.58 L732.88 711.01"/>
<path stroke="#ff7f0e" d="M460.90 432.10 L461.24 450.76 L461.58 464.30 L461.92 473.62 L462.26 477.98 L462.60 480.22 L462.94 481.68 L463.28 482.86 L463.62 484.18 L463.96 484.50 L464.30 487.67 L464.64 490.45 L464.98 496.99 L465.33 504.50 L465.67 511.27 L466.01 519.06 L466.35 526.62 L466.69 533.83 L467.03 539.99 L467.37 544.74 L467.71 547.86 L468.05 550.81 L468.39 554.34 L468.73 556.28 L469.07 558.83 L469.41 562.31 L469.75 565.42 L470.09 568.03 L470.43 570.72 L470.77 573.96 L471.11 576.89 L471.45 578.78 L471.79 579.81 L472.13 582.91 L472.47 585.55 L472.81 587.56 L473.15 590.19 L473.49 592.64 L473.84 594.46 L474.18 596.59 L474.52 599.41 L474.86 601.77 L475.20 604.47 L475.54 605.91 L475.88 608.40 L476.22 610.49 L476.56 612.19 L476.90 614.76 L477.24 616.59 L477.58 617.57 L477.92 619.56 L478.26 620.24 L478.60 621.31 L478.94 622.30 L479.28 623.51 L479.62 623.60 L479.96 625.22 L480.30 626.06 L480.64 625.95 L480.98 627.39 L481.32 627.27 L481.66 628.68 L482.00 629.09 L482.35 630.01 L482.69 630.80 L483.03 630.71 L483.37 631.82 L483.71 632.38 L484.05 633.33 L484.39 633.64 L484.73 634.89 L485.07 635.34 L485.41 635.64 L485.75 636.52 L486.09 637.31 L486.43 638.00 L486.77 636.98 L487.11 636.84 L487.45 637.65 L487.79 638.23 L488.13 638.30 L488.47 640.01 L488.81 639.74 L489.15 640.78 L489.49 640.10 L489.83 640.05 L490.17 641.41 L490.51 641.78 L490.86 643.02 L491.20 644.08 L491.54 644.81 L491.88 643.88 L492.22 644.81 L492.56 645.74 L492.90 646.51 L493.24 646.50 L493.58 646.47 L493.92 647.25 L494.26 647.45 L494.60 647.66 L494.94 647.22 L495.28 648.28 L495.62 648.79 L495.96 649.07 L496.30 649.16 L496.64 647.59 L496.98 648.78 L497.32 650.15 L497.66 650.25 L498.00 650.32 L498.34 651.83 L498.68 651.92 L499.02 652.72 L499.37 651.36 L499.71 651.80 L500.05 651.94 L500.39 653.28 L500.73 653.35 L501.07 652.69 L501.41 653.24 L501.75 654.01 L502.09 653.17 L502.43 653.89 L502.77 654.29 L503.11 654.87 L503.45 655.54 L503.79 655.43 L504.13 656.03 L504.47 655.78 L504.81 656.28 L505.15 655.57 L505.49 656.03 L505.83 657.06 L506.17 656.73 L506.51 657.34 L506.85 657.50 L507.19 657.96 L507.53 657.93 L507.88 658.17 L508.22 657.91 L508.56 657.84 L508.90 657.98 L509.24 658.22 L509.58 658.13 L509.92 658.50 L510.26 658.82 L510.60 659.10 L510.94 659.02 L511.28 658.58 L511.62 659.41 L511.96 659.61 L512.30 659.79 L512.64 658.16 L512.98 658.41 L513.32 658.70 L513.66 658.85 L514.00 657.46 L514.34 659.25 L514.68 660.26 L515.02 659.76 L515.36 660.64 L515.70 661.00 L516.04 661.29 L516.39 661.51 L516.73 661.57 L517.07 661.73 L517.41 661.27 L517.75 661.92 L518.09 661.85 L518.43 662.31 L518.77 662.18 L519.11 662.75 L519.45 662.97 L519.79 662.90 L520.13 662.95 L520.47 662.52 L520.81 660.95 L521.15 661.72 L521.49 662.12 L521.83 662.86 L522.17 663.06 L522.51 663.54 L522.85 662.96 L523.19 663.97 L523.53 663.62 L523.87 663.84 L524.21 664.23 L524.55 664.25 L524.90 664.72 L525.24 664.53 L525.58 664.47 L525.92 664.68 L526.26 665.61 L526.60 665.25 L526.94 664.91 L527.28 665.47 L527.62 664.99 L527.96 666.36 L528.30 665.23 L528.64 666.09 L528.98 666.22 L529.32 665.58 L529.66 666.34 L530.00 666.71 L530.34 666.62 L530.68 666.65 L531.02 667.01 L531.36 666.77 L531.70 666.69 L532.04 665.30 L532.38 666.24 L532.72 665.97 L533.06 666.11 L533.41 666.26 L533.75 666.50 L534.09 667.38 L534.43 668.14 L534.77 668.06 L535.11 667.65 L535.45 668.28 L535.79 668.00 L536.13 668.27 L536.47 668.49 L536.81 667.72 L537.15 668.80 L537.49 668.48 L537.83 668.74 L538.17 668.59 L538.51 668.71 L538.85 669.06 L539.19 669.87 L539.53 670.32 L539.87 669.83 L540.21 670.39 L540.55 670.02 L540.89 669.54 L541.23 670.38 L541.57 670.67 L541.92 670.50 L542.26 670.93 L542.60 671.18 L542.94 670.79 L543.28 670.70 L543.62 671.32 L543.96 671.45 L544.30 671.49 L544.64 671.88 L544.98 670.97 L545.32 670.84 L545.66 671.65 L546.00 671.60 L546.34 671.99 L546.68 672.37 L547.02 671.52 L547.36 672.00 L547.70 673.04 L548.04 672.95 L548.38 672.63 L548.72 673.00 L549.06 671.84 L549.40 672.07 L549.74 672.13 L550.08 672.96 L550.43 672.36 L550.77 673.35 L551.11 673.27 L551.45 673.14 L551.79 674.31 L552.13 674.21 L552.47 673.84 L552.81 674.65 L553.15 674.31 L553.49 673.34 L553.83 674.08 L554.17 674.68 L554.51 675.02 L554.85 675.03 L555.19 675.14 L555.53 675.45 L555.87 675.32 L556.21 675.96 L556.55 675.68 L556.89 675.84 L557.23 676.02 L557.57 675.51 L557.91 675.72 L558.25 676.64 L558.59 676.26 L558.94 676.10 L559.28 676.40 L559.62 676.14 L559.96 676.38 L560.30 675.52 L560.64 676.15 L560.98 675.67 L561.32 676.92 L561.66 676.35 L562.00 676.05 L562.34 676.65 L562.68 676.66 L563.02 676.93 L563.36 676.50 L563.70 677.11 L564.04 678.27 L564.38 675.92 L564.72 676.84 L565.06 676.75 L565.40 677.09 L565.74 676.41 L566.08 676.44 L566.42 675.90 L566.76 676.42 L567.10 677.49 L567.45 676.91 L567.79 677.43 L568.13 678.59 L568.47 677.30 L568.81 677.23 L569.15 677.09 L569.49 677.40 L569.83 677.95 L570.17 677.84 L570.51 677.60 L570.85 677.90 L571.19 678.95 L571.53 678.56 L571.87 677.14 L572.21 678.23 L572.55 678.04 L572.89 678.63 L573.23 678.09 L573.57 677.27 L573.91 675.84 L574.25 676.67 L574.59 677.07 L574.93 677.51 L575.27 678.07 L575.61 678.78 L575.96 678.77 L576.30 678.67 L576.64 679.48 L576.98 679.25 L577.32 679.29 L577.66 679.11 L578.00 679.07 L578.34 677.86 L578.68 677.04 L579.02 679.07 L579.36 679.29 L579.70 679.10 L580.04 678.64 L580.38 678.73 L580.72 677.96 L581.06 677.63 L581.40 679.02 L581.74 679.73 L582.08 680.47 L582.42 680.81 L582.76 680.86 L583.10 680.06 L583.44 679.80 L583.78 680.95 L584.12 680.81 L584.47 681.11 L584.81 680.76 L585.15 680.68 L585.49 678.54 L585.83 680.11 L586.17 680.31 L586.51 680.95 L586.85 681.21 L587.19 681.15 L587.53 681.40 L587.87 681.37 L588.21 681.72 L588.55 681.66 L588.89 681.15 L589.23 680.32 L589.57 681.39 L589.91 679.40 L590.25 680.91 L590.59 681.24 L590.93 681.01 L591.27 681.23 L591.61 681.74 L591.95 681.91 L592.29 682.13 L592.63 681.49 L592.98 681.79 L593.32 681.98 L593.66 682.46 L594.00 679.92 L594.34 681.23 L594.68 679.61 L595.02 680.95 L595.36 680.93 L595.70 680.05 L596.04 681.30 L596.38 681.40 L596.72 681.83 L597.06 682.10 L597.40 681.90 L597.74 682.55 L598.08 682.40 L598.42 682.28 L598.76 682.66 L599.10 682.67 L599.44 683.11 L599.78 682.88 L600.12 682.76 L600.46 683.56 L600.80 683.44 L601.14 683.60 L601.49 683.41 L601.83 683.20 L602.17 683.13 L602.51 683.24 L602.85 683.75 L603.19 683.49 L603.53 682.95 L603.87 683.54 L604.21 683.08 L604.55 683.73 L604.89 683.27 L605.23 683.30 L605.57 683.87 L605.91 683.84 L606.25 683.30 L606.59 684.26 L606.93 684.84 L607.27 683.51 L607.61 684.73 L607.95 683.47 L608.29 683.76 L608.63 684.03 L608.97 683.61 L609.31 684.41 L609.65 684.27 L610.00 683.91 L610.34 684.05 L610.68 683.76 L611.02 684.32 L611.36 684.89 L611.70 683.97 L612.04 684.47 L612.38 684.53 L612.72 683.79 L613.06 684.28 L613.40 683.90 L613.74 683.99 L614.08 684.41 L614.42 683.10 L614.76 683.69 L615.10 684.63 L615.44 685.16 L615.78 684.85 L616.12 684.85 L616.46 685.27 L616.80 684.45 L617.14 685.21 L617.48 684.76 L617.82 685.42 L618.16 685.12 L618.51 685.14 L618.85 685.12 L619.19 684.41 L619.53 685.74 L619.87 686.17 L620.21 685.36 L620.55 685.96 L620.89 686.03 L621.23 685.22 L621.57 686.20 L621.91 686.40 L622.25 686.02 L622.59 685.95 L622.93 686.29 L623.27 685.36 L623.61 685.54 L623.95 686.00 L624.29 684.73 L624.63 686.00 L624.97 685.73 L625.31 685.27 L625.65 686.11 L625.99 685.74 L626.33 685.63 L626.67 685.37 L627.02 686.42 L627.36 685.91 L627.70 686.40 L628.04 685.95 L628.38 685.08 L628.72 686.13 L629.06 686.07 L629.40 685.92 L629.74 684.93 L630.08 685.68 L630.42 686.05 L630.76 686.02 L631.10 686.49 L631.44 686.14 L631.78 685.97 L632.12 684.50 L632.46 685.17 L632.80 685.70 L633.14 685.72 L633.48 686.59 L633.82 686.81 L634.16 686.57 L634.50 686.04 L634.84 685.97 L635.18 686.36 L635.53 686.82 L635.87 686.80 L636.21 687.11 L636.55 686.50 L636.89 687.50 L637.23 686.03 L637.57 686.66 L637.91 686.48 L638.25 687.43 L638.59 687.84 L638.93 687.89 L639.27 687.89 L639.61 687.06 L639.95 687.37 L640.29 687.25 L640.63 685.54 L640.97 686.84 L641.31 686.89 L641.65 687.13 L641.99 687.57 L642.33 687.23 L642.67 687.40 L643.01 687.51 L643.35 688.00 L643.69 687.28 L644.04 686.75 L644.38 687.63 L644.72 687.16 L645.06 687.74 L645.40 688.16 L645.74 687.56 L646.08 687.24 L646.42 684.86 L646.76 686.27 L647.10 687.20 L647.44 687.45 L647.78 687.79 L648.12 688.58 L648.46 688.25 L648.80 688.64 L649.14 688.96 L649.48 688.48 L649.82 688.51 L650.16 688.81 L650.50 689.11 L650.84 689.11 L651.18 689.03 L651.52 689.21 L651.86 688.43 L652.20 688.67 L652.55 688.77 L652.89 686.76 L653.23 687.05 L653.57 686.26 L653.91 687.18 L654.25 687.89 L654.59 687.99 L654.93 688.75 L655.27 689.49 L655.61 688.93 L655.95 689.56 L656.29 689.25 L656.63 688.77 L656.97 689.13 L657.31 688.88 L657.65 689.56 L657.99 688.85 L658.33 689.79 L658.67 689.52 L659.01 688.55 L659.35 689.57 L659.69 689.69 L660.03 687.87 L660.37 688.66 L660.71 687.06 L661.06 688.17 L661.40 687.57 L661.74 687.71 L662.08 687.37 L662.42 687.43 L662.76 688.84 L663.10 689.75 L663.44 688.81 L663.78 689.45 L664.12 689.22 L664.46 689.14 L664.80 689.55 L665.14 689.91 L665.48 688.78 L665.82 689.55 L666.16 689.54 L666.50 688.95 L666.84 690.15 L667.18 690.33 L667.52 689.29 L667.86 690.31 L668.20 689.47 L668.54 689.48 L668.88 689.92 L669.22 689.67 L669.57 689.83 L669.91 690.07 L670.25 688.98 L670.59 689.14 L670.93 688.80 L671.27 689.11 L671.61 690.40 L671.95 689.84 L672.29 690.41 L672.63 690.08 L672.97 690.53 L673.31 690.22 L673.65 691.41 L673.99 690.50 L674.33 690.91 L674.67 690.96 L675.01 691.56 L675.35 690.67 L675.69 691.27 L676.03 691.30 L676.37 691.68 L676.71 691.76 L677.05 691.51 L677.39 691.88 L677.73 691.76 L678.08 692.18 L678.42 692.08 L678.76 691.98 L679.10 692.33 L679.44 692.59 L679.78 693.41 L680.12 692.48 L680.46 692.88 L680.80 693.37 L681.14 692.11 L681.48 692.12 L681.82 692.51 L682.16 693.06 L682.50 694.14 L682.84 693.48 L683.18 693.87 L683.52 693.41 L683.86 692.63 L684.20 692.74 L684.54 694.02 L684.88 693.71 L685.22 693.02 L685.56 693.16 L685.90 692.37 L686.24 693.49 L686.59 693.44 L686.93 691.13 L687.27 691.76 L687.61 692.99 L687.95 692.60 L688.29 693.56 L688.63 692.88 L688.97 693.44 L689.31 691.66 L689.65 692.38 L689.99 692.72 L690.33 693.44 L690.67 692.81 L691.01 693.51 L691.35 693.51 L691.69 693.90 L692.03 692.93 L692.37 692.66 L692.71 692.25 L693.05 691.94 L693.39 691.43 L693.73 692.11 L694.07 690.08 L694.41 690.73 L694.75 690.30 L695.10 691.07 L695.44 691.97 L695.78 693.19 L696.12 692.90 L696.46 692.87 L696.80 693.43 L697.14 693.67 L697.48 694.34 L697.82 694.63 L698.16 694.42 L698.50 694.82 L698.84 695.90 L699.18 695.32 L699.52 695.09 L699.86 696.18 L700.20 695.65 L700.54 695.45 L700.88 696.32 L701.22 695.93 L701.56 696.26 L701.90 696.75 L702.24 696.74 L702.58 696.66 L702.92 696.89 L703.26 697.01 L703.61 697.79 L703.95 697.21 L704.29 697.39 L704.63 698.49 L704.97 697.63 L705.31 698.51 L705.65 698.51 L705.99 697.84 L706.33 696.23 L706.67 697.62 L707.01 698.17 L707.35 698.62 L707.69 698.54 L708.03 699.17 L708.37 699.40 L708.71 698.63 L709.05 699.66 L709.39 699.15 L709.73 698.09 L710.07 698.50 L710.41 698.38 L710.75 698.81 L711.09 698.31 L711.43 699.36 L711.77 699.31 L712.12 698.10 L712.46 698.75 L712.80 698.97 L713.14 700.26 L713.48 699.91 L713.82 700.39 L714.16 700.52 L714.50 700.66 L714.84 701.38 L715.18 701.41 L715.52 701.16 L715.86 701.18 L716.20 701.40 L716.54 701.63 L716.88 699.56 L717.22 700.57 L717.56 701.05 L717.90 701.54 L718.24 701.85 L718.58 701.48 L718.92 703.10 L719.26 702.46 L719.60 702.76 L719.94 703.60 L720.28 702.97 L720.63 703.17 L720.97 703.14 L721.31 702.75 L721.65 703.68 L721.99 704.29 L722.33 703.71 L722.67 704.73 L723.01 703.95 L723.35 704.19 L723.69 704.81 L724.03 704.76 L724.37 705.14 L724.71 704.71 L725.05 704.62 L725.39 703.92 L725.73 704.50 L726.07 704.75 L726.41 704.54 L726.75 703.89 L727.09 704.36 L727.43 704.37 L727.77 706.23 L728.11 704.25 L728.45 704.33 L728.79 704.54 L729.14 705.44 L729.48 705.14 L729.82 705.32 L730.16 705.79 L730.50 706.81 L730.84 706.43 L731.18 706.39 L731.52 706.80 L731.86 707.37 L732.20 706.49 L732.54 706.95 L732.88 706.66"/>
<path stroke="#2ca02c" d="M460.90 454.40 L461.24 464.34 L461.58 474.50 L461.92 484.90 L462.26 495.61 L462.60 506.03 L462.94 517.71 L463.28 529.47 L463.62 541.05 L463.96 552.04 L464.30 562.21 L464.64 570.97 L464.98 576.65 L465.33 583.08 L465.67 587.91 L466.01 593.41 L466.35 597.22 L466.69 600.85 L467.03 603.68 L467.37 606.77 L467.71 609.49 L468.05 611.69 L468.39 613.86 L468.73 616.04 L469.07 616.67 L469.41 619.31 L469.75 621.58 L470.09 622.86 L470.43 625.30 L470.77 626.18 L471.11 628.08 L471.45 628.89 L471.79 630.44 L472.13 631.52 L472.47 632.93 L472.81 632.73 L473.15 634.31 L473.49 634.83 L473.84 634.99 L474.18 637.19 L474.52 638.15 L474.86 639.08 L475.20 640.68 L475.54 641.31 L475.88 642.28 L476.22 642.16 L476.56 643.01 L476.90 643.54 L477.24 644.97 L477.58 646.10 L477.92 646.58 L478.26 647.58 L478.60 648.44 L478.94 648.52 L479.28 649.66 L479.62 649.77 L479.96 650.60 L480.30 651.43 L480.64 652.11 L480.98 653.12 L481.32 653.03 L481.66 653.53 L482.00 654.27 L482.35 654.29 L482.69 654.59 L483.03 655.30 L483.37 656.18 L483.71 656.68 L484.05 656.48 L484.39 656.81 L484.73 657.74 L485.07 658.18 L485.41 658.53 L485.75 658.66 L486.09 659.50 L486.43 659.69 L486.77 660.24 L487.11 659.99 L487.45 660.35 L487.79 661.18 L488.13 661.67 L488.47 662.03 L488.81 662.31 L489.15 662.69 L489.49 663.01 L489.83 662.49 L490.17 663.11 L490.51 663.79 L490.86 664.12 L491.20 663.72 L491.54 664.85 L491.88 664.56 L492.22 664.66 L492.56 663.89 L492.90 664.69 L493.24 664.16 L493.58 665.53 L493.92 665.56 L494.26 664.78 L494.60 665.57 L494.94 665.46 L495.28 666.40 L495.62 667.03 L495.96 667.05 L496.30 667.36 L496.64 667.10 L496.98 667.60 L497.32 668.28 L497.66 668.27 L498.00 668.47 L498.34 668.99 L498.68 669.72 L499.02 669.15 L499.37 669.63 L499.71 669.12 L500.05 670.14 L500.39 669.47 L500.73 669.99 L501.07 669.89 L501.41 669.86 L501.75 670.74 L502.09 670.91 L502.43 670.58 L502.77 670.54 L503.11 671.20 L503.45 670.46 L503.79 671.75 L504.13 671.01 L504.47 671.31 L504.81 671.68 L505.15 671.37 L505.49 671.72 L505.83 672.24 L506.17 672.01 L506.51 672.14 L506.85 672.11 L507.19 672.96 L507.53 673.19 L507.88 673.25 L508.22 673.22 L508.56 673.61 L508.90 673.77 L509.24 673.40 L509.58 672.99 L509.92 672.71 L510.26 673.12 L510.60 672.17 L510.94 672.06 L511.28 668.14 L511.62 670.85 L511.96 672.41 L512.30 671.95 L512.64 673.10 L512.98 674.01 L513.32 673.92 L513.66 674.20 L514.00 675.02 L514.34 675.41 L514.68 674.95 L515.02 675.90 L515.36 676.23 L515.70 676.46 L516.04 676.78 L516.39 677.45 L516.73 677.80 L517.07 678.06 L517.41 677.73 L517.75 678.33 L518.09 678.76 L518.43 679.16 L518.77 679.26 L519.11 679.44 L519.45 679.38 L519.79 678.13 L520.13 678.17 L520.47 678.93 L520.81 679.01 L521.15 678.38 L521.49 679.11 L521.83 680.71 L522.17 679.79 L522.51 679.83 L522.85 680.66 L523.19 681.45 L523.53 680.36 L523.87 680.83 L524.21 680.33 L524.55 680.96 L524.90 681.85 L525.24 682.07 L525.58 682.10 L525.92 682.69 L526.26 683.00 L526.60 682.80 L526.94 683.17 L527.28 683.36 L527.62 683.25 L527.96 684.03 L528.30 683.77 L528.64 683.75 L528.98 683.33 L529.32 682.26 L529.66 683.94 L530.00 683.63 L530.34 684.55 L530.68 684.60 L531.02 685.02 L531.36 685.37 L531.70 685.17 L532.04 685.54 L532.38 685.76 L532.72 685.39 L533.06 685.70 L533.41 685.89 L533.75 686.33 L534.09 686.06 L534.43 686.31 L534.77 686.05 L535.11 685.39 L535.45 686.12 L535.79 686.87 L536.13 687.79 L536.47 687.49 L536.81 687.86 L537.15 687.83 L537.49 688.25 L537.83 688.37 L538.17 689.26 L538.51 689.00 L538.85 688.71 L539.19 689.75 L539.53 688.86 L539.87 689.52 L540.21 688.40 L540.55 689.04 L540.89 689.34 L541.23 689.78 L541.57 689.88 L541.92 689.61 L542.26 689.38 L542.60 690.41 L542.94 690.57 L543.28 690.73 L543.62 690.66 L543.96 691.46 L544.30 691.55 L544.64 692.29 L544.98 692.66 L545.32 692.18 L545.66 691.44 L546.00 692.44 L546.34 692.55 L546.68 693.35 L547.02 693.92 L547.36 693.69 L547.70 694.45 L548.04 694.46 L548.38 694.37 L548.72 694.03 L549.06 694.54 L549.40 694.19 L549.74 695.15 L550.08 694.99 L550.43 695.53 L550.77 695.28 L551.11 694.54 L551.45 694.76 L551.79 695.18 L552.13 695.69 L552.47 695.06 L552.81 695.27 L553.15 695.75 L553.49 695.53 L553.83 695.53 L554.17 695.58 L554.51 696.09 L554.85 695.36 L555.19 695.49 L555.53 695.87 L555.87 696.07 L556.21 695.91 L556.55 696.30 L556.89 696.55 L557.23 696.33 L557.57 695.32 L557.91 694.31 L558.25 694.87 L558.59 696.61 L558.94 696.21 L559.28 696.83 L559.62 695.85 L559.96 692.73 L560.30 694.39 L560.64 695.15 L560.98 696.39 L561.32 697.12 L561.66 697.64 L562.00 697.58 L562.34 696.54 L562.68 696.44 L563.02 696.99 L563.36 696.84 L563.70 697.61 L564.04 698.07 L564.38 697.96 L564.72 697.92 L565.06 698.20 L565.40 698.49 L565.74 699.70 L566.08 699.39 L566.42 699.91 L566.76 699.42 L567.10 699.42 L567.45 699.01 L567.79 699.97 L568.13 699.60 L568.47 699.54 L568.81 700.77 L569.15 700.48 L569.49 700.69 L569.83 700.70 L570.17 700.85 L570.51 701.15 L570.85 701.21 L571.19 701.32 L571.53 701.66 L571.87 700.74 L572.21 701.95 L572.55 701.56 L572.89 702.16 L573.23 702.37 L573.57 701.82 L573.91 702.44 L574.25 702.44 L574.59 701.62 L574.93 699.89 L575.27 701.04 L575.61 700.95 L575.96 702.02 L576.30 702.60 L576.64 702.68 L576.98 702.53 L577.32 703.12 L577.66 703.88 L578.00 703.85 L578.34 702.86 L578.68 702.96 L579.02 703.21 L579.36 703.55 L579.70 703.59 L580.04 703.92 L580.38 704.41 L580.72 704.66 L581.06 703.70 L581.40 704.93 L581.74 704.76 L582.08 705.18 L582.42 704.86 L582.76 704.95 L583.10 704.65 L583.44 703.45 L583.78 705.16 L584.12 704.86 L584.47 704.24 L584.81 703.62 L585.15 702.74 L585.49 702.95 L585.83 702.85 L586.17 703.41 L586.51 703.61 L586.85 704.61 L587.19 704.77 L587.53 705.22 L587.87 705.33 L588.21 705.36 L588.55 705.66 L588.89 705.77 L589.23 705.15 L589.57 705.57 L589.91 705.65 L590.25 705.48 L590.59 705.15 L590.93 705.41 L591.27 705.81 L591.61 705.85 L591.95 706.36 L592.29 705.73 L592.63 705.84 L592.98 705.83 L593.32 705.91 L593.66 705.65 L594.00 704.38 L594.34 701.34 L594.68 703.25 L595.02 704.45 L595.36 704.52 L595.70 705.36 L596.04 706.42 L596.38 706.05 L596.72 706.37 L597.06 706.18 L597.40 705.67 L597.74 706.23 L598.08 707.05 L598.42 706.73 L598.76 706.91 L599.10 706.52 L599.44 706.90 L599.78 706.88 L600.12 706.97 L600.46 706.09 L600.80 707.23 L601.14 706.72 L601.49 707.29 L601.83 706.68 L602.17 707.23 L602.51 707.82 L602.85 707.23 L603.19 707.79 L603.53 707.79 L603.87 708.03 L604.21 708.18 L604.55 707.93 L604.89 708.16 L605.23 708.11 L605.57 708.11 L605.91 708.05 L606.25 708.83 L606.59 708.35 L606.93 708.88 L607.27 708.91 L607.61 708.48 L607.95 709.21 L608.29 708.66 L608.63 709.21 L608.97 709.53 L609.31 708.80 L609.65 708.80 L610.00 708.72 L610.34 708.93 L610.68 708.61 L611.02 708.65 L611.36 709.40 L611.70 709.28 L612.04 709.41 L612.38 708.77 L612.72 708.64 L613.06 709.32 L613.40 709.27 L613.74 708.62 L614.08 708.55 L614.42 709.19 L614.76 710.12 L615.10 710.26 L615.44 710.10 L615.78 708.51 L616.12 709.00 L616.46 709.98 L616.80 710.35 L617.14 710.75 L617.48 710.57 L617.82 710.62 L618.16 710.88 L618.51 710.58 L618.85 710.70 L619.19 711.24 L619.53 710.68 L619.87 711.09 L620.21 711.21 L620.55 709.96 L620.89 710.74 L621.23 710.65 L621.57 711.21 L621.91 711.32 L622.25 711.71 L622.59 711.71 L622.93 711.51 L623.27 711.42 L623.61 711.25 L623.95 711.05 L624.29 710.30 L624.63 710.90 L624.97 711.04 L625.31 712.01 L625.65 711.87 L625.99 711.76 L626.33 711.78 L626.67 711.77 L627.02 712.13 L627.36 712.73 L627.70 712.66 L628.04 712.41 L628.38 712.39 L628.72 710.97 L629.06 711.62 L629.40 711.40 L629.74 712.34 L630.08 712.15 L630.42 712.28 L630.76 712.68 L631.10 712.55 L631.44 713.30 L631.78 713.05 L632.12 713.16 L632.46 713.22 L632.80 713.06 L633.14 713.40 L633.48 713.35 L633.82 713.92 L634.16 713.42 L634.50 713.57 L634.84 713.35 L635.18 713.42 L635.53 713.48 L635.87 714.01 L636.21 713.49 L636.55 712.90 L636.89 712.56 L637.23 711.40 L637.57 711.48 L637.91 712.84 L638.25 713.59 L638.59 713.10 L638.93 713.74 L639.27 713.04 L639.61 712.90 L639.95 713.64 L640.29 713.24 L640.63 713.17 L640.97 713.93 L641.31 713.80 L641.65 713.54 L641.99 714.52 L642.33 713.82 L642.67 714.22 L643.01 714.23 L643.35 714.36 L643.69 714.20 L644.04 714.00 L644.38 715.18 L644.72 714.32 L645.06 714.38 L645.40 713.91 L645.74 714.73 L646.08 714.95 L646.42 713.93 L646.76 714.65 L647.10 713.57 L647.44 713.77 L647.78 714.03 L648.12 714.66 L648.46 713.76 L648.80 714.14 L649.14 713.77 L649.48 713.23 L649.82 709.44 L650.16 710.87 L650.50 712.45 L650.84 712.49 L651.18 714.26 L651.52 713.88 L651.86 714.80 L652.20 714.80 L652.55 714.69 L652.89 714.69 L653.23 715.41 L653.57 715.32 L653.91 715.07 L654.25 715.41 L654.59 715.26 L654.93 715.72 L655.27 715.33 L655.61 714.82 L655.95 715.01 L656.29 715.02 L656.63 715.80 L656.97 715.27 L657.31 715.06 L657.65 715.50 L657.99 715.37 L658.33 715.61 L658.67 715.65 L659.01 715.29 L659.35 715.65 L659.69 715.66 L660.03 715.33 L660.37 715.56 L660.71 715.83 L661.06 715.27 L661.40 715.45 L661.74 715.67 L662.08 715.80 L662.42 716.01 L662.76 715.42 L663.10 715.97 L663.44 716.09 L663.78 716.40 L664.12 715.77 L664.46 715.61 L664.80 715.32 L665.14 715.46 L665.48 715.60 L665.82 713.70 L666.16 714.58 L666.50 714.85 L666.84 713.68 L667.18 713.21 L667.52 714.28 L667.86 714.59 L668.20 714.70 L668.54 715.40 L668.88 715.66 L669.22 715.41 L669.57 716.00 L669.91 716.61 L670.25 715.56 L670.59 716.34 L670.93 716.46 L671.27 716.23 L671.61 716.36 L671.95 716.20 L672.29 716.76 L672.63 716.04 L672.97 716.30 L673.31 715.75 L673.65 716.51 L673.99 716.56 L674.33 715.93 L674.67 716.21 L675.01 716.61 L675.35 715.99 L675.69 715.68 L676.03 715.48 L676.37 716.55 L676.71 717.17 L677.05 716.47 L677.39 716.82 L677.73 716.87 L678.08 716.75 L678.42 716.84 L678.76 716.82 L679.10 716.20 L679.44 717.45 L679.78 717.58 L680.12 716.52 L680.46 717.11 L680.80 716.20 L681.14 716.57 L681.48 717.01 L681.82 715.52 L682.16 715.83 L682.50 716.64 L682.84 716.10 L683.18 717.44 L683.52 717.07 L683.86 715.95 L684.20 716.67 L684.54 716.55 L684.88 716.81 L685.22 717.58 L685.56 717.74 L685.90 717.58 L686.24 717.55 L686.59 717.20 L686.93 716.51 L687.27 715.99 L687.61 716.47 L687.95 716.50 L688.29 716.17 L688.63 716.64 L688.97 717.02 L689.31 717.84 L689.65 718.00 L689.99 716.30 L690.33 716.22 L690.67 716.96 L691.01 717.42 L691.35 717.61 L691.69 717.75 L692.03 718.17 L692.37 717.48 L692.71 718.01 L693.05 718.33 L693.39 718.55 L693.73 718.46 L694.07 718.41 L694.41 718.35 L694.75 717.96 L695.10 716.86 L695.44 717.37 L695.78 717.61 L696.12 718.45 L696.46 718.33 L696.80 718.05 L697.14 718.49 L697.48 718.59 L697.82 718.47 L698.16 718.56 L698.50 718.79 L698.84 718.17 L699.18 718.31 L699.52 718.99 L699.86 718.91 L700.20 719.12 L700.54 718.62 L700.88 719.23 L701.22 719.28 L701.56 719.63 L701.90 718.78 L702.24 718.96 L702.58 719.18 L702.92 719.10 L703.26 718.16 L703.61 718.53 L703.95 718.46 L704.29 719.76 L704.63 719.09 L704.97 719.19 L705.31 719.07 L705.65 719.33 L705.99 719.63 L706.33 719.31 L706.67 719.45 L707.01 720.20 L707.35 719.83 L707.69 719.64 L708.03 719.47 L708.37 719.63 L708.71 719.43 L709.05 719.80 L709.39 719.53 L709.73 719.55 L710.07 719.69 L710.41 719.52 L710.75 719.97 L711.09 720.72 L711.43 719.49 L711.77 717.83 L712.12 719.11 L712.46 719.11 L712.80 720.06 L713.14 719.77 L713.48 720.14 L713.82 719.75 L714.16 719.60 L714.50 720.05 L714.84 719.75 L715.18 719.58 L715.52 719.59 L715.86 720.11 L716.20 720.31 L716.54 720.45 L716.88 720.54 L717.22 720.82 L717.56 719.44 L717.90 716.02 L718.24 717.45 L718.58 719.16 L718.92 719.14 L719.26 720.65 L719.60 720.54 L719.94 720.31 L720.28 721.04 L720.63 721.06 L720.97 721.51 L721.31 720.27 L721.65 721.04 L721.99 721.13 L722.33 721.53 L722.67 720.94 L723.01 721.10 L723.35 722.02 L723.69 721.58 L724.03 720.93 L724.37 721.52 L724.71 721.16 L725.05 721.19 L725.39 721.01 L725.73 721.72 L726.07 721.22 L726.41 721.44 L726.75 721.39 L727.09 720.86 L727.43 721.09 L727.77 721.56 L728.11 720.78 L728.45 721.35 L728.79 721.21 L729.14 721.43 L729.48 721.41 L729.82 721.42 L730.16 721.09 L730.50 720.86 L730.84 719.14 L731.18 719.74 L731.52 720.49 L731.86 719.91 L732.20 718.92 L732.54 718.04 L732.88 718.25"/>
</g>
<rect x="447.30" y="412.60" width="299.20" height="318.15" fill="none" stroke="#262626" stroke-width="1.25"/>
<path d="M443.90 515.45H447.30M445.30 483.04H447.30M445.30 464.09H447.30M445.30 450.64H447.30M445.30 440.21H447.30M445.30 431.68H447.30M445.30 424.48H447.30M445.30 418.23H447.30M445.30 412.73H447.30M443.90 623.10H447.30M445.30 590.69H447.30M445.30 571.74H447.30M445.30 558.29H447.30M445.30 547.86H447.30M445.30 539.33H447.30M445.30 532.13H447.30M445.30 525.88H447.30M445.30 520.38H447.30M443.90 730.75H447.30M445.30 698.34H447.30M445.30 679.39H447.30M445.30 665.94H447.30M445.30 655.51H447.30M445.30 646.98H447.30M445.30 639.78H447.30M445.30 633.53H447.30M445.30 628.03H447.30M460.90 730.75V733.75M546.00 730.75V733.75M631.10 730.75V733.75M716.20 730.75V733.75" stroke="#262626" stroke-width="1.1" fill="none"/>
<text transform="translate(387.60 524.00) scale(0.9700 1)" font-size="23.90" x="0.63 15.52" y="0">10</text>
<text transform="translate(417.09 517.07) scale(1.1576 1)" font-size="17.54">−</text>
<text transform="translate(430.18 516.10) scale(0.9531 1)" font-size="16.73">1</text>
<text transform="translate(387.60 631.40) scale(0.9700 1)" font-size="23.90" x="0.63 15.52" y="0">10</text>
<text transform="translate(417.09 624.47) scale(1.1576 1)" font-size="17.54">−</text>
<text transform="translate(429.96 623.50) scale(0.9613 1)" font-size="16.82">2</text>
<text transform="translate(387.60 739.20) scale(0.9700 1)" font-size="23.90" x="0.63 15.52" y="0">10</text>
<text transform="translate(417.09 732.27) scale(1.1576 1)" font-size="17.54">−</text>
<text transform="translate(430.17 731.38) scale(0.9481 1)" font-size="16.93">3</text>
<text transform="translate(453.34 754.80) scale(0.9906 1)" font-size="23.99" x="0.58" y="0">0</text>
<text transform="translate(524.13 754.80) scale(0.9595 1)" font-size="23.99" x="0.49 15.64 30.66" y="0">250</text>
<text transform="translate(609.23 754.80) scale(0.9906 1)" font-size="23.99" x="0.49 15.04 29.49" y="0">500</text>
<text transform="translate(694.33 754.80) scale(0.9621 1)" font-size="23.99" x="0.72 15.58 30.56" y="0">750</text>
<text transform="translate(170.23 25.50) scale(1.0294 1)" font-size="28.10" font-style="italic" x="0.27 16.83 24.70" y="0">dim</text>
<text transform="translate(221.52 23.69) scale(0.8885 1)" font-size="25.60">(</text>
<text transform="translate(231.15 25.50) scale(1.1091 1)" font-size="27.66" font-weight="bold">z</text>
<text transform="translate(248.68 23.69) scale(0.8843 1)" font-size="25.60">)</text>
<text transform="translate(263.54 24.84) scale(1.4570 1)" font-size="23.64">=</text>
<text transform="translate(290.90 25.59) scale(0.9445 1)" font-size="28.49">5</text>
<text transform="translate(520.27 25.50) scale(1.0294 1)" font-size="28.10" font-style="italic" x="0.27 16.83 24.70" y="0">dim</text>
<text transform="translate(571.56 23.69) scale(0.8885 1)" font-size="25.60">(</text>
<text transform="translate(581.20 25.50) scale(1.1091 1)" font-size="27.66" font-weight="bold">z</text>
<text transform="translate(598.73 23.69) scale(0.8843 1)" font-size="25.60">)</text>
<text transform="translate(613.59 24.84) scale(1.4570 1)" font-size="23.64">=</text>
<text transform="translate(640.01 25.50) scale(0.9738 1)" font-size="28.47" x="0.68 18.29" y="0">10</text>
<text transform="translate(161.47 407.60) scale(1.0294 1)" font-size="28.10" font-style="italic" x="0.27 16.83 24.70" y="0">dim</text>
<text transform="translate(212.76 405.79) scale(0.8885 1)" font-size="25.60">(</text>
<text transform="translate(222.40 407.60) scale(1.1091 1)" font-size="27.66" font-weight="bold">z</text>
<text transform="translate(239.93 405.79) scale(0.8843 1)" font-size="25.60">)</text>
<text transform="translate(254.79 406.94) scale(1.4570 1)" font-size="23.64">=</text>
<text transform="translate(281.21 407.60) scale(0.9703 1)" font-size="28.51" x="0.51 18.37" y="0">20</text>
<text transform="translate(520.27 407.60) scale(1.0294 1)" font-size="28.10" font-style="italic" x="0.27 16.83 24.70" y="0">dim</text>
<text transform="translate(571.56 405.79) scale(0.8885 1)" font-size="25.60">(</text>
<text transform="translate(581.20 407.60) scale(1.1091 1)" font-size="27.66" font-weight="bold">z</text>
<text transform="translate(598.73 405.79) scale(0.8843 1)" font-size="25.60">)</text>
<text transform="translate(613.59 406.94) scale(1.4570 1)" font-size="23.64">=</text>
<text transform="translate(640.01 407.60) scale(0.9909 1)" font-size="28.47" x="0.62 17.84" y="0">40</text>
<g transform="translate(21.6 190.53) rotate(-90)"><text transform="translate(-24.68 0.00) scale(0.9440 1)" font-size="23.57" x="0.62 14.02 27.94 40.36" y="0">Loss</text></g>
<g transform="translate(21.6 572.47) rotate(-90)"><text transform="translate(-24.68 0.00) scale(0.9440 1)" font-size="23.57" x="0.62 14.02 27.94 40.36" y="0">Loss</text></g>
<text transform="translate(204.15 779.20) scale(1.0102 1)" font-size="23.57" x="-0.90 14.74 28.47 41.82 54.60" y="0">Epoch</text>
<text transform="translate(562.95 779.20) scale(1.0102 1)" font-size="23.57" x="-0.90 14.74 28.47 41.82 54.60" y="0">Epoch</text>
<rect x="591.9" y="69" width="228.5" height="115" rx="4" ry="4" fill="#fff" stroke="#d5d5d5" stroke-width="1.1"/>
<path d="M600 88.50H645.1" stroke="#1f77b4" stroke-width="1.7"/>
<path d="M600 124.00H645.1" stroke="#ff7f0e" stroke-width="1.7"/>
<path d="M600 159.50H645.1" stroke="#2ca02c" stroke-width="1.7"/>
<text transform="translate(661.89 96.80) scale(1.0788 1)" font-size="22.69" font-style="italic">Z</text>
<text transform="translate(677.14 100.41) scale(1.0680 1)" font-size="15.72" font-style="italic" x="0.17 4.23" y="0">ij</text>
<path d="M707.05 87.89L707.05 89.84Q705.91 90.69 704.94 91.07Q703.96 91.44 702.91 91.44Q701.71 91.44 700.12 90.80Q700.01 90.76 699.94 90.72Q699.87 90.70 699.71 90.64Q698.02 89.97 696.99 89.97Q696.04 89.97 695.10 90.39Q694.16 90.80 693.10 91.72L693.10 89.77Q694.24 88.91 695.21 88.54Q696.19 88.17 697.25 88.17Q698.44 88.17 700.04 88.81Q700.16 88.86 700.22 88.88Q700.28 88.90 700.45 88.97Q702.13 89.64 703.16 89.64Q704.09 89.64 705.01 89.23Q705.94 88.82 707.05 87.89Z" fill="#000" stroke="#000" stroke-width="0.25"/>
<path d="M728.67 94.01L728.70 94.01Q732.15 82.62 732.55 81.55Q732.78 80.99 732.96 80.72Q734.03 79.07 735.50 79.07Q736.32 79.07 736.88 79.62Q737.44 80.17 737.44 80.95Q737.44 81.55 737.13 81.91Q736.81 82.28 736.26 82.28Q735.90 82.28 735.65 82.08Q735.41 81.88 735.31 81.65Q735.21 81.41 735.03 81.21Q734.85 81.01 734.63 81.01Q734.41 81.01 734.20 81.09Q734.00 81.17 733.87 81.27Q733.74 81.37 733.59 81.57Q733.45 81.77 733.36 81.90Q733.27 82.04 733.17 82.29Q733.07 82.55 733.03 82.66Q733.00 82.77 732.91 83.03Q732.82 83.29 732.82 83.33L728.56 97.34L728.12 97.34Q724.44 92.34 722.36 86.72L722.32 86.72Q722.09 87.81 721.93 88.57Q721.76 89.33 721.43 90.56Q721.09 91.78 720.78 92.65Q720.47 93.52 720.00 94.52Q719.53 95.53 719.04 96.16Q718.55 96.78 717.90 97.20Q717.26 97.63 716.54 97.63Q715.72 97.63 715.16 97.08Q714.60 96.53 714.60 95.75Q714.60 95.15 714.91 94.78Q715.23 94.41 715.78 94.41Q716.14 94.41 716.39 94.62Q716.63 94.81 716.73 95.05Q716.83 95.28 717.01 95.49Q717.19 95.69 717.41 95.69Q717.97 95.69 718.48 95.13Q719.00 94.57 719.42 93.57Q719.84 92.56 720.20 91.43Q720.56 90.29 720.88 88.83Q721.20 87.37 721.43 86.23Q721.65 85.09 721.89 83.76Q722.14 82.44 722.28 81.84L722.88 81.84Q723.06 82.28 723.73 83.98Q724.39 85.67 724.66 86.32Q724.93 86.97 725.53 88.36Q726.13 89.75 726.54 90.54Q726.96 91.32 727.54 92.30Q728.12 93.28 728.67 94.01Z" fill="#000" stroke="#000" stroke-width="0.25"/>
<text transform="translate(735.69 95.16) scale(0.9265 1)" font-size="20.46">(</text>
<text transform="translate(744.27 96.95) scale(1.0281 1)" font-size="22.86">0</text>
<text transform="translate(756.71 96.52) scale(1.4597 1)" font-size="21.96">,</text>
<text transform="translate(769.90 96.80) scale(0.9964 1)" font-size="22.69">1</text>
<text transform="translate(785.04 95.16) scale(0.9221 1)" font-size="20.46">)</text>
<text transform="translate(661.89 132.30) scale(1.0788 1)" font-size="22.69" font-style="italic">Z</text>
<text transform="translate(677.14 135.91) scale(1.0680 1)" font-size="15.72" font-style="italic" x="0.17 4.23" y="0">ij</text>
<text transform="translate(691.72 131.60) scale(1.5037 1)" font-size="18.98">=</text>
<text transform="translate(714.30 132.45) scale(1.0281 1)" font-size="22.86">0</text>
<text transform="translate(661.89 167.80) scale(1.0788 1)" font-size="22.69" font-style="italic">Z</text>
<text transform="translate(677.14 171.41) scale(1.0680 1)" font-size="15.72" font-style="italic" x="0.17 4.23" y="0">ij</text>
<text transform="translate(691.72 167.10) scale(1.5037 1)" font-size="18.98">=</text>
<text transform="translate(714.40 166.16) scale(0.9265 1)" font-size="20.46">(</text>
<text transform="translate(722.38 167.80) scale(0.8919 1)" font-size="22.69" font-style="italic">P</text>
<text transform="translate(735.99 167.80) scale(1.1617 1)" font-size="22.05" font-weight="bold">m</text>
<text transform="translate(759.05 171.41) scale(1.2719 1)" font-size="15.72" font-weight="bold">i</text>
<text transform="translate(765.10 171.41) scale(0.9854 1)" font-size="15.88">1</text>
<text transform="translate(777.80 171.41) scale(1.1595 1)" font-size="14.75">:</text>
<text transform="translate(784.86 171.41) scale(1.0719 1)" font-size="15.88" font-style="italic">T</text>
<text transform="translate(797.52 166.16) scale(0.9221 1)" font-size="20.46">)</text>
<text transform="translate(804.94 171.13) scale(1.1042 1)" font-size="15.57" font-style="italic">j</text>
</svg></body></html>
